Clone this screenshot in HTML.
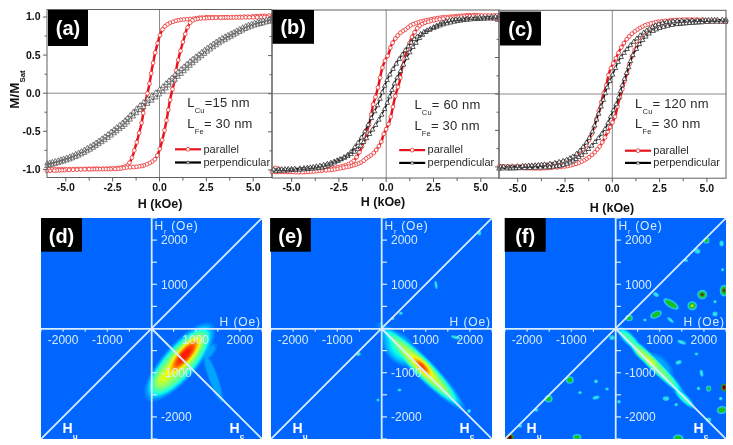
<!DOCTYPE html>
<html><head><meta charset="utf-8"><style>
html,body{margin:0;padding:0;background:#fff;}
body{width:733px;height:445px;position:relative;overflow:hidden;}
svg{will-change:transform;}
</style></head><body>
<svg width="733" height="445" viewBox="0 0 733 445" style="position:absolute;left:0;top:0;font-family:'Liberation Sans', sans-serif"><line x1="47" y1="93.2" x2="272" y2="93.2" stroke="#8a8a8a" stroke-width="1"/><line x1="159.5" y1="9.5" x2="159.5" y2="177.5" stroke="#8a8a8a" stroke-width="1"/><path d="M272.0,15.5 L270.7,15.6 L269.0,15.6 L267.0,15.7 L264.7,15.8 L262.2,16.0 L259.7,16.1 L257.1,16.2 L254.6,16.3 L252.2,16.4 L250.0,16.5 L247.9,16.6 L246.0,16.7 L244.0,16.7 L242.1,16.8 L240.2,16.9 L238.3,17.0 L236.4,17.0 L234.4,17.1 L232.2,17.2 L230.0,17.2 L227.6,17.2 L225.0,17.3 L222.2,17.3 L219.3,17.3 L216.5,17.3 L213.6,17.3 L210.9,17.3 L208.4,17.3 L206.0,17.3 L204.0,17.4 L202.3,17.5 L200.8,17.6 L199.5,17.7 L198.3,17.9 L197.3,18.1 L196.4,18.2 L195.4,18.4 L194.5,18.5 L193.6,18.7 L192.5,18.8 L191.4,18.9 L190.3,19.0 L189.1,19.1 L188.0,19.2 L186.9,19.2 L185.8,19.3 L184.7,19.4 L183.7,19.5 L182.7,19.6 L181.7,19.7 L180.8,19.8 L179.9,20.0 L179.0,20.1 L178.2,20.3 L177.4,20.5 L176.6,20.6 L175.8,20.8 L175.1,21.0 L174.3,21.3 L173.6,21.5 L172.9,21.8 L172.1,22.1 L171.4,22.4 L170.7,22.7 L169.9,23.0 L169.3,23.4 L168.6,23.7 L168.0,24.1 L167.4,24.4 L166.8,24.8 L166.3,25.2 L165.8,25.5 L165.3,25.9 L164.9,26.3 L164.5,26.7 L164.2,27.1 L163.8,27.5 L163.5,28.0 L163.1,28.4 L162.8,28.9 L162.5,29.4 L162.2,29.9 L161.9,30.4 L161.7,31.0 L161.5,31.6 L161.2,32.1 L161.0,32.7 L160.8,33.2 L160.6,33.8 L160.4,34.3 L160.2,34.8 L160.0,35.3 L159.8,35.7 L159.7,36.2 L159.5,36.6 L159.3,37.1 L159.2,37.5 L159.0,38.0 L158.9,38.5 L158.7,39.0 L158.5,39.6 L158.4,40.1 L158.2,40.7 L158.1,41.3 L157.9,41.9 L157.7,42.5 L157.6,43.2 L157.4,43.8 L157.3,44.5 L157.1,45.1 L156.9,45.7 L156.8,46.4 L156.6,47.0 L156.4,47.6 L156.3,48.3 L156.1,48.9 L155.9,49.6 L155.7,50.3 L155.6,51.0 L155.4,51.8 L155.2,52.6 L155.0,53.4 L154.9,54.3 L154.7,55.2 L154.5,56.1 L154.3,57.0 L154.1,58.0 L153.9,58.9 L153.8,59.7 L153.6,60.6 L153.4,61.4 L153.3,62.2 L153.1,63.0 L152.9,63.7 L152.8,64.5 L152.6,65.2 L152.5,66.0 L152.3,66.8 L152.2,67.6 L152.0,68.5 L151.8,69.4 L151.7,70.4 L151.5,71.3 L151.4,72.3 L151.2,73.4 L151.1,74.4 L150.9,75.4 L150.7,76.5 L150.6,77.5 L150.4,78.5 L150.2,79.5 L150.0,80.5 L149.9,81.5 L149.7,82.6 L149.5,83.6 L149.3,84.6 L149.1,85.6 L148.9,86.6 L148.7,87.6 L148.5,88.6 L148.3,89.6 L148.1,90.6 L147.9,91.5 L147.6,92.5 L147.4,93.4 L147.2,94.4 L147.0,95.3 L146.8,96.3 L146.5,97.2 L146.3,98.1 L146.1,99.0 L145.8,99.9 L145.6,100.7 L145.3,101.6 L145.1,102.4 L144.9,103.3 L144.6,104.1 L144.4,105.0 L144.2,105.9 L144.0,106.8 L143.8,107.8 L143.7,108.8 L143.5,109.8 L143.4,110.9 L143.3,111.9 L143.2,113.0 L143.1,114.0 L143.0,115.0 L142.8,116.0 L142.7,117.0 L142.5,117.9 L142.4,118.8 L142.2,119.6 L142.1,120.5 L141.9,121.3 L141.7,122.1 L141.6,122.9 L141.4,123.8 L141.2,124.6 L141.0,125.5 L140.8,126.4 L140.6,127.3 L140.3,128.3 L140.1,129.2 L139.9,130.2 L139.6,131.2 L139.4,132.1 L139.2,133.0 L138.9,133.9 L138.7,134.8 L138.5,135.6 L138.3,136.4 L138.1,137.2 L137.9,138.0 L137.7,138.7 L137.5,139.4 L137.3,140.2 L137.1,140.9 L136.9,141.6 L136.7,142.3 L136.5,143.0 L136.3,143.7 L136.1,144.4 L135.9,145.0 L135.7,145.7 L135.5,146.4 L135.3,147.0 L135.1,147.7 L134.9,148.3 L134.7,149.0 L134.5,149.7 L134.3,150.4 L134.1,151.1 L133.9,151.8 L133.7,152.4 L133.6,153.1 L133.4,153.8 L133.1,154.5 L132.9,155.2 L132.7,155.8 L132.5,156.4 L132.2,157.1 L132.0,157.7 L131.7,158.3 L131.4,159.0 L131.2,159.6 L130.9,160.2 L130.6,160.7 L130.3,161.3 L130.0,161.8 L129.7,162.3 L129.4,162.8 L129.2,163.2 L128.9,163.7 L128.6,164.1 L128.3,164.5 L128.0,164.9 L127.6,165.2 L127.1,165.6 L126.6,165.9 L126.0,166.2 L125.4,166.5 L124.7,166.7 L124.0,166.9 L123.2,167.1 L122.4,167.3 L121.5,167.5 L120.5,167.6 L119.5,167.8 L118.5,167.9 L117.4,168.0 L116.3,168.1 L115.2,168.2 L114.0,168.3 L112.8,168.3 L111.5,168.4 L110.1,168.5 L108.5,168.5 L106.8,168.5 L105.0,168.6 L103.0,168.7 L100.9,168.7 L98.6,168.7 L96.2,168.8 L93.7,168.8 L91.1,168.9 L88.5,168.9 L85.7,168.9 L82.9,169.0 L80.0,169.0 L76.9,169.0 L73.4,169.1 L69.6,169.1 L65.8,169.1 L61.9,169.1 L58.2,169.1 L54.7,169.2 L51.6,169.2 L49.0,169.2 L47.0,169.2" fill="none" stroke="#e8141b" stroke-width="2.5" stroke-linejoin="round"/><path d="M272.0,17.2 L270.0,17.2 L267.4,17.2 L264.3,17.2 L260.8,17.3 L257.1,17.3 L253.2,17.3 L249.4,17.3 L245.6,17.3 L242.1,17.4 L239.0,17.4 L236.1,17.4 L233.3,17.5 L230.5,17.5 L227.9,17.5 L225.3,17.6 L222.8,17.6 L220.4,17.7 L218.1,17.7 L216.0,17.7 L214.0,17.8 L212.2,17.9 L210.5,17.9 L208.9,17.9 L207.5,18.0 L206.2,18.1 L205.0,18.1 L203.8,18.2 L202.7,18.3 L201.6,18.4 L200.5,18.5 L199.5,18.6 L198.5,18.8 L197.5,18.9 L196.6,19.1 L195.8,19.3 L195.0,19.5 L194.3,19.7 L193.6,19.9 L193.0,20.2 L192.4,20.5 L191.9,20.8 L191.4,21.2 L191.0,21.5 L190.7,21.9 L190.4,22.3 L190.1,22.7 L189.8,23.2 L189.6,23.6 L189.3,24.1 L189.0,24.6 L188.7,25.1 L188.4,25.7 L188.1,26.2 L187.8,26.8 L187.6,27.4 L187.3,28.1 L187.0,28.7 L186.8,29.3 L186.5,30.0 L186.3,30.6 L186.1,31.2 L185.9,31.9 L185.6,32.6 L185.4,33.3 L185.3,34.0 L185.1,34.6 L184.9,35.3 L184.7,36.0 L184.5,36.7 L184.3,37.4 L184.1,38.1 L183.9,38.7 L183.7,39.4 L183.5,40.0 L183.3,40.7 L183.1,41.4 L182.9,42.0 L182.7,42.7 L182.5,43.4 L182.3,44.1 L182.1,44.8 L181.9,45.5 L181.7,46.2 L181.5,47.0 L181.3,47.7 L181.1,48.4 L180.9,49.2 L180.7,50.0 L180.5,50.8 L180.3,51.6 L180.1,52.5 L179.8,53.4 L179.6,54.3 L179.4,55.2 L179.1,56.2 L178.9,57.2 L178.7,58.1 L178.4,59.1 L178.2,60.0 L178.0,60.9 L177.8,61.8 L177.6,62.6 L177.4,63.5 L177.3,64.3 L177.1,65.1 L176.9,65.9 L176.8,66.8 L176.6,67.6 L176.5,68.5 L176.3,69.4 L176.2,70.4 L176.0,71.4 L175.9,72.4 L175.8,73.4 L175.7,74.5 L175.6,75.5 L175.5,76.6 L175.3,77.6 L175.2,78.6 L175.0,79.6 L174.8,80.5 L174.6,81.4 L174.4,82.3 L174.1,83.1 L173.9,84.0 L173.7,84.8 L173.4,85.7 L173.2,86.5 L172.9,87.4 L172.7,88.3 L172.5,89.2 L172.2,90.1 L172.0,91.1 L171.8,92.0 L171.6,93.0 L171.4,93.9 L171.1,94.9 L170.9,95.8 L170.7,96.8 L170.5,97.8 L170.3,98.8 L170.1,99.8 L169.9,100.8 L169.7,101.8 L169.5,102.8 L169.3,103.8 L169.1,104.9 L169.0,105.9 L168.8,106.9 L168.6,107.9 L168.4,108.9 L168.3,109.9 L168.1,111.0 L167.9,112.0 L167.8,113.0 L167.6,114.1 L167.5,115.1 L167.3,116.0 L167.2,117.0 L167.0,117.9 L166.8,118.8 L166.7,119.6 L166.5,120.4 L166.4,121.2 L166.2,121.9 L166.1,122.7 L165.9,123.4 L165.7,124.2 L165.6,125.0 L165.4,125.8 L165.2,126.7 L165.1,127.5 L164.9,128.4 L164.7,129.4 L164.5,130.3 L164.3,131.2 L164.1,132.1 L164.0,133.0 L163.8,133.8 L163.6,134.6 L163.4,135.4 L163.3,136.1 L163.1,136.8 L162.9,137.5 L162.7,138.1 L162.6,138.8 L162.4,139.4 L162.2,140.0 L162.1,140.7 L161.9,141.3 L161.7,141.9 L161.6,142.6 L161.4,143.2 L161.3,143.9 L161.1,144.5 L160.9,145.1 L160.8,145.7 L160.6,146.3 L160.5,146.8 L160.3,147.4 L160.1,147.9 L160.0,148.4 L159.8,148.9 L159.7,149.3 L159.5,149.8 L159.3,150.2 L159.2,150.7 L159.0,151.1 L158.8,151.6 L158.6,152.1 L158.4,152.6 L158.2,153.2 L158.0,153.7 L157.8,154.3 L157.5,154.8 L157.3,155.4 L157.1,156.0 L156.8,156.5 L156.5,157.0 L156.2,157.5 L155.9,158.0 L155.5,158.4 L155.2,158.9 L154.8,159.3 L154.5,159.7 L154.1,160.1 L153.7,160.5 L153.2,160.9 L152.7,161.2 L152.2,161.6 L151.6,162.0 L151.0,162.3 L150.4,162.7 L149.7,163.0 L149.1,163.4 L148.3,163.7 L147.6,164.0 L146.9,164.3 L146.1,164.6 L145.4,164.9 L144.7,165.1 L143.9,165.4 L143.2,165.6 L142.4,165.8 L141.6,166.0 L140.8,166.1 L140.0,166.3 L139.1,166.4 L138.2,166.6 L137.3,166.7 L136.3,166.8 L135.3,166.9 L134.3,167.0 L133.2,167.1 L132.1,167.2 L131.0,167.2 L129.9,167.3 L128.7,167.4 L127.6,167.5 L126.5,167.6 L125.4,167.7 L124.5,167.9 L123.6,168.0 L122.6,168.2 L121.7,168.3 L120.7,168.5 L119.5,168.7 L118.2,168.8 L116.7,168.9 L115.0,169.0 L113.0,169.1 L110.6,169.1 L108.1,169.1 L105.4,169.1 L102.5,169.1 L99.7,169.1 L96.8,169.1 L94.0,169.1 L91.4,169.2 L89.0,169.2 L86.8,169.2 L84.6,169.3 L82.6,169.4 L80.7,169.4 L78.8,169.5 L76.9,169.6 L75.0,169.7 L73.0,169.7 L71.1,169.8 L69.0,169.9 L66.8,170.0 L64.4,170.1 L61.9,170.2 L59.3,170.3 L56.8,170.4 L54.3,170.6 L52.0,170.7 L50.0,170.8 L48.3,170.8 L47.0,170.9" fill="none" stroke="#e8141b" stroke-width="2.5" stroke-linejoin="round"/><circle fill="#fff" stroke="#f03a3a" stroke-width="0.85" cx="272.0" cy="15.5" r="1.9"/><circle fill="#fff" stroke="#f03a3a" stroke-width="0.85" cx="269.0" cy="15.6" r="1.9"/><circle fill="#fff" stroke="#f03a3a" stroke-width="0.85" cx="264.7" cy="15.8" r="1.9"/><circle fill="#fff" stroke="#f03a3a" stroke-width="0.85" cx="262.2" cy="16.0" r="1.9"/><circle fill="#fff" stroke="#f03a3a" stroke-width="0.85" cx="259.7" cy="16.1" r="1.9"/><circle fill="#fff" stroke="#f03a3a" stroke-width="0.85" cx="257.1" cy="16.2" r="1.9"/><circle fill="#fff" stroke="#f03a3a" stroke-width="0.85" cx="254.6" cy="16.3" r="1.9"/><circle fill="#fff" stroke="#f03a3a" stroke-width="0.85" cx="252.2" cy="16.4" r="1.9"/><circle fill="#fff" stroke="#f03a3a" stroke-width="0.85" cx="247.9" cy="16.6" r="1.9"/><circle fill="#fff" stroke="#f03a3a" stroke-width="0.85" cx="244.0" cy="16.7" r="1.9"/><circle fill="#fff" stroke="#f03a3a" stroke-width="0.85" cx="240.2" cy="16.9" r="1.9"/><circle fill="#fff" stroke="#f03a3a" stroke-width="0.85" cx="236.4" cy="17.0" r="1.9"/><circle fill="#fff" stroke="#f03a3a" stroke-width="0.85" cx="232.2" cy="17.2" r="1.9"/><circle fill="#fff" stroke="#f03a3a" stroke-width="0.85" cx="227.6" cy="17.2" r="1.9"/><circle fill="#fff" stroke="#f03a3a" stroke-width="0.85" cx="225.0" cy="17.3" r="1.9"/><circle fill="#fff" stroke="#f03a3a" stroke-width="0.85" cx="222.2" cy="17.3" r="1.9"/><circle fill="#fff" stroke="#f03a3a" stroke-width="0.85" cx="219.3" cy="17.3" r="1.9"/><circle fill="#fff" stroke="#f03a3a" stroke-width="0.85" cx="216.5" cy="17.3" r="1.9"/><circle fill="#fff" stroke="#f03a3a" stroke-width="0.85" cx="213.6" cy="17.3" r="1.9"/><circle fill="#fff" stroke="#f03a3a" stroke-width="0.85" cx="210.9" cy="17.3" r="1.9"/><circle fill="#fff" stroke="#f03a3a" stroke-width="0.85" cx="208.4" cy="17.3" r="1.9"/><circle fill="#fff" stroke="#f03a3a" stroke-width="0.85" cx="206.0" cy="17.3" r="1.9"/><circle fill="#fff" stroke="#f03a3a" stroke-width="0.85" cx="202.3" cy="17.5" r="1.9"/><circle fill="#fff" stroke="#f03a3a" stroke-width="0.85" cx="199.5" cy="17.7" r="1.9"/><circle fill="#fff" stroke="#f03a3a" stroke-width="0.85" cx="196.4" cy="18.2" r="1.9"/><circle fill="#fff" stroke="#f03a3a" stroke-width="0.85" cx="193.6" cy="18.7" r="1.9"/><circle fill="#fff" stroke="#f03a3a" stroke-width="0.85" cx="190.3" cy="19.0" r="1.9"/><circle fill="#fff" stroke="#f03a3a" stroke-width="0.85" cx="186.9" cy="19.2" r="1.9"/><circle fill="#fff" stroke="#f03a3a" stroke-width="0.85" cx="183.7" cy="19.5" r="1.9"/><circle fill="#fff" stroke="#f03a3a" stroke-width="0.85" cx="180.8" cy="19.8" r="1.9"/><circle fill="#fff" stroke="#f03a3a" stroke-width="0.85" cx="178.2" cy="20.3" r="1.9"/><circle fill="#fff" stroke="#f03a3a" stroke-width="0.85" cx="175.8" cy="20.8" r="1.9"/><circle fill="#fff" stroke="#f03a3a" stroke-width="0.85" cx="172.9" cy="21.8" r="1.9"/><circle fill="#fff" stroke="#f03a3a" stroke-width="0.85" cx="169.9" cy="23.0" r="1.9"/><circle fill="#fff" stroke="#f03a3a" stroke-width="0.85" cx="167.4" cy="24.4" r="1.9"/><circle fill="#fff" stroke="#f03a3a" stroke-width="0.85" cx="164.9" cy="26.3" r="1.9"/><circle fill="#fff" stroke="#f03a3a" stroke-width="0.85" cx="162.5" cy="29.4" r="1.9"/><circle fill="#fff" stroke="#f03a3a" stroke-width="0.85" cx="160.0" cy="35.3" r="1.9"/><circle fill="#fff" stroke="#f03a3a" stroke-width="0.85" cx="157.6" cy="43.2" r="1.9"/><circle fill="#fff" stroke="#f03a3a" stroke-width="0.85" cx="155.2" cy="52.6" r="1.9"/><circle fill="#fff" stroke="#f03a3a" stroke-width="0.85" cx="153.1" cy="63.0" r="1.9"/><circle fill="#fff" stroke="#f03a3a" stroke-width="0.85" cx="151.2" cy="73.4" r="1.9"/><circle fill="#fff" stroke="#f03a3a" stroke-width="0.85" cx="149.5" cy="83.6" r="1.9"/><circle fill="#fff" stroke="#f03a3a" stroke-width="0.85" cx="147.4" cy="93.4" r="1.9"/><circle fill="#fff" stroke="#f03a3a" stroke-width="0.85" cx="145.1" cy="102.4" r="1.9"/><circle fill="#fff" stroke="#f03a3a" stroke-width="0.85" cx="143.2" cy="113.0" r="1.9"/><circle fill="#fff" stroke="#f03a3a" stroke-width="0.85" cx="141.6" cy="122.9" r="1.9"/><circle fill="#fff" stroke="#f03a3a" stroke-width="0.85" cx="139.2" cy="133.0" r="1.9"/><circle fill="#fff" stroke="#f03a3a" stroke-width="0.85" cx="136.7" cy="142.3" r="1.9"/><circle fill="#fff" stroke="#f03a3a" stroke-width="0.85" cx="134.3" cy="150.4" r="1.9"/><circle fill="#fff" stroke="#f03a3a" stroke-width="0.85" cx="132.0" cy="157.7" r="1.9"/><circle fill="#fff" stroke="#f03a3a" stroke-width="0.85" cx="129.4" cy="162.8" r="1.9"/><circle fill="#fff" stroke="#f03a3a" stroke-width="0.85" cx="127.1" cy="165.6" r="1.9"/><circle fill="#fff" stroke="#f03a3a" stroke-width="0.85" cx="124.7" cy="166.7" r="1.9"/><circle fill="#fff" stroke="#f03a3a" stroke-width="0.85" cx="122.4" cy="167.3" r="1.9"/><circle fill="#fff" stroke="#f03a3a" stroke-width="0.85" cx="119.5" cy="167.8" r="1.9"/><circle fill="#fff" stroke="#f03a3a" stroke-width="0.85" cx="116.3" cy="168.1" r="1.9"/><circle fill="#fff" stroke="#f03a3a" stroke-width="0.85" cx="112.8" cy="168.3" r="1.9"/><circle fill="#fff" stroke="#f03a3a" stroke-width="0.85" cx="110.1" cy="168.5" r="1.9"/><circle fill="#fff" stroke="#f03a3a" stroke-width="0.85" cx="106.8" cy="168.5" r="1.9"/><circle fill="#fff" stroke="#f03a3a" stroke-width="0.85" cx="103.0" cy="168.7" r="1.9"/><circle fill="#fff" stroke="#f03a3a" stroke-width="0.85" cx="98.6" cy="168.7" r="1.9"/><circle fill="#fff" stroke="#f03a3a" stroke-width="0.85" cx="96.2" cy="168.8" r="1.9"/><circle fill="#fff" stroke="#f03a3a" stroke-width="0.85" cx="93.7" cy="168.8" r="1.9"/><circle fill="#fff" stroke="#f03a3a" stroke-width="0.85" cx="91.1" cy="168.9" r="1.9"/><circle fill="#fff" stroke="#f03a3a" stroke-width="0.85" cx="88.5" cy="168.9" r="1.9"/><circle fill="#fff" stroke="#f03a3a" stroke-width="0.85" cx="85.7" cy="168.9" r="1.9"/><circle fill="#fff" stroke="#f03a3a" stroke-width="0.85" cx="82.9" cy="169.0" r="1.9"/><circle fill="#fff" stroke="#f03a3a" stroke-width="0.85" cx="80.0" cy="169.0" r="1.9"/><circle fill="#fff" stroke="#f03a3a" stroke-width="0.85" cx="76.9" cy="169.0" r="1.9"/><circle fill="#fff" stroke="#f03a3a" stroke-width="0.85" cx="73.4" cy="169.1" r="1.9"/><circle fill="#fff" stroke="#f03a3a" stroke-width="0.85" cx="69.6" cy="169.1" r="1.9"/><circle fill="#fff" stroke="#f03a3a" stroke-width="0.85" cx="65.8" cy="169.1" r="1.9"/><circle fill="#fff" stroke="#f03a3a" stroke-width="0.85" cx="61.9" cy="169.1" r="1.9"/><circle fill="#fff" stroke="#f03a3a" stroke-width="0.85" cx="58.2" cy="169.1" r="1.9"/><circle fill="#fff" stroke="#f03a3a" stroke-width="0.85" cx="54.7" cy="169.2" r="1.9"/><circle fill="#fff" stroke="#f03a3a" stroke-width="0.85" cx="51.6" cy="169.2" r="1.9"/><circle fill="#fff" stroke="#f03a3a" stroke-width="0.85" cx="49.0" cy="169.2" r="1.9"/><circle fill="#fff" stroke="#f03a3a" stroke-width="0.85" cx="272.0" cy="17.2" r="1.9"/><circle fill="#fff" stroke="#f03a3a" stroke-width="0.85" cx="267.4" cy="17.2" r="1.9"/><circle fill="#fff" stroke="#f03a3a" stroke-width="0.85" cx="264.3" cy="17.2" r="1.9"/><circle fill="#fff" stroke="#f03a3a" stroke-width="0.85" cx="260.8" cy="17.3" r="1.9"/><circle fill="#fff" stroke="#f03a3a" stroke-width="0.85" cx="257.1" cy="17.3" r="1.9"/><circle fill="#fff" stroke="#f03a3a" stroke-width="0.85" cx="253.2" cy="17.3" r="1.9"/><circle fill="#fff" stroke="#f03a3a" stroke-width="0.85" cx="249.4" cy="17.3" r="1.9"/><circle fill="#fff" stroke="#f03a3a" stroke-width="0.85" cx="245.6" cy="17.3" r="1.9"/><circle fill="#fff" stroke="#f03a3a" stroke-width="0.85" cx="242.1" cy="17.4" r="1.9"/><circle fill="#fff" stroke="#f03a3a" stroke-width="0.85" cx="239.0" cy="17.4" r="1.9"/><circle fill="#fff" stroke="#f03a3a" stroke-width="0.85" cx="236.1" cy="17.4" r="1.9"/><circle fill="#fff" stroke="#f03a3a" stroke-width="0.85" cx="233.3" cy="17.5" r="1.9"/><circle fill="#fff" stroke="#f03a3a" stroke-width="0.85" cx="230.5" cy="17.5" r="1.9"/><circle fill="#fff" stroke="#f03a3a" stroke-width="0.85" cx="227.9" cy="17.5" r="1.9"/><circle fill="#fff" stroke="#f03a3a" stroke-width="0.85" cx="225.3" cy="17.6" r="1.9"/><circle fill="#fff" stroke="#f03a3a" stroke-width="0.85" cx="222.8" cy="17.6" r="1.9"/><circle fill="#fff" stroke="#f03a3a" stroke-width="0.85" cx="220.4" cy="17.7" r="1.9"/><circle fill="#fff" stroke="#f03a3a" stroke-width="0.85" cx="216.0" cy="17.7" r="1.9"/><circle fill="#fff" stroke="#f03a3a" stroke-width="0.85" cx="212.2" cy="17.9" r="1.9"/><circle fill="#fff" stroke="#f03a3a" stroke-width="0.85" cx="208.9" cy="17.9" r="1.9"/><circle fill="#fff" stroke="#f03a3a" stroke-width="0.85" cx="206.2" cy="18.1" r="1.9"/><circle fill="#fff" stroke="#f03a3a" stroke-width="0.85" cx="203.8" cy="18.2" r="1.9"/><circle fill="#fff" stroke="#f03a3a" stroke-width="0.85" cx="200.5" cy="18.5" r="1.9"/><circle fill="#fff" stroke="#f03a3a" stroke-width="0.85" cx="197.5" cy="18.9" r="1.9"/><circle fill="#fff" stroke="#f03a3a" stroke-width="0.85" cx="195.0" cy="19.5" r="1.9"/><circle fill="#fff" stroke="#f03a3a" stroke-width="0.85" cx="192.4" cy="20.5" r="1.9"/><circle fill="#fff" stroke="#f03a3a" stroke-width="0.85" cx="190.1" cy="22.7" r="1.9"/><circle fill="#fff" stroke="#f03a3a" stroke-width="0.85" cx="187.6" cy="27.4" r="1.9"/><circle fill="#fff" stroke="#f03a3a" stroke-width="0.85" cx="185.3" cy="34.0" r="1.9"/><circle fill="#fff" stroke="#f03a3a" stroke-width="0.85" cx="182.9" cy="42.0" r="1.9"/><circle fill="#fff" stroke="#f03a3a" stroke-width="0.85" cx="180.5" cy="50.8" r="1.9"/><circle fill="#fff" stroke="#f03a3a" stroke-width="0.85" cx="178.2" cy="60.0" r="1.9"/><circle fill="#fff" stroke="#f03a3a" stroke-width="0.85" cx="176.2" cy="70.4" r="1.9"/><circle fill="#fff" stroke="#f03a3a" stroke-width="0.85" cx="174.8" cy="80.5" r="1.9"/><circle fill="#fff" stroke="#f03a3a" stroke-width="0.85" cx="172.5" cy="89.2" r="1.9"/><circle fill="#fff" stroke="#f03a3a" stroke-width="0.85" cx="170.1" cy="99.8" r="1.9"/><circle fill="#fff" stroke="#f03a3a" stroke-width="0.85" cx="168.3" cy="109.9" r="1.9"/><circle fill="#fff" stroke="#f03a3a" stroke-width="0.85" cx="166.5" cy="120.4" r="1.9"/><circle fill="#fff" stroke="#f03a3a" stroke-width="0.85" cx="164.5" cy="130.3" r="1.9"/><circle fill="#fff" stroke="#f03a3a" stroke-width="0.85" cx="162.2" cy="140.0" r="1.9"/><circle fill="#fff" stroke="#f03a3a" stroke-width="0.85" cx="159.8" cy="148.9" r="1.9"/><circle fill="#fff" stroke="#f03a3a" stroke-width="0.85" cx="157.3" cy="155.4" r="1.9"/><circle fill="#fff" stroke="#f03a3a" stroke-width="0.85" cx="154.8" cy="159.3" r="1.9"/><circle fill="#fff" stroke="#f03a3a" stroke-width="0.85" cx="152.2" cy="161.6" r="1.9"/><circle fill="#fff" stroke="#f03a3a" stroke-width="0.85" cx="149.7" cy="163.0" r="1.9"/><circle fill="#fff" stroke="#f03a3a" stroke-width="0.85" cx="146.9" cy="164.3" r="1.9"/><circle fill="#fff" stroke="#f03a3a" stroke-width="0.85" cx="143.9" cy="165.4" r="1.9"/><circle fill="#fff" stroke="#f03a3a" stroke-width="0.85" cx="141.6" cy="166.0" r="1.9"/><circle fill="#fff" stroke="#f03a3a" stroke-width="0.85" cx="139.1" cy="166.4" r="1.9"/><circle fill="#fff" stroke="#f03a3a" stroke-width="0.85" cx="136.3" cy="166.8" r="1.9"/><circle fill="#fff" stroke="#f03a3a" stroke-width="0.85" cx="133.2" cy="167.1" r="1.9"/><circle fill="#fff" stroke="#f03a3a" stroke-width="0.85" cx="129.9" cy="167.3" r="1.9"/><circle fill="#fff" stroke="#f03a3a" stroke-width="0.85" cx="126.5" cy="167.6" r="1.9"/><circle fill="#fff" stroke="#f03a3a" stroke-width="0.85" cx="123.6" cy="168.0" r="1.9"/><circle fill="#fff" stroke="#f03a3a" stroke-width="0.85" cx="120.7" cy="168.5" r="1.9"/><circle fill="#fff" stroke="#f03a3a" stroke-width="0.85" cx="118.2" cy="168.8" r="1.9"/><circle fill="#fff" stroke="#f03a3a" stroke-width="0.85" cx="115.0" cy="169.0" r="1.9"/><circle fill="#fff" stroke="#f03a3a" stroke-width="0.85" cx="110.6" cy="169.1" r="1.9"/><circle fill="#fff" stroke="#f03a3a" stroke-width="0.85" cx="108.1" cy="169.1" r="1.9"/><circle fill="#fff" stroke="#f03a3a" stroke-width="0.85" cx="105.4" cy="169.1" r="1.9"/><circle fill="#fff" stroke="#f03a3a" stroke-width="0.85" cx="102.5" cy="169.1" r="1.9"/><circle fill="#fff" stroke="#f03a3a" stroke-width="0.85" cx="99.7" cy="169.1" r="1.9"/><circle fill="#fff" stroke="#f03a3a" stroke-width="0.85" cx="96.8" cy="169.1" r="1.9"/><circle fill="#fff" stroke="#f03a3a" stroke-width="0.85" cx="94.0" cy="169.1" r="1.9"/><circle fill="#fff" stroke="#f03a3a" stroke-width="0.85" cx="91.4" cy="169.2" r="1.9"/><circle fill="#fff" stroke="#f03a3a" stroke-width="0.85" cx="89.0" cy="169.2" r="1.9"/><circle fill="#fff" stroke="#f03a3a" stroke-width="0.85" cx="84.6" cy="169.3" r="1.9"/><circle fill="#fff" stroke="#f03a3a" stroke-width="0.85" cx="80.7" cy="169.4" r="1.9"/><circle fill="#fff" stroke="#f03a3a" stroke-width="0.85" cx="76.9" cy="169.6" r="1.9"/><circle fill="#fff" stroke="#f03a3a" stroke-width="0.85" cx="73.0" cy="169.7" r="1.9"/><circle fill="#fff" stroke="#f03a3a" stroke-width="0.85" cx="69.0" cy="169.9" r="1.9"/><circle fill="#fff" stroke="#f03a3a" stroke-width="0.85" cx="64.4" cy="170.1" r="1.9"/><circle fill="#fff" stroke="#f03a3a" stroke-width="0.85" cx="61.9" cy="170.2" r="1.9"/><circle fill="#fff" stroke="#f03a3a" stroke-width="0.85" cx="59.3" cy="170.3" r="1.9"/><circle fill="#fff" stroke="#f03a3a" stroke-width="0.85" cx="56.8" cy="170.4" r="1.9"/><circle fill="#fff" stroke="#f03a3a" stroke-width="0.85" cx="54.3" cy="170.6" r="1.9"/><circle fill="#fff" stroke="#f03a3a" stroke-width="0.85" cx="50.0" cy="170.8" r="1.9"/><circle fill="#fff" stroke="#f03a3a" stroke-width="0.85" cx="47.0" cy="170.9" r="1.9"/><path d="M272.0,18.1 L271.5,18.2 L270.9,18.3 L270.2,18.5 L269.4,18.7 L268.5,18.9 L267.5,19.1 L266.5,19.4 L265.4,19.6 L264.3,19.9 L263.1,20.2 L261.9,20.6 L260.5,20.9 L259.1,21.3 L257.7,21.7 L256.2,22.1 L254.6,22.5 L253.1,23.0 L251.5,23.5 L250.0,24.0 L248.5,24.6 L247.0,25.2 L245.6,25.8 L244.1,26.5 L242.7,27.2 L241.2,27.9 L239.7,28.7 L238.3,29.5 L236.8,30.2 L235.4,31.0 L233.9,31.7 L232.4,32.5 L231.0,33.2 L229.5,34.0 L228.0,34.7 L226.6,35.5 L225.1,36.2 L223.6,37.0 L222.1,37.8 L220.7,38.7 L219.2,39.6 L217.7,40.5 L216.3,41.4 L214.8,42.4 L213.4,43.4 L211.9,44.4 L210.4,45.4 L209.0,46.4 L207.5,47.5 L206.1,48.5 L204.6,49.6 L203.1,50.7 L201.7,51.8 L200.2,52.9 L198.8,54.0 L197.3,55.1 L195.9,56.3 L194.4,57.5 L192.9,58.6 L191.5,59.8 L190.0,61.1 L188.5,62.3 L187.0,63.6 L185.5,64.9 L184.1,66.2 L182.6,67.6 L181.1,68.9 L179.5,70.3 L178.0,71.7 L176.5,73.1 L175.0,74.5 L173.5,75.9 L172.0,77.3 L170.5,78.7 L169.0,80.2 L167.5,81.6 L166.0,83.1 L164.5,84.6 L162.9,86.1 L161.2,87.6 L159.5,89.1 L157.7,90.6 L155.8,92.2 L153.8,93.8 L151.8,95.4 L149.7,97.0 L147.7,98.6 L145.6,100.3 L143.7,101.9 L141.8,103.5 L140.0,105.0 L138.3,106.6 L136.6,108.2 L134.9,109.9 L133.3,111.6 L131.7,113.2 L130.2,114.8 L128.8,116.3 L127.4,117.7 L126.2,119.0 L125.0,120.1 L124.0,121.1 L123.2,121.8 L122.6,122.4 L122.0,122.9 L121.5,123.3 L121.0,123.7 L120.4,124.2 L119.8,124.7 L119.0,125.3 L118.0,126.1 L116.8,127.0 L115.6,128.0 L114.2,129.1 L112.7,130.2 L111.2,131.4 L109.6,132.7 L108.0,133.9 L106.4,135.1 L104.9,136.2 L103.4,137.3 L101.9,138.3 L100.5,139.4 L99.0,140.4 L97.6,141.4 L96.1,142.4 L94.6,143.4 L93.2,144.3 L91.7,145.2 L90.3,146.1 L88.8,147.0 L87.3,147.8 L85.9,148.7 L84.4,149.5 L83.0,150.2 L81.5,151.0 L80.0,151.7 L78.6,152.4 L77.1,153.1 L75.7,153.8 L74.2,154.4 L72.7,155.1 L71.2,155.7 L69.8,156.2 L68.3,156.8 L66.8,157.3 L65.3,157.8 L63.8,158.3 L62.4,158.7 L61.0,159.2 L59.6,159.6 L58.2,160.1 L56.8,160.5 L55.3,160.9 L53.8,161.3 L52.4,161.7 L51.0,162.0 L49.8,162.3 L48.7,162.6 L47.7,162.9 L47.0,163.1" fill="none" stroke="#333" stroke-width="1.3" stroke-linejoin="round"/><path d="M272.0,20.9 L271.5,21.1 L270.9,21.2 L270.2,21.4 L269.4,21.6 L268.5,21.8 L267.5,22.0 L266.5,22.3 L265.4,22.5 L264.3,22.8 L263.1,23.2 L261.9,23.5 L260.5,23.9 L259.1,24.2 L257.7,24.6 L256.2,25.1 L254.6,25.5 L253.1,26.0 L251.5,26.5 L250.0,27.1 L248.5,27.6 L247.0,28.3 L245.6,28.9 L244.1,29.6 L242.7,30.4 L241.2,31.1 L239.7,31.9 L238.3,32.7 L236.8,33.5 L235.4,34.3 L233.9,35.1 L232.4,35.8 L231.0,36.6 L229.5,37.4 L228.0,38.2 L226.6,39.0 L225.1,39.8 L223.6,40.6 L222.1,41.4 L220.7,42.3 L219.2,43.2 L217.7,44.2 L216.3,45.2 L214.8,46.2 L213.4,47.2 L211.9,48.3 L210.4,49.4 L209.0,50.4 L207.5,51.5 L206.1,52.7 L204.6,53.8 L203.1,54.9 L201.7,56.1 L200.2,57.2 L198.8,58.4 L197.3,59.6 L195.9,60.7 L194.4,62.0 L192.9,63.2 L191.5,64.5 L190.0,65.7 L188.5,67.0 L187.0,68.4 L185.5,69.7 L184.1,71.1 L182.6,72.4 L181.1,73.8 L179.5,75.3 L178.0,76.7 L176.5,78.1 L175.0,79.5 L173.5,81.0 L172.0,82.4 L170.5,83.9 L169.0,85.3 L167.5,86.8 L166.0,88.3 L164.5,89.8 L162.9,91.3 L161.2,92.8 L159.5,94.3 L157.7,95.8 L155.8,97.4 L153.8,99.0 L151.8,100.6 L149.7,102.2 L147.7,103.7 L145.6,105.3 L143.7,106.9 L141.8,108.5 L140.0,110.0 L138.3,111.5 L136.6,113.1 L134.9,114.7 L133.3,116.4 L131.7,117.9 L130.2,119.5 L128.8,121.0 L127.4,122.3 L126.2,123.6 L125.0,124.7 L124.0,125.6 L123.2,126.3 L122.6,126.9 L122.0,127.3 L121.5,127.7 L121.0,128.1 L120.4,128.5 L119.8,129.0 L119.0,129.6 L118.0,130.3 L116.8,131.2 L115.6,132.2 L114.2,133.2 L112.7,134.4 L111.2,135.5 L109.6,136.7 L108.0,137.8 L106.4,139.0 L104.9,140.1 L103.4,141.1 L101.9,142.1 L100.5,143.1 L99.0,144.1 L97.6,145.0 L96.1,146.0 L94.6,146.9 L93.2,147.8 L91.7,148.7 L90.3,149.6 L88.8,150.4 L87.3,151.2 L85.9,152.0 L84.4,152.8 L83.0,153.5 L81.5,154.2 L80.0,155.0 L78.6,155.6 L77.1,156.3 L75.7,156.9 L74.2,157.6 L72.7,158.2 L71.2,158.7 L69.8,159.3 L68.3,159.8 L66.8,160.3 L65.3,160.8 L63.8,161.3 L62.4,161.7 L61.0,162.1 L59.6,162.6 L58.2,163.0 L56.8,163.4 L55.3,163.8 L53.8,164.2 L52.4,164.6 L51.0,164.9 L49.8,165.2 L48.7,165.5 L47.7,165.7 L47.0,165.9" fill="none" stroke="#333" stroke-width="1.3" stroke-linejoin="round"/><path d="M269.7,19.7L274.3,19.7L272.0,15.7ZM267.1,20.3L271.7,20.3L269.4,16.3ZM264.2,21.0L268.8,21.0L266.5,17.0ZM260.8,21.8L265.4,21.8L263.1,17.8ZM258.2,22.5L262.8,22.5L260.5,18.5ZM255.4,23.3L260.0,23.3L257.7,19.3ZM252.3,24.1L256.9,24.1L254.6,20.1ZM249.2,25.1L253.8,25.1L251.5,21.1ZM246.2,26.2L250.8,26.2L248.5,22.2ZM243.3,27.4L247.9,27.4L245.6,23.4ZM240.4,28.8L245.0,28.8L242.7,24.8ZM237.4,30.3L242.0,30.3L239.7,26.3ZM234.5,31.8L239.1,31.8L236.8,27.8ZM231.6,33.3L236.2,33.3L233.9,29.3ZM228.7,34.8L233.3,34.8L231.0,30.8ZM225.7,36.3L230.3,36.3L228.0,32.3ZM222.8,37.8L227.4,37.8L225.1,33.8ZM219.8,39.4L224.4,39.4L222.1,35.4ZM216.9,41.2L221.5,41.2L219.2,37.2ZM214.0,43.0L218.6,43.0L216.3,39.0ZM211.1,45.0L215.7,45.0L213.4,41.0ZM208.1,47.0L212.7,47.0L210.4,43.0ZM205.2,49.1L209.8,49.1L207.5,45.1ZM202.3,51.2L206.9,51.2L204.6,47.2ZM199.4,53.4L204.0,53.4L201.7,49.4ZM196.5,55.6L201.1,55.6L198.8,51.6ZM193.6,57.9L198.2,57.9L195.9,53.9ZM190.6,60.2L195.2,60.2L192.9,56.2ZM187.7,62.7L192.3,62.7L190.0,58.7ZM184.7,65.2L189.3,65.2L187.0,61.2ZM181.8,67.8L186.4,67.8L184.1,63.8ZM178.8,70.5L183.4,70.5L181.1,66.5ZM175.7,73.3L180.3,73.3L178.0,69.3ZM172.7,76.1L177.3,76.1L175.0,72.1ZM169.7,78.9L174.3,78.9L172.0,74.9ZM166.7,81.8L171.3,81.8L169.0,77.8ZM163.7,84.7L168.3,84.7L166.0,80.7ZM160.6,87.7L165.2,87.7L162.9,83.7ZM157.2,90.7L161.8,90.7L159.5,86.7ZM153.5,93.8L158.1,93.8L155.8,89.8ZM149.5,97.0L154.1,97.0L151.8,93.0ZM145.4,100.2L150.0,100.2L147.7,96.2ZM141.4,103.5L146.0,103.5L143.7,99.5ZM137.7,106.6L142.3,106.6L140.0,102.6ZM134.3,109.8L138.9,109.8L136.6,105.8ZM131.0,113.2L135.6,113.2L133.3,109.2ZM127.9,116.4L132.5,116.4L130.2,112.4ZM125.1,119.3L129.7,119.3L127.4,115.3ZM122.7,121.7L127.3,121.7L125.0,117.7ZM120.3,124.0L124.9,124.0L122.6,120.0ZM117.5,126.3L122.1,126.3L119.8,122.3ZM114.5,128.6L119.1,128.6L116.8,124.6ZM111.9,130.7L116.5,130.7L114.2,126.7ZM108.9,133.0L113.5,133.0L111.2,129.0ZM105.7,135.5L110.3,135.5L108.0,131.5ZM102.6,137.8L107.2,137.8L104.9,133.8ZM99.6,139.9L104.2,139.9L101.9,135.9ZM96.7,142.0L101.3,142.0L99.0,138.0ZM93.8,144.0L98.4,144.0L96.1,140.0ZM90.9,145.9L95.5,145.9L93.2,141.9ZM88.0,147.7L92.6,147.7L90.3,143.7ZM85.0,149.4L89.6,149.4L87.3,145.4ZM82.1,151.1L86.7,151.1L84.4,147.1ZM79.2,152.6L83.8,152.6L81.5,148.6ZM76.3,154.0L80.9,154.0L78.6,150.0ZM73.4,155.4L78.0,155.4L75.7,151.4ZM70.4,156.7L75.0,156.7L72.7,152.7ZM67.5,157.8L72.1,157.8L69.8,153.8ZM64.5,158.9L69.1,158.9L66.8,154.9ZM61.5,159.9L66.1,159.9L63.8,155.9ZM58.7,160.8L63.3,160.8L61.0,156.8ZM55.9,161.7L60.5,161.7L58.2,157.7ZM53.0,162.5L57.6,162.5L55.3,158.5ZM50.1,163.3L54.7,163.3L52.4,159.3ZM47.5,163.9L52.1,163.9L49.8,159.9ZM44.7,164.7L49.3,164.7L47.0,160.7ZM269.7,22.5L274.3,22.5L272.0,18.5ZM267.1,23.2L271.7,23.2L269.4,19.2ZM264.2,23.9L268.8,23.9L266.5,19.9ZM260.8,24.8L265.4,24.8L263.1,20.8ZM258.2,25.5L262.8,25.5L260.5,21.5ZM255.4,26.2L260.0,26.2L257.7,22.2ZM252.3,27.1L256.9,27.1L254.6,23.1ZM249.2,28.1L253.8,28.1L251.5,24.1ZM246.2,29.2L250.8,29.2L248.5,25.2ZM243.3,30.5L247.9,30.5L245.6,26.5ZM240.4,32.0L245.0,32.0L242.7,28.0ZM237.4,33.5L242.0,33.5L239.7,29.5ZM234.5,35.1L239.1,35.1L236.8,31.1ZM231.6,36.7L236.2,36.7L233.9,32.7ZM228.7,38.2L233.3,38.2L231.0,34.2ZM225.7,39.8L230.3,39.8L228.0,35.8ZM222.8,41.4L227.4,41.4L225.1,37.4ZM219.8,43.0L224.4,43.0L222.1,39.0ZM216.9,44.8L221.5,44.8L219.2,40.8ZM214.0,46.8L218.6,46.8L216.3,42.8ZM211.1,48.8L215.7,48.8L213.4,44.8ZM208.1,51.0L212.7,51.0L210.4,47.0ZM205.2,53.1L209.8,53.1L207.5,49.1ZM202.3,55.4L206.9,55.4L204.6,51.4ZM199.4,57.7L204.0,57.7L201.7,53.7ZM196.5,60.0L201.1,60.0L198.8,56.0ZM193.6,62.3L198.2,62.3L195.9,58.3ZM190.6,64.8L195.2,64.8L192.9,60.8ZM187.7,67.3L192.3,67.3L190.0,63.3ZM184.7,70.0L189.3,70.0L187.0,66.0ZM181.8,72.7L186.4,72.7L184.1,68.7ZM178.8,75.4L183.4,75.4L181.1,71.4ZM175.7,78.3L180.3,78.3L178.0,74.3ZM172.7,81.1L177.3,81.1L175.0,77.1ZM169.7,84.0L174.3,84.0L172.0,80.0ZM166.7,86.9L171.3,86.9L169.0,82.9ZM163.7,89.9L168.3,89.9L166.0,85.9ZM160.6,92.9L165.2,92.9L162.9,88.9ZM157.2,95.9L161.8,95.9L159.5,91.9ZM153.5,99.0L158.1,99.0L155.8,95.0ZM149.5,102.2L154.1,102.2L151.8,98.2ZM145.4,105.3L150.0,105.3L147.7,101.3ZM141.4,108.5L146.0,108.5L143.7,104.5ZM137.7,111.6L142.3,111.6L140.0,107.6ZM134.3,114.7L138.9,114.7L136.6,110.7ZM131.0,118.0L135.6,118.0L133.3,114.0ZM127.9,121.1L132.5,121.1L130.2,117.1ZM125.1,123.9L129.7,123.9L127.4,119.9ZM122.7,126.3L127.3,126.3L125.0,122.3ZM120.3,128.5L124.9,128.5L122.6,124.5ZM117.5,130.6L122.1,130.6L119.8,126.6ZM114.5,132.8L119.1,132.8L116.8,128.8ZM111.9,134.8L116.5,134.8L114.2,130.8ZM108.9,137.1L113.5,137.1L111.2,133.1ZM105.7,139.4L110.3,139.4L108.0,135.4ZM102.6,141.7L107.2,141.7L104.9,137.7ZM99.6,143.7L104.2,143.7L101.9,139.7ZM96.7,145.7L101.3,145.7L99.0,141.7ZM93.8,147.6L98.4,147.6L96.1,143.6ZM90.9,149.4L95.5,149.4L93.2,145.4ZM88.0,151.2L92.6,151.2L90.3,147.2ZM85.0,152.8L89.6,152.8L87.3,148.8ZM82.1,154.4L86.7,154.4L84.4,150.4ZM79.2,155.8L83.8,155.8L81.5,151.8ZM76.3,157.2L80.9,157.2L78.6,153.2ZM73.4,158.5L78.0,158.5L75.7,154.5ZM70.4,159.8L75.0,159.8L72.7,155.8ZM67.5,160.9L72.1,160.9L69.8,156.9ZM64.5,161.9L69.1,161.9L66.8,157.9ZM61.5,162.9L66.1,162.9L63.8,158.9ZM58.7,163.7L63.3,163.7L61.0,159.7ZM55.9,164.6L60.5,164.6L58.2,160.6ZM53.0,165.4L57.6,165.4L55.3,161.4ZM50.1,166.2L54.7,166.2L52.4,162.2ZM47.5,166.8L52.1,166.8L49.8,162.8ZM44.7,167.5L49.3,167.5L47.0,163.5Z" fill="#f4f4f4" stroke="#5a5a5a" stroke-width="0.75"/><rect x="47" y="9.5" width="225" height="168.0" fill="none" stroke="#606060" stroke-width="1"/><line x1="43" y1="169.4" x2="47" y2="169.4" stroke="#606060" stroke-width="1"/><line x1="44.5" y1="150.4" x2="47" y2="150.4" stroke="#606060" stroke-width="1"/><line x1="43" y1="131.3" x2="47" y2="131.3" stroke="#606060" stroke-width="1"/><line x1="44.5" y1="112.2" x2="47" y2="112.2" stroke="#606060" stroke-width="1"/><line x1="43" y1="93.2" x2="47" y2="93.2" stroke="#606060" stroke-width="1"/><line x1="44.5" y1="74.2" x2="47" y2="74.2" stroke="#606060" stroke-width="1"/><line x1="43" y1="55.1" x2="47" y2="55.1" stroke="#606060" stroke-width="1"/><line x1="44.5" y1="36.0" x2="47" y2="36.0" stroke="#606060" stroke-width="1"/><line x1="43" y1="17.0" x2="47" y2="17.0" stroke="#606060" stroke-width="1"/><line x1="65.8" y1="177.5" x2="65.8" y2="181.5" stroke="#606060" stroke-width="1"/><line x1="89.2" y1="177.5" x2="89.2" y2="180.5" stroke="#606060" stroke-width="1"/><line x1="112.6" y1="177.5" x2="112.6" y2="181.5" stroke="#606060" stroke-width="1"/><line x1="136.1" y1="177.5" x2="136.1" y2="180.5" stroke="#606060" stroke-width="1"/><line x1="159.5" y1="177.5" x2="159.5" y2="181.5" stroke="#606060" stroke-width="1"/><line x1="182.9" y1="177.5" x2="182.9" y2="180.5" stroke="#606060" stroke-width="1"/><line x1="206.4" y1="177.5" x2="206.4" y2="181.5" stroke="#606060" stroke-width="1"/><line x1="229.8" y1="177.5" x2="229.8" y2="180.5" stroke="#606060" stroke-width="1"/><line x1="253.2" y1="177.5" x2="253.2" y2="181.5" stroke="#606060" stroke-width="1"/><text x="65.8" y="190.6" font-size="10.5" font-weight="bold" fill="#111" text-anchor="middle">-5.0</text><text x="112.6" y="190.6" font-size="10.5" font-weight="bold" fill="#111" text-anchor="middle">-2.5</text><text x="159.5" y="190.6" font-size="10.5" font-weight="bold" fill="#111" text-anchor="middle">0.0</text><text x="206.4" y="190.6" font-size="10.5" font-weight="bold" fill="#111" text-anchor="middle">2.5</text><text x="253.2" y="190.6" font-size="10.5" font-weight="bold" fill="#111" text-anchor="middle">5.0</text><text x="160.1" y="207.7" font-size="12.5" font-weight="bold" fill="#111" text-anchor="middle">H (kOe)</text><rect x="48" y="10" width="40" height="36" fill="#000"/><text x="68.0" y="35.0" font-size="20" font-weight="bold" fill="#fff" text-anchor="middle">(a)</text><text x="187.3" y="106.8" font-size="13" fill="#2a2a2a" letter-spacing="0.2">L<tspan font-size="7.5" dy="6">Cu</tspan><tspan dy="-6">=15 nm</tspan></text><text x="187.3" y="127.5" font-size="13" fill="#2a2a2a" letter-spacing="0.2">L<tspan font-size="7.5" dy="6">Fe</tspan><tspan dy="-6">= 30 nm</tspan></text><line x1="175" y1="149.3" x2="201" y2="149.3" stroke="#e8141b" stroke-width="2.2"/><circle cx="188" cy="149.3" r="1.9" fill="#fff" stroke="#ee2a2a" stroke-width="0.8"/><line x1="175" y1="162.5" x2="201" y2="162.5" stroke="#000" stroke-width="2.2"/><path d="M186.2,163.7L189.8,163.7L188.0,160.7Z" fill="#fff" stroke="#333" stroke-width="0.6"/><text x="203.5" y="152.7" font-size="11" fill="#2a2a2a">parallel</text><text x="203.5" y="165.8" font-size="11" fill="#2a2a2a">perpendicular</text><line x1="272" y1="93.7" x2="499" y2="93.7" stroke="#8a8a8a" stroke-width="1"/><line x1="386.2" y1="10" x2="386.2" y2="178" stroke="#8a8a8a" stroke-width="1"/><path d="M499.0,20.0 L498.2,19.8 L497.1,19.5 L495.8,19.1 L494.4,18.8 L492.8,18.3 L491.2,17.9 L489.6,17.5 L488.0,17.1 L486.4,16.8 L485.0,16.5 L483.7,16.3 L482.5,16.0 L481.4,15.8 L480.3,15.6 L479.2,15.5 L478.1,15.3 L476.8,15.2 L475.4,15.1 L473.8,15.1 L472.0,15.1 L469.9,15.2 L467.4,15.3 L464.7,15.5 L461.9,15.7 L459.0,16.0 L456.1,16.2 L453.3,16.5 L450.7,16.7 L448.4,16.9 L446.4,17.1 L444.8,17.2 L443.5,17.3 L442.5,17.4 L441.6,17.5 L440.8,17.6 L440.2,17.7 L439.5,17.8 L438.8,17.9 L438.1,18.0 L437.2,18.1 L436.2,18.3 L435.2,18.4 L434.2,18.6 L433.1,18.8 L432.1,19.0 L431.0,19.3 L430.0,19.5 L429.0,19.7 L428.0,19.9 L427.1,20.1 L426.2,20.3 L425.4,20.5 L424.5,20.7 L423.7,20.8 L422.9,21.0 L422.1,21.2 L421.4,21.4 L420.6,21.6 L419.8,21.9 L419.0,22.1 L418.2,22.4 L417.3,22.6 L416.5,22.9 L415.7,23.2 L414.8,23.5 L414.0,23.8 L413.2,24.2 L412.4,24.5 L411.7,24.8 L411.0,25.2 L410.4,25.6 L409.8,25.9 L409.3,26.3 L408.8,26.7 L408.3,27.1 L407.9,27.5 L407.4,28.0 L406.9,28.4 L406.4,28.8 L405.9,29.2 L405.3,29.6 L404.7,30.0 L404.1,30.4 L403.5,30.7 L402.8,31.1 L402.2,31.5 L401.6,31.9 L401.0,32.4 L400.4,32.8 L399.8,33.3 L399.3,33.8 L398.7,34.4 L398.2,34.9 L397.7,35.5 L397.2,36.1 L396.7,36.7 L396.2,37.4 L395.7,38.0 L395.3,38.6 L394.8,39.3 L394.4,40.0 L393.9,40.6 L393.5,41.3 L393.0,42.1 L392.6,42.8 L392.2,43.5 L391.8,44.2 L391.5,45.0 L391.1,45.7 L390.8,46.4 L390.5,47.1 L390.3,47.8 L390.1,48.5 L389.9,49.2 L389.8,49.9 L389.6,50.6 L389.4,51.3 L389.2,52.0 L389.0,52.7 L388.7,53.5 L388.4,54.3 L388.0,55.0 L387.6,55.8 L387.2,56.6 L386.7,57.4 L386.3,58.2 L385.8,59.1 L385.4,59.9 L385.0,60.7 L384.6,61.6 L384.3,62.4 L383.9,63.3 L383.6,64.1 L383.3,64.9 L383.0,65.8 L382.7,66.6 L382.5,67.6 L382.2,68.5 L381.9,69.6 L381.6,70.7 L381.3,71.9 L381.0,73.2 L380.7,74.7 L380.4,76.1 L380.1,77.6 L379.8,79.1 L379.5,80.6 L379.2,82.1 L378.9,83.5 L378.6,84.9 L378.3,86.2 L378.0,87.5 L377.7,88.8 L377.3,90.1 L377.0,91.3 L376.7,92.5 L376.4,93.7 L376.1,94.8 L375.8,95.9 L375.5,97.0 L375.2,98.0 L374.9,98.8 L374.7,99.6 L374.4,100.4 L374.2,101.1 L373.9,101.8 L373.7,102.6 L373.4,103.5 L373.2,104.4 L372.9,105.5 L372.6,106.8 L372.4,108.2 L372.1,109.7 L371.8,111.2 L371.5,112.9 L371.3,114.5 L371.0,116.1 L370.7,117.6 L370.5,119.0 L370.2,120.3 L369.9,121.4 L369.7,122.5 L369.4,123.4 L369.1,124.3 L368.9,125.2 L368.6,126.0 L368.3,126.8 L368.1,127.6 L367.8,128.4 L367.6,129.2 L367.4,130.0 L367.2,130.9 L367.0,131.7 L366.8,132.6 L366.6,133.4 L366.4,134.2 L366.2,135.0 L366.0,135.8 L365.8,136.5 L365.6,137.3 L365.4,138.0 L365.1,138.7 L364.9,139.4 L364.6,140.1 L364.3,140.7 L364.1,141.3 L363.8,142.0 L363.5,142.7 L363.2,143.4 L362.9,144.1 L362.6,144.9 L362.3,145.6 L362.0,146.4 L361.7,147.2 L361.4,148.0 L361.1,148.8 L360.8,149.6 L360.4,150.5 L360.0,151.3 L359.5,152.2 L359.0,153.1 L358.4,154.1 L357.8,155.1 L357.2,156.1 L356.6,157.1 L355.9,158.1 L355.1,159.1 L354.4,160.0 L353.6,160.9 L352.8,161.6 L352.0,162.2 L351.1,162.8 L350.3,163.3 L349.4,163.8 L348.5,164.2 L347.5,164.6 L346.5,164.9 L345.4,165.3 L344.2,165.6 L343.0,166.0 L341.7,166.4 L340.4,166.7 L339.0,167.0 L337.6,167.3 L336.1,167.6 L334.5,167.9 L332.8,168.2 L331.0,168.5 L329.1,168.7 L327.0,169.0 L324.8,169.3 L322.3,169.6 L319.7,169.8 L317.0,170.1 L314.2,170.4 L311.4,170.7 L308.5,170.9 L305.6,171.1 L302.8,171.3 L300.0,171.5 L297.1,171.6 L294.0,171.7 L290.8,171.8 L287.5,171.9 L284.3,171.9 L281.2,171.9 L278.4,171.9 L275.8,172.0 L273.7,172.0 L272.0,172.0" fill="none" stroke="#e8141b" stroke-width="2.5" stroke-linejoin="round"/><path d="M499.0,15.4 L498.7,15.4 L496.6,15.4 L494.0,15.5 L491.2,15.5 L488.1,15.5 L484.9,15.5 L481.6,15.6 L478.4,15.7 L475.3,15.8 L472.4,15.9 L469.6,16.1 L466.8,16.3 L463.9,16.5 L461.0,16.7 L458.1,17.0 L455.4,17.3 L452.7,17.6 L450.1,17.8 L447.6,18.1 L445.4,18.4 L443.3,18.7 L441.4,18.9 L439.6,19.2 L437.9,19.5 L436.3,19.8 L434.8,20.1 L433.4,20.4 L432.0,20.7 L430.7,21.0 L429.4,21.4 L428.2,21.8 L427.0,22.1 L425.9,22.5 L424.9,22.8 L423.9,23.2 L423.0,23.6 L422.1,24.1 L421.3,24.6 L420.4,25.2 L419.6,25.8 L418.8,26.5 L418.0,27.4 L417.3,28.3 L416.5,29.3 L415.8,30.3 L415.2,31.3 L414.6,32.3 L414.0,33.3 L413.4,34.3 L412.9,35.2 L412.4,36.1 L412.0,36.9 L411.6,37.8 L411.3,38.6 L410.9,39.4 L410.7,40.2 L410.4,41.0 L410.1,41.8 L409.8,42.5 L409.5,43.3 L409.2,44.0 L408.9,44.7 L408.6,45.4 L408.3,46.1 L408.1,46.7 L407.8,47.3 L407.5,48.0 L407.3,48.7 L407.0,49.4 L406.8,50.1 L406.6,50.9 L406.4,51.6 L406.2,52.4 L406.0,53.2 L405.8,54.0 L405.6,54.8 L405.4,55.7 L405.2,56.5 L405.0,57.4 L404.8,58.2 L404.6,59.0 L404.3,59.8 L404.1,60.6 L403.8,61.4 L403.5,62.2 L403.3,63.1 L403.0,64.0 L402.7,64.9 L402.5,66.0 L402.2,67.1 L401.9,68.4 L401.7,69.8 L401.4,71.3 L401.1,72.9 L400.8,74.5 L400.6,76.2 L400.3,77.7 L400.0,79.2 L399.8,80.6 L399.5,81.9 L399.2,83.0 L399.0,83.9 L398.7,84.8 L398.5,85.6 L398.2,86.3 L398.0,87.0 L397.7,87.8 L397.5,88.6 L397.2,89.4 L396.9,90.4 L396.6,91.5 L396.3,92.6 L396.0,93.7 L395.7,94.9 L395.4,96.1 L395.1,97.3 L394.7,98.6 L394.4,99.9 L394.1,101.2 L393.8,102.5 L393.5,103.9 L393.2,105.3 L392.9,106.8 L392.6,108.3 L392.3,109.8 L392.0,111.3 L391.7,112.7 L391.4,114.2 L391.1,115.5 L390.8,116.7 L390.5,117.8 L390.2,118.9 L389.9,119.8 L389.7,120.8 L389.4,121.6 L389.1,122.5 L388.8,123.3 L388.5,124.1 L388.1,125.0 L387.8,125.8 L387.4,126.7 L387.0,127.5 L386.6,128.3 L386.1,129.2 L385.7,130.0 L385.2,130.8 L384.8,131.6 L384.4,132.4 L384.0,133.1 L383.7,133.9 L383.4,134.7 L383.2,135.4 L383.0,136.1 L382.8,136.8 L382.6,137.5 L382.5,138.2 L382.3,138.9 L382.1,139.6 L381.9,140.3 L381.6,141.0 L381.3,141.7 L380.9,142.4 L380.6,143.2 L380.2,143.9 L379.8,144.6 L379.4,145.3 L378.9,146.1 L378.5,146.8 L378.0,147.4 L377.6,148.1 L377.1,148.8 L376.7,149.4 L376.2,150.0 L375.7,150.7 L375.2,151.3 L374.7,151.9 L374.2,152.5 L373.7,153.0 L373.1,153.6 L372.6,154.1 L372.0,154.6 L371.4,155.0 L370.8,155.5 L370.2,155.9 L369.6,156.3 L368.9,156.7 L368.3,157.0 L367.7,157.4 L367.1,157.8 L366.5,158.2 L366.0,158.6 L365.5,159.0 L365.0,159.4 L364.5,159.9 L364.1,160.3 L363.6,160.7 L363.1,161.1 L362.6,161.5 L362.0,161.8 L361.4,162.2 L360.7,162.6 L360.0,162.9 L359.2,163.2 L358.4,163.6 L357.6,163.9 L356.7,164.2 L355.9,164.5 L355.1,164.8 L354.2,165.0 L353.4,165.3 L352.6,165.5 L351.8,165.8 L351.0,166.0 L350.3,166.2 L349.5,166.4 L348.7,166.6 L347.9,166.7 L347.0,166.9 L346.2,167.1 L345.3,167.3 L344.4,167.5 L343.4,167.7 L342.4,167.9 L341.4,168.1 L340.3,168.4 L339.3,168.6 L338.2,168.8 L337.2,169.0 L336.2,169.1 L335.2,169.3 L334.3,169.4 L333.6,169.5 L332.9,169.6 L332.2,169.7 L331.6,169.8 L330.8,169.9 L329.9,170.0 L328.9,170.1 L327.6,170.2 L326.0,170.3 L324.0,170.5 L321.7,170.7 L319.1,170.9 L316.3,171.2 L313.4,171.5 L310.5,171.7 L307.7,171.9 L305.0,172.1 L302.5,172.2 L300.4,172.3 L298.6,172.3 L297.0,172.3 L295.6,172.2 L294.3,172.1 L293.2,171.9 L292.1,171.8 L291.0,171.6 L289.9,171.4 L288.7,171.1 L287.4,170.9 L286.0,170.6 L284.4,170.3 L282.8,169.9 L281.2,169.5 L279.6,169.1 L278.0,168.6 L276.6,168.3 L275.3,167.9 L274.2,167.6 L273.4,167.4" fill="none" stroke="#e8141b" stroke-width="2.5" stroke-linejoin="round"/><circle fill="#fff" stroke="#f03a3a" stroke-width="0.85" cx="499.0" cy="20.0" r="1.9"/><circle fill="#fff" stroke="#f03a3a" stroke-width="0.85" cx="495.8" cy="19.1" r="1.9"/><circle fill="#fff" stroke="#f03a3a" stroke-width="0.85" cx="492.8" cy="18.3" r="1.9"/><circle fill="#fff" stroke="#f03a3a" stroke-width="0.85" cx="489.6" cy="17.5" r="1.9"/><circle fill="#fff" stroke="#f03a3a" stroke-width="0.85" cx="486.4" cy="16.8" r="1.9"/><circle fill="#fff" stroke="#f03a3a" stroke-width="0.85" cx="483.7" cy="16.3" r="1.9"/><circle fill="#fff" stroke="#f03a3a" stroke-width="0.85" cx="480.3" cy="15.6" r="1.9"/><circle fill="#fff" stroke="#f03a3a" stroke-width="0.85" cx="476.8" cy="15.2" r="1.9"/><circle fill="#fff" stroke="#f03a3a" stroke-width="0.85" cx="473.8" cy="15.1" r="1.9"/><circle fill="#fff" stroke="#f03a3a" stroke-width="0.85" cx="469.9" cy="15.2" r="1.9"/><circle fill="#fff" stroke="#f03a3a" stroke-width="0.85" cx="467.4" cy="15.3" r="1.9"/><circle fill="#fff" stroke="#f03a3a" stroke-width="0.85" cx="464.7" cy="15.5" r="1.9"/><circle fill="#fff" stroke="#f03a3a" stroke-width="0.85" cx="461.9" cy="15.7" r="1.9"/><circle fill="#fff" stroke="#f03a3a" stroke-width="0.85" cx="459.0" cy="16.0" r="1.9"/><circle fill="#fff" stroke="#f03a3a" stroke-width="0.85" cx="456.1" cy="16.2" r="1.9"/><circle fill="#fff" stroke="#f03a3a" stroke-width="0.85" cx="453.3" cy="16.5" r="1.9"/><circle fill="#fff" stroke="#f03a3a" stroke-width="0.85" cx="450.7" cy="16.7" r="1.9"/><circle fill="#fff" stroke="#f03a3a" stroke-width="0.85" cx="448.4" cy="16.9" r="1.9"/><circle fill="#fff" stroke="#f03a3a" stroke-width="0.85" cx="444.8" cy="17.2" r="1.9"/><circle fill="#fff" stroke="#f03a3a" stroke-width="0.85" cx="442.5" cy="17.4" r="1.9"/><circle fill="#fff" stroke="#f03a3a" stroke-width="0.85" cx="440.2" cy="17.7" r="1.9"/><circle fill="#fff" stroke="#f03a3a" stroke-width="0.85" cx="437.2" cy="18.1" r="1.9"/><circle fill="#fff" stroke="#f03a3a" stroke-width="0.85" cx="434.2" cy="18.6" r="1.9"/><circle fill="#fff" stroke="#f03a3a" stroke-width="0.85" cx="431.0" cy="19.3" r="1.9"/><circle fill="#fff" stroke="#f03a3a" stroke-width="0.85" cx="428.0" cy="19.9" r="1.9"/><circle fill="#fff" stroke="#f03a3a" stroke-width="0.85" cx="425.4" cy="20.5" r="1.9"/><circle fill="#fff" stroke="#f03a3a" stroke-width="0.85" cx="422.9" cy="21.0" r="1.9"/><circle fill="#fff" stroke="#f03a3a" stroke-width="0.85" cx="420.6" cy="21.6" r="1.9"/><circle fill="#fff" stroke="#f03a3a" stroke-width="0.85" cx="418.2" cy="22.4" r="1.9"/><circle fill="#fff" stroke="#f03a3a" stroke-width="0.85" cx="415.7" cy="23.2" r="1.9"/><circle fill="#fff" stroke="#f03a3a" stroke-width="0.85" cx="413.2" cy="24.2" r="1.9"/><circle fill="#fff" stroke="#f03a3a" stroke-width="0.85" cx="410.4" cy="25.6" r="1.9"/><circle fill="#fff" stroke="#f03a3a" stroke-width="0.85" cx="407.9" cy="27.5" r="1.9"/><circle fill="#fff" stroke="#f03a3a" stroke-width="0.85" cx="405.3" cy="29.6" r="1.9"/><circle fill="#fff" stroke="#f03a3a" stroke-width="0.85" cx="402.8" cy="31.1" r="1.9"/><circle fill="#fff" stroke="#f03a3a" stroke-width="0.85" cx="400.4" cy="32.8" r="1.9"/><circle fill="#fff" stroke="#f03a3a" stroke-width="0.85" cx="397.7" cy="35.5" r="1.9"/><circle fill="#fff" stroke="#f03a3a" stroke-width="0.85" cx="395.3" cy="38.6" r="1.9"/><circle fill="#fff" stroke="#f03a3a" stroke-width="0.85" cx="392.6" cy="42.8" r="1.9"/><circle fill="#fff" stroke="#f03a3a" stroke-width="0.85" cx="390.3" cy="47.8" r="1.9"/><circle fill="#fff" stroke="#f03a3a" stroke-width="0.85" cx="387.6" cy="55.8" r="1.9"/><circle fill="#fff" stroke="#f03a3a" stroke-width="0.85" cx="385.0" cy="60.7" r="1.9"/><circle fill="#fff" stroke="#f03a3a" stroke-width="0.85" cx="382.5" cy="67.6" r="1.9"/><circle fill="#fff" stroke="#f03a3a" stroke-width="0.85" cx="380.1" cy="77.6" r="1.9"/><circle fill="#fff" stroke="#f03a3a" stroke-width="0.85" cx="378.0" cy="87.5" r="1.9"/><circle fill="#fff" stroke="#f03a3a" stroke-width="0.85" cx="375.5" cy="97.0" r="1.9"/><circle fill="#fff" stroke="#f03a3a" stroke-width="0.85" cx="373.2" cy="104.4" r="1.9"/><circle fill="#fff" stroke="#f03a3a" stroke-width="0.85" cx="371.3" cy="114.5" r="1.9"/><circle fill="#fff" stroke="#f03a3a" stroke-width="0.85" cx="369.1" cy="124.3" r="1.9"/><circle fill="#fff" stroke="#f03a3a" stroke-width="0.85" cx="366.8" cy="132.6" r="1.9"/><circle fill="#fff" stroke="#f03a3a" stroke-width="0.85" cx="364.3" cy="140.7" r="1.9"/><circle fill="#fff" stroke="#f03a3a" stroke-width="0.85" cx="362.0" cy="146.4" r="1.9"/><circle fill="#fff" stroke="#f03a3a" stroke-width="0.85" cx="359.5" cy="152.2" r="1.9"/><circle fill="#fff" stroke="#f03a3a" stroke-width="0.85" cx="356.6" cy="157.1" r="1.9"/><circle fill="#fff" stroke="#f03a3a" stroke-width="0.85" cx="353.6" cy="160.9" r="1.9"/><circle fill="#fff" stroke="#f03a3a" stroke-width="0.85" cx="351.1" cy="162.8" r="1.9"/><circle fill="#fff" stroke="#f03a3a" stroke-width="0.85" cx="348.5" cy="164.2" r="1.9"/><circle fill="#fff" stroke="#f03a3a" stroke-width="0.85" cx="345.4" cy="165.3" r="1.9"/><circle fill="#fff" stroke="#f03a3a" stroke-width="0.85" cx="343.0" cy="166.0" r="1.9"/><circle fill="#fff" stroke="#f03a3a" stroke-width="0.85" cx="340.4" cy="166.7" r="1.9"/><circle fill="#fff" stroke="#f03a3a" stroke-width="0.85" cx="337.6" cy="167.3" r="1.9"/><circle fill="#fff" stroke="#f03a3a" stroke-width="0.85" cx="334.5" cy="167.9" r="1.9"/><circle fill="#fff" stroke="#f03a3a" stroke-width="0.85" cx="331.0" cy="168.5" r="1.9"/><circle fill="#fff" stroke="#f03a3a" stroke-width="0.85" cx="327.0" cy="169.0" r="1.9"/><circle fill="#fff" stroke="#f03a3a" stroke-width="0.85" cx="322.3" cy="169.6" r="1.9"/><circle fill="#fff" stroke="#f03a3a" stroke-width="0.85" cx="319.7" cy="169.8" r="1.9"/><circle fill="#fff" stroke="#f03a3a" stroke-width="0.85" cx="317.0" cy="170.1" r="1.9"/><circle fill="#fff" stroke="#f03a3a" stroke-width="0.85" cx="314.2" cy="170.4" r="1.9"/><circle fill="#fff" stroke="#f03a3a" stroke-width="0.85" cx="311.4" cy="170.7" r="1.9"/><circle fill="#fff" stroke="#f03a3a" stroke-width="0.85" cx="308.5" cy="170.9" r="1.9"/><circle fill="#fff" stroke="#f03a3a" stroke-width="0.85" cx="305.6" cy="171.1" r="1.9"/><circle fill="#fff" stroke="#f03a3a" stroke-width="0.85" cx="302.8" cy="171.3" r="1.9"/><circle fill="#fff" stroke="#f03a3a" stroke-width="0.85" cx="300.0" cy="171.5" r="1.9"/><circle fill="#fff" stroke="#f03a3a" stroke-width="0.85" cx="297.1" cy="171.6" r="1.9"/><circle fill="#fff" stroke="#f03a3a" stroke-width="0.85" cx="294.0" cy="171.7" r="1.9"/><circle fill="#fff" stroke="#f03a3a" stroke-width="0.85" cx="290.8" cy="171.8" r="1.9"/><circle fill="#fff" stroke="#f03a3a" stroke-width="0.85" cx="287.5" cy="171.9" r="1.9"/><circle fill="#fff" stroke="#f03a3a" stroke-width="0.85" cx="284.3" cy="171.9" r="1.9"/><circle fill="#fff" stroke="#f03a3a" stroke-width="0.85" cx="281.2" cy="171.9" r="1.9"/><circle fill="#fff" stroke="#f03a3a" stroke-width="0.85" cx="278.4" cy="171.9" r="1.9"/><circle fill="#fff" stroke="#f03a3a" stroke-width="0.85" cx="275.8" cy="172.0" r="1.9"/><circle fill="#fff" stroke="#f03a3a" stroke-width="0.85" cx="272.0" cy="172.0" r="1.9"/><circle fill="#fff" stroke="#f03a3a" stroke-width="0.85" cx="499.0" cy="15.4" r="1.9"/><circle fill="#fff" stroke="#f03a3a" stroke-width="0.85" cx="496.6" cy="15.4" r="1.9"/><circle fill="#fff" stroke="#f03a3a" stroke-width="0.85" cx="494.0" cy="15.5" r="1.9"/><circle fill="#fff" stroke="#f03a3a" stroke-width="0.85" cx="491.2" cy="15.5" r="1.9"/><circle fill="#fff" stroke="#f03a3a" stroke-width="0.85" cx="488.1" cy="15.5" r="1.9"/><circle fill="#fff" stroke="#f03a3a" stroke-width="0.85" cx="484.9" cy="15.5" r="1.9"/><circle fill="#fff" stroke="#f03a3a" stroke-width="0.85" cx="481.6" cy="15.6" r="1.9"/><circle fill="#fff" stroke="#f03a3a" stroke-width="0.85" cx="478.4" cy="15.7" r="1.9"/><circle fill="#fff" stroke="#f03a3a" stroke-width="0.85" cx="475.3" cy="15.8" r="1.9"/><circle fill="#fff" stroke="#f03a3a" stroke-width="0.85" cx="472.4" cy="15.9" r="1.9"/><circle fill="#fff" stroke="#f03a3a" stroke-width="0.85" cx="469.6" cy="16.1" r="1.9"/><circle fill="#fff" stroke="#f03a3a" stroke-width="0.85" cx="466.8" cy="16.3" r="1.9"/><circle fill="#fff" stroke="#f03a3a" stroke-width="0.85" cx="463.9" cy="16.5" r="1.9"/><circle fill="#fff" stroke="#f03a3a" stroke-width="0.85" cx="461.0" cy="16.7" r="1.9"/><circle fill="#fff" stroke="#f03a3a" stroke-width="0.85" cx="458.1" cy="17.0" r="1.9"/><circle fill="#fff" stroke="#f03a3a" stroke-width="0.85" cx="455.4" cy="17.3" r="1.9"/><circle fill="#fff" stroke="#f03a3a" stroke-width="0.85" cx="452.7" cy="17.6" r="1.9"/><circle fill="#fff" stroke="#f03a3a" stroke-width="0.85" cx="450.1" cy="17.8" r="1.9"/><circle fill="#fff" stroke="#f03a3a" stroke-width="0.85" cx="447.6" cy="18.1" r="1.9"/><circle fill="#fff" stroke="#f03a3a" stroke-width="0.85" cx="443.3" cy="18.7" r="1.9"/><circle fill="#fff" stroke="#f03a3a" stroke-width="0.85" cx="439.6" cy="19.2" r="1.9"/><circle fill="#fff" stroke="#f03a3a" stroke-width="0.85" cx="436.3" cy="19.8" r="1.9"/><circle fill="#fff" stroke="#f03a3a" stroke-width="0.85" cx="433.4" cy="20.4" r="1.9"/><circle fill="#fff" stroke="#f03a3a" stroke-width="0.85" cx="430.7" cy="21.0" r="1.9"/><circle fill="#fff" stroke="#f03a3a" stroke-width="0.85" cx="428.2" cy="21.8" r="1.9"/><circle fill="#fff" stroke="#f03a3a" stroke-width="0.85" cx="424.9" cy="22.8" r="1.9"/><circle fill="#fff" stroke="#f03a3a" stroke-width="0.85" cx="422.1" cy="24.1" r="1.9"/><circle fill="#fff" stroke="#f03a3a" stroke-width="0.85" cx="419.6" cy="25.8" r="1.9"/><circle fill="#fff" stroke="#f03a3a" stroke-width="0.85" cx="417.3" cy="28.3" r="1.9"/><circle fill="#fff" stroke="#f03a3a" stroke-width="0.85" cx="414.6" cy="32.3" r="1.9"/><circle fill="#fff" stroke="#f03a3a" stroke-width="0.85" cx="412.0" cy="36.9" r="1.9"/><circle fill="#fff" stroke="#f03a3a" stroke-width="0.85" cx="409.5" cy="43.3" r="1.9"/><circle fill="#fff" stroke="#f03a3a" stroke-width="0.85" cx="407.0" cy="49.4" r="1.9"/><circle fill="#fff" stroke="#f03a3a" stroke-width="0.85" cx="404.6" cy="59.0" r="1.9"/><circle fill="#fff" stroke="#f03a3a" stroke-width="0.85" cx="402.2" cy="67.1" r="1.9"/><circle fill="#fff" stroke="#f03a3a" stroke-width="0.85" cx="400.3" cy="77.7" r="1.9"/><circle fill="#fff" stroke="#f03a3a" stroke-width="0.85" cx="398.0" cy="87.0" r="1.9"/><circle fill="#fff" stroke="#f03a3a" stroke-width="0.85" cx="395.4" cy="96.1" r="1.9"/><circle fill="#fff" stroke="#f03a3a" stroke-width="0.85" cx="392.9" cy="106.8" r="1.9"/><circle fill="#fff" stroke="#f03a3a" stroke-width="0.85" cx="390.8" cy="116.7" r="1.9"/><circle fill="#fff" stroke="#f03a3a" stroke-width="0.85" cx="388.5" cy="124.1" r="1.9"/><circle fill="#fff" stroke="#f03a3a" stroke-width="0.85" cx="386.1" cy="129.2" r="1.9"/><circle fill="#fff" stroke="#f03a3a" stroke-width="0.85" cx="383.7" cy="133.9" r="1.9"/><circle fill="#fff" stroke="#f03a3a" stroke-width="0.85" cx="381.3" cy="141.7" r="1.9"/><circle fill="#fff" stroke="#f03a3a" stroke-width="0.85" cx="378.9" cy="146.1" r="1.9"/><circle fill="#fff" stroke="#f03a3a" stroke-width="0.85" cx="376.2" cy="150.0" r="1.9"/><circle fill="#fff" stroke="#f03a3a" stroke-width="0.85" cx="373.7" cy="153.0" r="1.9"/><circle fill="#fff" stroke="#f03a3a" stroke-width="0.85" cx="370.8" cy="155.5" r="1.9"/><circle fill="#fff" stroke="#f03a3a" stroke-width="0.85" cx="368.3" cy="157.0" r="1.9"/><circle fill="#fff" stroke="#f03a3a" stroke-width="0.85" cx="366.0" cy="158.6" r="1.9"/><circle fill="#fff" stroke="#f03a3a" stroke-width="0.85" cx="363.6" cy="160.7" r="1.9"/><circle fill="#fff" stroke="#f03a3a" stroke-width="0.85" cx="360.7" cy="162.6" r="1.9"/><circle fill="#fff" stroke="#f03a3a" stroke-width="0.85" cx="358.4" cy="163.6" r="1.9"/><circle fill="#fff" stroke="#f03a3a" stroke-width="0.85" cx="355.9" cy="164.5" r="1.9"/><circle fill="#fff" stroke="#f03a3a" stroke-width="0.85" cx="353.4" cy="165.3" r="1.9"/><circle fill="#fff" stroke="#f03a3a" stroke-width="0.85" cx="351.0" cy="166.0" r="1.9"/><circle fill="#fff" stroke="#f03a3a" stroke-width="0.85" cx="348.7" cy="166.6" r="1.9"/><circle fill="#fff" stroke="#f03a3a" stroke-width="0.85" cx="346.2" cy="167.1" r="1.9"/><circle fill="#fff" stroke="#f03a3a" stroke-width="0.85" cx="343.4" cy="167.7" r="1.9"/><circle fill="#fff" stroke="#f03a3a" stroke-width="0.85" cx="340.3" cy="168.4" r="1.9"/><circle fill="#fff" stroke="#f03a3a" stroke-width="0.85" cx="337.2" cy="169.0" r="1.9"/><circle fill="#fff" stroke="#f03a3a" stroke-width="0.85" cx="334.3" cy="169.4" r="1.9"/><circle fill="#fff" stroke="#f03a3a" stroke-width="0.85" cx="331.6" cy="169.8" r="1.9"/><circle fill="#fff" stroke="#f03a3a" stroke-width="0.85" cx="328.9" cy="170.1" r="1.9"/><circle fill="#fff" stroke="#f03a3a" stroke-width="0.85" cx="326.0" cy="170.3" r="1.9"/><circle fill="#fff" stroke="#f03a3a" stroke-width="0.85" cx="321.7" cy="170.7" r="1.9"/><circle fill="#fff" stroke="#f03a3a" stroke-width="0.85" cx="319.1" cy="170.9" r="1.9"/><circle fill="#fff" stroke="#f03a3a" stroke-width="0.85" cx="316.3" cy="171.2" r="1.9"/><circle fill="#fff" stroke="#f03a3a" stroke-width="0.85" cx="313.4" cy="171.5" r="1.9"/><circle fill="#fff" stroke="#f03a3a" stroke-width="0.85" cx="310.5" cy="171.7" r="1.9"/><circle fill="#fff" stroke="#f03a3a" stroke-width="0.85" cx="307.7" cy="171.9" r="1.9"/><circle fill="#fff" stroke="#f03a3a" stroke-width="0.85" cx="305.0" cy="172.1" r="1.9"/><circle fill="#fff" stroke="#f03a3a" stroke-width="0.85" cx="302.5" cy="172.2" r="1.9"/><circle fill="#fff" stroke="#f03a3a" stroke-width="0.85" cx="298.6" cy="172.3" r="1.9"/><circle fill="#fff" stroke="#f03a3a" stroke-width="0.85" cx="295.6" cy="172.2" r="1.9"/><circle fill="#fff" stroke="#f03a3a" stroke-width="0.85" cx="293.2" cy="171.9" r="1.9"/><circle fill="#fff" stroke="#f03a3a" stroke-width="0.85" cx="289.9" cy="171.4" r="1.9"/><circle fill="#fff" stroke="#f03a3a" stroke-width="0.85" cx="287.4" cy="170.9" r="1.9"/><circle fill="#fff" stroke="#f03a3a" stroke-width="0.85" cx="284.4" cy="170.3" r="1.9"/><circle fill="#fff" stroke="#f03a3a" stroke-width="0.85" cx="281.2" cy="169.5" r="1.9"/><circle fill="#fff" stroke="#f03a3a" stroke-width="0.85" cx="278.0" cy="168.6" r="1.9"/><circle fill="#fff" stroke="#f03a3a" stroke-width="0.85" cx="275.3" cy="167.9" r="1.9"/><path d="M499.0,16.0 L498.3,16.1 L497.5,16.2 L496.5,16.3 L495.3,16.4 L494.1,16.5 L492.8,16.6 L491.5,16.8 L490.1,16.9 L488.8,17.0 L487.5,17.1 L486.2,17.2 L484.9,17.3 L483.6,17.3 L482.2,17.4 L480.9,17.5 L479.5,17.5 L478.1,17.6 L476.7,17.6 L475.4,17.7 L474.0,17.8 L472.6,17.9 L471.3,18.0 L469.9,18.1 L468.5,18.2 L467.1,18.3 L465.7,18.4 L464.4,18.5 L463.0,18.6 L461.8,18.7 L460.5,18.8 L459.3,18.9 L458.1,19.0 L457.0,19.1 L455.8,19.2 L454.7,19.3 L453.7,19.4 L452.6,19.5 L451.5,19.7 L450.5,19.9 L449.4,20.1 L448.3,20.4 L447.3,20.7 L446.2,21.1 L445.2,21.5 L444.2,22.0 L443.1,22.4 L442.2,22.9 L441.2,23.3 L440.2,23.8 L439.3,24.2 L438.4,24.6 L437.6,25.0 L436.7,25.4 L435.9,25.8 L435.1,26.2 L434.3,26.6 L433.6,27.0 L432.8,27.4 L432.0,27.8 L431.2,28.2 L430.4,28.6 L429.6,29.0 L428.8,29.4 L428.0,29.7 L427.1,30.1 L426.3,30.5 L425.5,30.9 L424.7,31.4 L423.9,31.8 L423.1,32.3 L422.3,32.8 L421.4,33.4 L420.6,33.9 L419.8,34.5 L418.9,35.1 L418.1,35.7 L417.3,36.4 L416.5,37.0 L415.7,37.6 L415.0,38.3 L414.3,39.0 L413.7,39.6 L413.0,40.3 L412.4,41.0 L411.8,41.7 L411.2,42.4 L410.7,43.2 L410.1,43.9 L409.5,44.6 L408.9,45.4 L408.3,46.2 L407.7,46.9 L407.1,47.7 L406.5,48.5 L405.9,49.3 L405.3,50.1 L404.7,51.0 L404.1,51.8 L403.5,52.6 L402.9,53.5 L402.3,54.4 L401.7,55.2 L401.1,56.1 L400.5,57.0 L399.9,57.9 L399.2,58.8 L398.6,59.8 L398.0,60.7 L397.4,61.6 L396.8,62.6 L396.2,63.6 L395.5,64.6 L394.9,65.6 L394.3,66.7 L393.6,67.8 L393.0,68.8 L392.4,69.9 L391.8,70.9 L391.2,71.9 L390.7,72.8 L390.2,73.7 L389.8,74.5 L389.3,75.3 L389.0,76.1 L388.6,76.9 L388.2,77.6 L387.8,78.4 L387.5,79.2 L387.1,80.0 L386.7,80.9 L386.3,81.8 L385.9,82.7 L385.5,83.7 L385.1,84.7 L384.7,85.6 L384.3,86.7 L383.9,87.7 L383.5,88.8 L383.0,89.9 L382.6,91.0 L382.2,92.2 L381.7,93.4 L381.3,94.7 L380.9,96.0 L380.4,97.4 L380.0,98.7 L379.5,100.1 L379.0,101.4 L378.5,102.7 L378.0,104.0 L377.5,105.2 L376.9,106.5 L376.4,107.6 L375.8,108.8 L375.2,110.0 L374.6,111.2 L374.0,112.4 L373.3,113.7 L372.7,115.0 L372.0,116.4 L371.3,117.9 L370.5,119.5 L369.7,121.2 L368.9,122.9 L368.1,124.6 L367.3,126.4 L366.4,128.1 L365.6,129.7 L364.9,131.3 L364.1,132.7 L363.4,134.0 L362.7,135.2 L362.1,136.4 L361.4,137.4 L360.8,138.5 L360.2,139.5 L359.5,140.5 L358.8,141.5 L358.1,142.5 L357.3,143.6 L356.5,144.7 L355.6,145.9 L354.8,147.0 L353.9,148.2 L352.9,149.4 L352.0,150.5 L351.0,151.6 L349.9,152.7 L348.8,153.7 L347.7,154.6 L346.5,155.5 L345.3,156.3 L344.0,157.0 L342.7,157.7 L341.4,158.4 L340.0,159.0 L338.6,159.6 L337.1,160.2 L335.6,160.8 L334.1,161.4 L332.5,162.0 L330.8,162.5 L329.1,163.1 L327.3,163.6 L325.4,164.1 L323.6,164.6 L321.7,165.0 L319.9,165.5 L318.1,165.8 L316.4,166.2 L314.8,166.5 L313.2,166.8 L311.7,167.0 L310.3,167.2 L308.8,167.4 L307.3,167.6 L305.7,167.7 L304.0,167.9 L302.1,168.0 L300.0,168.2 L297.5,168.4 L294.7,168.5 L291.6,168.7 L288.3,168.8 L285.0,169.0 L281.7,169.1 L278.7,169.2 L276.0,169.3 L273.7,169.4 L272.0,169.5" fill="none" stroke="#111" stroke-width="1.4" stroke-linejoin="round"/><path d="M499.0,17.9 L498.7,18.0 L496.4,18.1 L493.7,18.2 L490.7,18.3 L487.4,18.4 L484.1,18.6 L480.8,18.7 L477.7,18.9 L474.9,19.0 L472.4,19.2 L470.3,19.4 L468.4,19.5 L466.7,19.7 L465.1,19.8 L463.6,20.0 L462.1,20.2 L460.7,20.4 L459.2,20.6 L457.6,20.9 L456.0,21.2 L454.3,21.6 L452.5,21.9 L450.7,22.4 L448.8,22.8 L447.0,23.3 L445.1,23.8 L443.3,24.3 L441.6,24.9 L439.9,25.4 L438.3,26.0 L436.8,26.6 L435.3,27.2 L433.8,27.8 L432.4,28.4 L431.0,29.0 L429.7,29.7 L428.4,30.4 L427.1,31.1 L425.9,31.9 L424.7,32.8 L423.6,33.7 L422.5,34.7 L421.4,35.8 L420.4,36.9 L419.5,38.0 L418.5,39.2 L417.6,40.4 L416.8,41.5 L415.9,42.7 L415.1,43.8 L414.3,44.9 L413.6,45.9 L412.9,46.9 L412.2,47.9 L411.6,48.9 L411.0,50.0 L410.3,51.0 L409.7,52.2 L409.0,53.4 L408.3,54.7 L407.5,56.1 L406.8,57.7 L406.0,59.3 L405.1,61.0 L404.3,62.8 L403.5,64.5 L402.7,66.2 L401.9,67.9 L401.1,69.5 L400.4,71.0 L399.7,72.4 L399.1,73.7 L398.4,75.0 L397.8,76.2 L397.2,77.4 L396.6,78.6 L396.0,79.8 L395.5,80.9 L394.9,82.2 L394.4,83.4 L393.9,84.7 L393.4,86.0 L392.9,87.3 L392.4,88.7 L392.0,90.0 L391.5,91.4 L391.1,92.7 L390.7,94.0 L390.2,95.2 L389.8,96.4 L389.4,97.5 L388.9,98.6 L388.5,99.7 L388.1,100.7 L387.7,101.8 L387.3,102.7 L386.9,103.7 L386.5,104.7 L386.1,105.6 L385.7,106.5 L385.3,107.4 L384.9,108.2 L384.6,109.0 L384.2,109.8 L383.8,110.5 L383.4,111.3 L383.1,112.1 L382.6,112.9 L382.2,113.7 L381.7,114.6 L381.2,115.5 L380.6,116.5 L380.0,117.5 L379.4,118.6 L378.8,119.6 L378.1,120.7 L377.5,121.8 L376.9,122.8 L376.2,123.8 L375.6,124.8 L375.0,125.8 L374.4,126.7 L373.8,127.6 L373.2,128.6 L372.5,129.5 L371.9,130.4 L371.3,131.3 L370.7,132.2 L370.1,133.0 L369.5,133.9 L368.9,134.8 L368.3,135.6 L367.7,136.4 L367.1,137.3 L366.5,138.1 L365.9,138.9 L365.3,139.7 L364.7,140.5 L364.1,141.2 L363.5,142.0 L362.9,142.8 L362.3,143.5 L361.7,144.2 L361.2,145.0 L360.6,145.7 L360.0,146.4 L359.4,147.1 L358.7,147.8 L358.1,148.4 L357.4,149.1 L356.7,149.8 L355.9,150.4 L355.1,151.0 L354.3,151.7 L353.5,152.3 L352.6,152.9 L351.8,153.5 L351.0,154.0 L350.1,154.6 L349.3,155.1 L348.5,155.6 L347.7,156.0 L346.9,156.5 L346.1,156.9 L345.2,157.3 L344.4,157.7 L343.6,158.0 L342.8,158.4 L342.0,158.8 L341.2,159.2 L340.4,159.6 L339.6,160.0 L338.8,160.4 L338.1,160.8 L337.3,161.2 L336.5,161.6 L335.7,162.0 L334.8,162.4 L334.0,162.8 L333.1,163.2 L332.2,163.6 L331.2,164.1 L330.2,164.5 L329.3,165.0 L328.2,165.4 L327.2,165.9 L326.2,166.3 L325.1,166.7 L324.1,167.0 L323.0,167.3 L321.9,167.5 L320.9,167.7 L319.8,167.9 L318.7,168.0 L317.7,168.1 L316.6,168.2 L315.4,168.3 L314.3,168.4 L313.1,168.5 L311.9,168.6 L310.6,168.7 L309.4,168.8 L308.0,168.9 L306.7,169.0 L305.3,169.1 L303.9,169.2 L302.5,169.3 L301.1,169.4 L299.8,169.5 L298.4,169.6 L297.0,169.7 L295.7,169.8 L294.3,169.8 L292.9,169.9 L291.5,169.9 L290.2,170.0 L288.8,170.1 L287.5,170.1 L286.2,170.2 L284.9,170.3 L283.6,170.4 L282.3,170.5 L280.9,170.6 L279.6,170.8 L278.3,170.9 L277.1,171.0 L275.9,171.1 L274.9,171.2 L274.1,171.3 L273.4,171.4" fill="none" stroke="#111" stroke-width="1.4" stroke-linejoin="round"/><path d="M496.7,17.6L501.3,17.6L499.0,13.6ZM493.0,18.0L497.6,18.0L495.3,14.0ZM489.2,18.4L493.8,18.4L491.5,14.4ZM485.2,18.7L489.8,18.7L487.5,14.7ZM481.3,18.9L485.9,18.9L483.6,14.9ZM477.2,19.1L481.8,19.1L479.5,15.1ZM473.1,19.3L477.7,19.3L475.4,15.3ZM469.0,19.6L473.6,19.6L471.3,15.6ZM464.8,19.9L469.4,19.9L467.1,15.9ZM460.7,20.2L465.3,20.2L463.0,16.2ZM457.0,20.5L461.6,20.5L459.3,16.5ZM453.5,20.8L458.1,20.8L455.8,16.8ZM450.3,21.1L454.9,21.1L452.6,17.1ZM447.1,21.7L451.7,21.7L449.4,17.7ZM443.9,22.7L448.5,22.7L446.2,18.7ZM440.8,24.0L445.4,24.0L443.1,20.0ZM437.9,25.4L442.5,25.4L440.2,21.4ZM434.4,27.0L439.0,27.0L436.7,23.0ZM431.3,28.6L435.9,28.6L433.6,24.6ZM428.1,30.2L432.7,30.2L430.4,26.2ZM424.8,31.7L429.4,31.7L427.1,27.7ZM421.6,33.4L426.2,33.4L423.9,29.4ZM418.3,35.5L422.9,35.5L420.6,31.5ZM415.0,38.0L419.6,38.0L417.3,34.0ZM412.0,40.6L416.6,40.6L414.3,36.6ZM408.9,44.0L413.5,44.0L411.2,40.0ZM406.0,47.8L410.6,47.8L408.3,43.8ZM403.0,51.7L407.6,51.7L405.3,47.7ZM400.0,56.0L404.6,56.0L402.3,52.0ZM396.9,60.4L401.5,60.4L399.2,56.4ZM393.9,65.2L398.5,65.2L396.2,61.2ZM390.7,70.4L395.3,70.4L393.0,66.4ZM387.5,76.1L392.1,76.1L389.8,72.1ZM384.8,81.6L389.4,81.6L387.1,77.6ZM382.4,87.2L387.0,87.2L384.7,83.2ZM379.9,93.8L384.5,93.8L382.2,89.8ZM377.7,100.3L382.3,100.3L380.0,96.3ZM375.2,106.8L379.8,106.8L377.5,102.8ZM372.3,112.8L376.9,112.8L374.6,108.8ZM369.0,119.5L373.6,119.5L371.3,115.5ZM365.8,126.2L370.4,126.2L368.1,122.2ZM362.6,132.9L367.2,132.9L364.9,128.9ZM359.1,139.0L363.7,139.0L361.4,135.0ZM355.8,144.1L360.4,144.1L358.1,140.1ZM352.5,148.6L357.1,148.6L354.8,144.6ZM348.7,153.2L353.3,153.2L351.0,149.2ZM345.4,156.2L350.0,156.2L347.7,152.2ZM341.7,158.6L346.3,158.6L344.0,154.6ZM337.7,160.6L342.3,160.6L340.0,156.6ZM334.8,161.8L339.4,161.8L337.1,157.8ZM331.8,163.0L336.4,163.0L334.1,159.0ZM328.5,164.1L333.1,164.1L330.8,160.1ZM325.0,165.2L329.6,165.2L327.3,161.2ZM321.3,166.2L325.9,166.2L323.6,162.2ZM317.6,167.1L322.2,167.1L319.9,163.1ZM314.1,167.8L318.7,167.8L316.4,163.8ZM310.9,168.4L315.5,168.4L313.2,164.4ZM308.0,168.8L312.6,168.8L310.3,164.8ZM305.0,169.2L309.6,169.2L307.3,165.2ZM301.7,169.5L306.3,169.5L304.0,165.5ZM297.7,169.8L302.3,169.8L300.0,165.8ZM292.4,170.1L297.0,170.1L294.7,166.1ZM289.3,170.3L293.9,170.3L291.6,166.3ZM286.0,170.4L290.6,170.4L288.3,166.4ZM282.7,170.6L287.3,170.6L285.0,166.6ZM279.4,170.7L284.0,170.7L281.7,166.7ZM276.4,170.8L281.0,170.8L278.7,166.8ZM271.4,171.0L276.0,171.0L273.7,167.0ZM496.7,19.5L501.3,19.5L499.0,15.5ZM491.4,19.8L496.0,19.8L493.7,15.8ZM488.4,19.9L493.0,19.9L490.7,15.9ZM485.1,20.0L489.7,20.0L487.4,16.0ZM481.8,20.2L486.4,20.2L484.1,16.2ZM478.5,20.3L483.1,20.3L480.8,16.3ZM475.4,20.5L480.0,20.5L477.7,16.5ZM472.6,20.6L477.2,20.6L474.9,16.6ZM468.0,21.0L472.6,21.0L470.3,17.0ZM464.4,21.3L469.0,21.3L466.7,17.3ZM461.3,21.6L465.9,21.6L463.6,17.6ZM458.4,22.0L463.0,22.0L460.7,18.0ZM455.3,22.5L459.9,22.5L457.6,18.5ZM452.0,23.2L456.6,23.2L454.3,19.2ZM448.4,24.0L453.0,24.0L450.7,20.0ZM444.7,24.9L449.3,24.9L447.0,20.9ZM441.0,25.9L445.6,25.9L443.3,21.9ZM437.6,27.0L442.2,27.0L439.9,23.0ZM434.5,28.2L439.1,28.2L436.8,24.2ZM431.5,29.4L436.1,29.4L433.8,25.4ZM427.4,31.3L432.0,31.3L429.7,27.3ZM423.6,33.5L428.2,33.5L425.9,29.5ZM420.2,36.3L424.8,36.3L422.5,32.3ZM417.2,39.6L421.8,39.6L419.5,35.6ZM413.6,44.3L418.2,44.3L415.9,40.3ZM410.6,48.5L415.2,48.5L412.9,44.5ZM407.4,53.8L412.0,53.8L409.7,49.8ZM404.5,59.3L409.1,59.3L406.8,55.3ZM401.2,66.1L405.8,66.1L403.5,62.1ZM398.1,72.6L402.7,72.6L400.4,68.6ZM394.9,79.0L399.5,79.0L397.2,75.0ZM392.1,85.0L396.7,85.0L394.4,81.0ZM389.7,91.6L394.3,91.6L392.0,87.6ZM387.5,98.0L392.1,98.0L389.8,94.0ZM385.0,104.3L389.6,104.3L387.3,100.3ZM382.3,110.6L386.9,110.6L384.6,106.6ZM379.4,116.2L384.0,116.2L381.7,112.2ZM376.5,121.2L381.1,121.2L378.8,117.2ZM373.3,126.4L377.9,126.4L375.6,122.4ZM370.2,131.1L374.8,131.1L372.5,127.1ZM367.2,135.5L371.8,135.5L369.5,131.5ZM364.2,139.7L368.8,139.7L366.5,135.7ZM361.2,143.6L365.8,143.6L363.5,139.6ZM358.3,147.3L362.9,147.3L360.6,143.3ZM355.1,150.7L359.7,150.7L357.4,146.7ZM352.0,153.3L356.6,153.3L354.3,149.3ZM348.7,155.6L353.3,155.6L351.0,151.6ZM345.4,157.6L350.0,157.6L347.7,153.6ZM342.1,159.3L346.7,159.3L344.4,155.3ZM338.9,160.8L343.5,160.8L341.2,156.8ZM335.8,162.4L340.4,162.4L338.1,158.4ZM332.5,164.0L337.1,164.0L334.8,160.0ZM328.9,165.7L333.5,165.7L331.2,161.7ZM325.9,167.0L330.5,167.0L328.2,163.0ZM322.8,168.3L327.4,168.3L325.1,164.3ZM319.6,169.1L324.2,169.1L321.9,165.1ZM316.4,169.6L321.0,169.6L318.7,165.6ZM313.1,169.9L317.7,169.9L315.4,165.9ZM309.6,170.2L314.2,170.2L311.9,166.2ZM305.7,170.5L310.3,170.5L308.0,166.5ZM301.6,170.8L306.2,170.8L303.9,166.8ZM297.5,171.1L302.1,171.1L299.8,167.1ZM293.4,171.4L298.0,171.4L295.7,167.4ZM289.2,171.5L293.8,171.5L291.5,167.5ZM285.2,171.7L289.8,171.7L287.5,167.7ZM281.3,172.0L285.9,172.0L283.6,168.0ZM277.3,172.4L281.9,172.4L279.6,168.4ZM273.6,172.7L278.2,172.7L275.9,168.7Z" fill="#fff" stroke="#333" stroke-width="0.8"/><rect x="272" y="10" width="227" height="168" fill="none" stroke="#606060" stroke-width="1"/><line x1="268" y1="169.9" x2="272" y2="169.9" stroke="#606060" stroke-width="1"/><line x1="269.5" y1="150.9" x2="272" y2="150.9" stroke="#606060" stroke-width="1"/><line x1="268" y1="131.8" x2="272" y2="131.8" stroke="#606060" stroke-width="1"/><line x1="269.5" y1="112.8" x2="272" y2="112.8" stroke="#606060" stroke-width="1"/><line x1="268" y1="93.7" x2="272" y2="93.7" stroke="#606060" stroke-width="1"/><line x1="269.5" y1="74.7" x2="272" y2="74.7" stroke="#606060" stroke-width="1"/><line x1="268" y1="55.6" x2="272" y2="55.6" stroke="#606060" stroke-width="1"/><line x1="269.5" y1="36.5" x2="272" y2="36.5" stroke="#606060" stroke-width="1"/><line x1="268" y1="17.5" x2="272" y2="17.5" stroke="#606060" stroke-width="1"/><line x1="291.6" y1="178" x2="291.6" y2="182" stroke="#606060" stroke-width="1"/><line x1="315.3" y1="178" x2="315.3" y2="181" stroke="#606060" stroke-width="1"/><line x1="338.9" y1="178" x2="338.9" y2="182" stroke="#606060" stroke-width="1"/><line x1="362.6" y1="178" x2="362.6" y2="181" stroke="#606060" stroke-width="1"/><line x1="386.2" y1="178" x2="386.2" y2="182" stroke="#606060" stroke-width="1"/><line x1="409.8" y1="178" x2="409.8" y2="181" stroke="#606060" stroke-width="1"/><line x1="433.5" y1="178" x2="433.5" y2="182" stroke="#606060" stroke-width="1"/><line x1="457.1" y1="178" x2="457.1" y2="181" stroke="#606060" stroke-width="1"/><line x1="480.8" y1="178" x2="480.8" y2="182" stroke="#606060" stroke-width="1"/><text x="291.6" y="191.3" font-size="10.5" font-weight="bold" fill="#111" text-anchor="middle">-5.0</text><text x="338.9" y="191.3" font-size="10.5" font-weight="bold" fill="#111" text-anchor="middle">-2.5</text><text x="386.2" y="191.3" font-size="10.5" font-weight="bold" fill="#111" text-anchor="middle">0.0</text><text x="433.5" y="191.3" font-size="10.5" font-weight="bold" fill="#111" text-anchor="middle">2.5</text><text x="480.8" y="191.3" font-size="10.5" font-weight="bold" fill="#111" text-anchor="middle">5.0</text><text x="383" y="205.7" font-size="12.5" font-weight="bold" fill="#111" text-anchor="middle">H (kOe)</text><rect x="272.5" y="10" width="41.5" height="33.8" fill="#000"/><text x="293.2" y="33.9" font-size="20" font-weight="bold" fill="#fff" text-anchor="middle">(b)</text><text x="414.4" y="108.7" font-size="13" fill="#2a2a2a" letter-spacing="0.2">L<tspan font-size="7.5" dy="6">Cu</tspan><tspan dy="-6">= 60 nm</tspan></text><text x="414.4" y="129.5" font-size="13" fill="#2a2a2a" letter-spacing="0.2">L<tspan font-size="7.5" dy="6">Fe</tspan><tspan dy="-6">= 30 nm</tspan></text><line x1="399.2" y1="150.1" x2="425.2" y2="150.1" stroke="#e8141b" stroke-width="2.2"/><circle cx="412.2" cy="150.1" r="1.9" fill="#fff" stroke="#ee2a2a" stroke-width="0.8"/><line x1="399.2" y1="162.9" x2="425.2" y2="162.9" stroke="#000" stroke-width="2.2"/><path d="M410.4,164.1L414.0,164.1L412.2,161.1Z" fill="#fff" stroke="#333" stroke-width="0.6"/><text x="427.6" y="153.2" font-size="11" fill="#2a2a2a">parallel</text><text x="427.6" y="166.3" font-size="11" fill="#2a2a2a">perpendicular</text><line x1="499" y1="94.0" x2="726" y2="94.0" stroke="#8a8a8a" stroke-width="1"/><line x1="612.3" y1="10.3" x2="612.3" y2="178.2" stroke="#8a8a8a" stroke-width="1"/><path d="M726.0,22.0 L725.1,21.9 L723.9,21.8 L722.6,21.6 L721.1,21.5 L719.4,21.3 L717.7,21.1 L715.8,20.9 L713.9,20.8 L712.0,20.6 L710.0,20.5 L708.0,20.4 L705.9,20.3 L703.6,20.1 L701.3,20.0 L699.0,19.9 L696.6,19.8 L694.2,19.8 L691.7,19.7 L689.4,19.7 L687.0,19.7 L684.6,19.7 L682.2,19.8 L679.7,19.9 L677.2,20.0 L674.7,20.1 L672.2,20.3 L669.9,20.4 L667.6,20.6 L665.5,20.8 L663.5,21.0 L661.7,21.2 L660.0,21.5 L658.4,21.7 L657.0,22.0 L655.6,22.3 L654.3,22.6 L653.0,22.9 L651.9,23.2 L650.7,23.5 L649.6,23.8 L648.6,24.1 L647.6,24.4 L646.7,24.7 L645.9,25.0 L645.2,25.3 L644.5,25.6 L643.7,25.9 L643.0,26.3 L642.3,26.7 L641.5,27.1 L640.7,27.5 L639.9,28.0 L639.0,28.5 L638.2,29.0 L637.4,29.6 L636.5,30.1 L635.7,30.7 L634.9,31.3 L634.2,31.9 L633.4,32.5 L632.7,33.1 L631.9,33.7 L631.2,34.4 L630.6,35.1 L629.9,35.7 L629.2,36.4 L628.6,37.1 L627.9,37.8 L627.3,38.6 L626.7,39.3 L626.1,40.0 L625.5,40.8 L625.0,41.5 L624.4,42.3 L623.9,43.1 L623.4,43.9 L622.9,44.7 L622.4,45.6 L621.8,46.5 L621.3,47.4 L620.8,48.4 L620.2,49.4 L619.6,50.5 L619.1,51.7 L618.5,52.8 L618.0,53.9 L617.4,55.1 L616.9,56.2 L616.4,57.2 L615.9,58.2 L615.4,59.1 L615.0,60.0 L614.5,60.9 L614.1,61.7 L613.7,62.5 L613.3,63.3 L612.9,64.1 L612.5,64.8 L612.1,65.6 L611.8,66.3 L611.5,67.0 L611.2,67.6 L610.9,68.2 L610.6,68.8 L610.4,69.4 L610.1,70.0 L609.9,70.6 L609.6,71.3 L609.4,72.1 L609.1,73.0 L608.8,74.0 L608.5,75.1 L608.3,76.4 L608.0,77.6 L607.7,79.0 L607.4,80.3 L607.1,81.6 L606.9,82.9 L606.6,84.1 L606.3,85.2 L606.0,86.2 L605.7,87.2 L605.5,88.0 L605.2,88.9 L604.9,89.7 L604.6,90.5 L604.3,91.4 L604.1,92.2 L603.8,93.1 L603.5,94.0 L603.2,95.0 L603.0,95.9 L602.7,96.9 L602.4,97.9 L602.2,98.9 L601.9,99.9 L601.7,101.0 L601.4,102.0 L601.1,103.1 L600.8,104.1 L600.5,105.2 L600.2,106.2 L599.8,107.3 L599.5,108.4 L599.2,109.6 L598.8,110.7 L598.5,111.8 L598.1,112.9 L597.8,113.9 L597.5,115.0 L597.2,116.0 L596.9,117.0 L596.7,118.0 L596.4,118.9 L596.2,119.9 L595.9,120.8 L595.7,121.8 L595.4,122.8 L595.1,123.9 L594.7,125.0 L594.3,126.2 L593.9,127.5 L593.5,128.8 L593.0,130.1 L592.6,131.5 L592.1,132.9 L591.6,134.2 L591.1,135.5 L590.5,136.8 L590.0,138.0 L589.5,139.1 L588.9,140.2 L588.4,141.2 L587.8,142.2 L587.3,143.2 L586.7,144.2 L586.1,145.1 L585.4,146.1 L584.7,147.0 L584.0,148.0 L583.2,149.0 L582.4,150.0 L581.5,151.1 L580.6,152.1 L579.7,153.1 L578.8,154.1 L577.8,155.1 L576.9,156.0 L575.9,156.8 L575.0,157.5 L574.1,158.1 L573.2,158.7 L572.4,159.1 L571.5,159.5 L570.7,159.9 L569.8,160.2 L568.8,160.5 L567.8,160.9 L566.7,161.2 L565.5,161.5 L564.3,161.8 L563.0,162.2 L561.7,162.5 L560.4,162.8 L559.0,163.1 L557.5,163.4 L555.9,163.7 L554.1,164.0 L552.2,164.2 L550.0,164.5 L547.5,164.7 L544.8,165.0 L541.8,165.2 L538.6,165.4 L535.3,165.7 L532.0,165.9 L528.8,166.0 L525.7,166.2 L522.7,166.4 L520.0,166.5 L517.4,166.6 L514.9,166.7 L512.4,166.8 L509.9,166.8 L507.6,166.9 L505.5,166.9 L503.5,166.9 L501.7,167.0 L500.2,167.0 L499.0,167.0" fill="none" stroke="#e8141b" stroke-width="2.5" stroke-linejoin="round"/><path d="M725.6,21.0 L724.4,21.0 L722.9,21.0 L721.1,21.1 L719.1,21.1 L717.0,21.1 L714.7,21.2 L712.2,21.2 L709.7,21.3 L707.2,21.4 L704.6,21.5 L701.9,21.6 L698.9,21.8 L695.8,22.0 L692.6,22.1 L689.3,22.3 L686.0,22.6 L682.8,22.8 L679.8,23.0 L677.1,23.3 L674.6,23.5 L672.4,23.8 L670.5,24.0 L668.7,24.3 L667.1,24.6 L665.6,24.9 L664.2,25.2 L662.9,25.5 L661.6,25.8 L660.3,26.2 L659.1,26.5 L657.9,26.8 L656.8,27.1 L655.8,27.5 L654.8,27.8 L653.9,28.1 L653.1,28.5 L652.2,28.9 L651.4,29.3 L650.5,29.9 L649.6,30.5 L648.7,31.2 L647.7,32.0 L646.8,32.9 L645.8,33.9 L644.9,34.9 L644.0,35.9 L643.1,36.9 L642.2,38.0 L641.4,39.0 L640.6,40.0 L639.9,41.0 L639.2,41.9 L638.5,42.9 L637.9,43.8 L637.3,44.8 L636.8,45.8 L636.2,46.8 L635.7,47.8 L635.1,48.9 L634.6,50.0 L634.1,51.2 L633.5,52.5 L633.0,53.8 L632.5,55.1 L632.0,56.5 L631.6,57.9 L631.1,59.2 L630.7,60.5 L630.3,61.8 L629.9,63.0 L629.5,64.1 L629.2,65.2 L628.9,66.2 L628.7,67.2 L628.4,68.1 L628.2,69.1 L627.9,70.0 L627.7,71.0 L627.4,72.0 L627.1,73.0 L626.8,74.1 L626.5,75.1 L626.1,76.2 L625.8,77.3 L625.4,78.4 L625.1,79.6 L624.8,80.7 L624.4,81.8 L624.1,82.8 L623.8,83.9 L623.5,84.9 L623.2,86.0 L622.9,87.0 L622.7,88.1 L622.4,89.1 L622.2,90.1 L621.9,91.1 L621.6,92.1 L621.4,93.0 L621.1,94.0 L620.8,94.9 L620.5,95.8 L620.3,96.6 L620.0,97.5 L619.7,98.3 L619.4,99.1 L619.1,100.0 L618.9,100.8 L618.6,101.8 L618.3,102.8 L618.0,103.9 L617.7,105.1 L617.5,106.4 L617.2,107.7 L616.9,109.0 L616.6,110.4 L616.3,111.6 L616.1,112.9 L615.8,114.0 L615.5,115.0 L615.2,115.9 L615.0,116.7 L614.7,117.4 L614.5,118.0 L614.2,118.6 L614.0,119.2 L613.7,119.8 L613.4,120.4 L613.1,121.0 L612.8,121.7 L612.5,122.4 L612.1,123.2 L611.7,123.9 L611.3,124.7 L610.9,125.5 L610.5,126.3 L610.1,127.1 L609.6,128.0 L609.2,128.9 L608.7,129.8 L608.2,130.8 L607.7,131.8 L607.2,132.9 L606.6,134.1 L606.1,135.2 L605.5,136.3 L605.0,137.5 L604.4,138.6 L603.8,139.6 L603.3,140.6 L602.8,141.5 L602.2,142.4 L601.7,143.3 L601.2,144.1 L600.7,144.9 L600.2,145.7 L599.6,146.5 L599.1,147.2 L598.5,148.0 L597.9,148.7 L597.3,149.4 L596.7,150.2 L596.0,150.9 L595.4,151.6 L594.7,152.3 L594.0,152.9 L593.4,153.6 L592.7,154.3 L591.9,154.9 L591.2,155.5 L590.4,156.1 L589.7,156.7 L588.9,157.3 L588.1,157.9 L587.2,158.4 L586.4,159.0 L585.6,159.5 L584.7,160.0 L583.9,160.5 L583.1,160.9 L582.3,161.3 L581.6,161.7 L580.9,162.1 L580.1,162.4 L579.4,162.7 L578.7,163.0 L577.9,163.3 L577.0,163.6 L576.0,163.9 L575.0,164.2 L573.9,164.5 L572.7,164.8 L571.6,165.1 L570.3,165.4 L569.0,165.7 L567.6,166.0 L566.2,166.3 L564.6,166.5 L562.9,166.8 L561.1,167.0 L559.1,167.2 L557.0,167.4 L554.7,167.6 L552.4,167.7 L549.9,167.9 L547.4,168.0 L544.9,168.1 L542.4,168.2 L540.0,168.3 L537.6,168.3 L535.2,168.3 L532.9,168.3 L530.4,168.2 L528.0,168.2 L525.6,168.1 L523.3,168.0 L521.0,167.9 L518.7,167.7 L516.6,167.6 L514.6,167.5 L512.6,167.4 L510.7,167.2 L508.8,167.1 L506.9,166.9 L505.2,166.7 L503.5,166.5 L502.0,166.4 L500.7,166.2 L499.5,166.1 L499.0,166.0" fill="none" stroke="#e8141b" stroke-width="2.5" stroke-linejoin="round"/><circle fill="#fff" stroke="#f03a3a" stroke-width="0.85" cx="726.0" cy="22.0" r="1.9"/><circle fill="#fff" stroke="#f03a3a" stroke-width="0.85" cx="722.6" cy="21.6" r="1.9"/><circle fill="#fff" stroke="#f03a3a" stroke-width="0.85" cx="719.4" cy="21.3" r="1.9"/><circle fill="#fff" stroke="#f03a3a" stroke-width="0.85" cx="715.8" cy="20.9" r="1.9"/><circle fill="#fff" stroke="#f03a3a" stroke-width="0.85" cx="712.0" cy="20.6" r="1.9"/><circle fill="#fff" stroke="#f03a3a" stroke-width="0.85" cx="708.0" cy="20.4" r="1.9"/><circle fill="#fff" stroke="#f03a3a" stroke-width="0.85" cx="703.6" cy="20.1" r="1.9"/><circle fill="#fff" stroke="#f03a3a" stroke-width="0.85" cx="701.3" cy="20.0" r="1.9"/><circle fill="#fff" stroke="#f03a3a" stroke-width="0.85" cx="699.0" cy="19.9" r="1.9"/><circle fill="#fff" stroke="#f03a3a" stroke-width="0.85" cx="696.6" cy="19.8" r="1.9"/><circle fill="#fff" stroke="#f03a3a" stroke-width="0.85" cx="694.2" cy="19.8" r="1.9"/><circle fill="#fff" stroke="#f03a3a" stroke-width="0.85" cx="691.7" cy="19.7" r="1.9"/><circle fill="#fff" stroke="#f03a3a" stroke-width="0.85" cx="689.4" cy="19.7" r="1.9"/><circle fill="#fff" stroke="#f03a3a" stroke-width="0.85" cx="687.0" cy="19.7" r="1.9"/><circle fill="#fff" stroke="#f03a3a" stroke-width="0.85" cx="684.6" cy="19.7" r="1.9"/><circle fill="#fff" stroke="#f03a3a" stroke-width="0.85" cx="682.2" cy="19.8" r="1.9"/><circle fill="#fff" stroke="#f03a3a" stroke-width="0.85" cx="679.7" cy="19.9" r="1.9"/><circle fill="#fff" stroke="#f03a3a" stroke-width="0.85" cx="677.2" cy="20.0" r="1.9"/><circle fill="#fff" stroke="#f03a3a" stroke-width="0.85" cx="674.7" cy="20.1" r="1.9"/><circle fill="#fff" stroke="#f03a3a" stroke-width="0.85" cx="672.2" cy="20.3" r="1.9"/><circle fill="#fff" stroke="#f03a3a" stroke-width="0.85" cx="669.9" cy="20.4" r="1.9"/><circle fill="#fff" stroke="#f03a3a" stroke-width="0.85" cx="665.5" cy="20.8" r="1.9"/><circle fill="#fff" stroke="#f03a3a" stroke-width="0.85" cx="661.7" cy="21.2" r="1.9"/><circle fill="#fff" stroke="#f03a3a" stroke-width="0.85" cx="658.4" cy="21.7" r="1.9"/><circle fill="#fff" stroke="#f03a3a" stroke-width="0.85" cx="655.6" cy="22.3" r="1.9"/><circle fill="#fff" stroke="#f03a3a" stroke-width="0.85" cx="653.0" cy="22.9" r="1.9"/><circle fill="#fff" stroke="#f03a3a" stroke-width="0.85" cx="650.7" cy="23.5" r="1.9"/><circle fill="#fff" stroke="#f03a3a" stroke-width="0.85" cx="647.6" cy="24.4" r="1.9"/><circle fill="#fff" stroke="#f03a3a" stroke-width="0.85" cx="645.2" cy="25.3" r="1.9"/><circle fill="#fff" stroke="#f03a3a" stroke-width="0.85" cx="642.3" cy="26.7" r="1.9"/><circle fill="#fff" stroke="#f03a3a" stroke-width="0.85" cx="639.9" cy="28.0" r="1.9"/><circle fill="#fff" stroke="#f03a3a" stroke-width="0.85" cx="637.4" cy="29.6" r="1.9"/><circle fill="#fff" stroke="#f03a3a" stroke-width="0.85" cx="634.9" cy="31.3" r="1.9"/><circle fill="#fff" stroke="#f03a3a" stroke-width="0.85" cx="631.9" cy="33.7" r="1.9"/><circle fill="#fff" stroke="#f03a3a" stroke-width="0.85" cx="629.2" cy="36.4" r="1.9"/><circle fill="#fff" stroke="#f03a3a" stroke-width="0.85" cx="626.7" cy="39.3" r="1.9"/><circle fill="#fff" stroke="#f03a3a" stroke-width="0.85" cx="623.9" cy="43.1" r="1.9"/><circle fill="#fff" stroke="#f03a3a" stroke-width="0.85" cx="621.3" cy="47.4" r="1.9"/><circle fill="#fff" stroke="#f03a3a" stroke-width="0.85" cx="618.5" cy="52.8" r="1.9"/><circle fill="#fff" stroke="#f03a3a" stroke-width="0.85" cx="615.9" cy="58.2" r="1.9"/><circle fill="#fff" stroke="#f03a3a" stroke-width="0.85" cx="613.3" cy="63.3" r="1.9"/><circle fill="#fff" stroke="#f03a3a" stroke-width="0.85" cx="610.9" cy="68.2" r="1.9"/><circle fill="#fff" stroke="#f03a3a" stroke-width="0.85" cx="608.5" cy="75.1" r="1.9"/><circle fill="#fff" stroke="#f03a3a" stroke-width="0.85" cx="606.3" cy="85.2" r="1.9"/><circle fill="#fff" stroke="#f03a3a" stroke-width="0.85" cx="603.8" cy="93.1" r="1.9"/><circle fill="#fff" stroke="#f03a3a" stroke-width="0.85" cx="601.4" cy="102.0" r="1.9"/><circle fill="#fff" stroke="#f03a3a" stroke-width="0.85" cx="598.8" cy="110.7" r="1.9"/><circle fill="#fff" stroke="#f03a3a" stroke-width="0.85" cx="596.4" cy="118.9" r="1.9"/><circle fill="#fff" stroke="#f03a3a" stroke-width="0.85" cx="593.9" cy="127.5" r="1.9"/><circle fill="#fff" stroke="#f03a3a" stroke-width="0.85" cx="591.6" cy="134.2" r="1.9"/><circle fill="#fff" stroke="#f03a3a" stroke-width="0.85" cx="588.9" cy="140.2" r="1.9"/><circle fill="#fff" stroke="#f03a3a" stroke-width="0.85" cx="586.1" cy="145.1" r="1.9"/><circle fill="#fff" stroke="#f03a3a" stroke-width="0.85" cx="583.2" cy="149.0" r="1.9"/><circle fill="#fff" stroke="#f03a3a" stroke-width="0.85" cx="580.6" cy="152.1" r="1.9"/><circle fill="#fff" stroke="#f03a3a" stroke-width="0.85" cx="577.8" cy="155.1" r="1.9"/><circle fill="#fff" stroke="#f03a3a" stroke-width="0.85" cx="575.0" cy="157.5" r="1.9"/><circle fill="#fff" stroke="#f03a3a" stroke-width="0.85" cx="572.4" cy="159.1" r="1.9"/><circle fill="#fff" stroke="#f03a3a" stroke-width="0.85" cx="569.8" cy="160.2" r="1.9"/><circle fill="#fff" stroke="#f03a3a" stroke-width="0.85" cx="566.7" cy="161.2" r="1.9"/><circle fill="#fff" stroke="#f03a3a" stroke-width="0.85" cx="564.3" cy="161.8" r="1.9"/><circle fill="#fff" stroke="#f03a3a" stroke-width="0.85" cx="561.7" cy="162.5" r="1.9"/><circle fill="#fff" stroke="#f03a3a" stroke-width="0.85" cx="559.0" cy="163.1" r="1.9"/><circle fill="#fff" stroke="#f03a3a" stroke-width="0.85" cx="555.9" cy="163.7" r="1.9"/><circle fill="#fff" stroke="#f03a3a" stroke-width="0.85" cx="552.2" cy="164.2" r="1.9"/><circle fill="#fff" stroke="#f03a3a" stroke-width="0.85" cx="547.5" cy="164.7" r="1.9"/><circle fill="#fff" stroke="#f03a3a" stroke-width="0.85" cx="544.8" cy="165.0" r="1.9"/><circle fill="#fff" stroke="#f03a3a" stroke-width="0.85" cx="541.8" cy="165.2" r="1.9"/><circle fill="#fff" stroke="#f03a3a" stroke-width="0.85" cx="538.6" cy="165.4" r="1.9"/><circle fill="#fff" stroke="#f03a3a" stroke-width="0.85" cx="535.3" cy="165.7" r="1.9"/><circle fill="#fff" stroke="#f03a3a" stroke-width="0.85" cx="532.0" cy="165.9" r="1.9"/><circle fill="#fff" stroke="#f03a3a" stroke-width="0.85" cx="528.8" cy="166.0" r="1.9"/><circle fill="#fff" stroke="#f03a3a" stroke-width="0.85" cx="525.7" cy="166.2" r="1.9"/><circle fill="#fff" stroke="#f03a3a" stroke-width="0.85" cx="522.7" cy="166.4" r="1.9"/><circle fill="#fff" stroke="#f03a3a" stroke-width="0.85" cx="520.0" cy="166.5" r="1.9"/><circle fill="#fff" stroke="#f03a3a" stroke-width="0.85" cx="517.4" cy="166.6" r="1.9"/><circle fill="#fff" stroke="#f03a3a" stroke-width="0.85" cx="514.9" cy="166.7" r="1.9"/><circle fill="#fff" stroke="#f03a3a" stroke-width="0.85" cx="512.4" cy="166.8" r="1.9"/><circle fill="#fff" stroke="#f03a3a" stroke-width="0.85" cx="509.9" cy="166.8" r="1.9"/><circle fill="#fff" stroke="#f03a3a" stroke-width="0.85" cx="507.6" cy="166.9" r="1.9"/><circle fill="#fff" stroke="#f03a3a" stroke-width="0.85" cx="503.5" cy="166.9" r="1.9"/><circle fill="#fff" stroke="#f03a3a" stroke-width="0.85" cx="500.2" cy="167.0" r="1.9"/><circle fill="#fff" stroke="#f03a3a" stroke-width="0.85" cx="725.6" cy="21.0" r="1.9"/><circle fill="#fff" stroke="#f03a3a" stroke-width="0.85" cx="722.9" cy="21.0" r="1.9"/><circle fill="#fff" stroke="#f03a3a" stroke-width="0.85" cx="719.1" cy="21.1" r="1.9"/><circle fill="#fff" stroke="#f03a3a" stroke-width="0.85" cx="714.7" cy="21.2" r="1.9"/><circle fill="#fff" stroke="#f03a3a" stroke-width="0.85" cx="712.2" cy="21.2" r="1.9"/><circle fill="#fff" stroke="#f03a3a" stroke-width="0.85" cx="709.7" cy="21.3" r="1.9"/><circle fill="#fff" stroke="#f03a3a" stroke-width="0.85" cx="707.2" cy="21.4" r="1.9"/><circle fill="#fff" stroke="#f03a3a" stroke-width="0.85" cx="704.6" cy="21.5" r="1.9"/><circle fill="#fff" stroke="#f03a3a" stroke-width="0.85" cx="701.9" cy="21.6" r="1.9"/><circle fill="#fff" stroke="#f03a3a" stroke-width="0.85" cx="698.9" cy="21.8" r="1.9"/><circle fill="#fff" stroke="#f03a3a" stroke-width="0.85" cx="695.8" cy="22.0" r="1.9"/><circle fill="#fff" stroke="#f03a3a" stroke-width="0.85" cx="692.6" cy="22.1" r="1.9"/><circle fill="#fff" stroke="#f03a3a" stroke-width="0.85" cx="689.3" cy="22.3" r="1.9"/><circle fill="#fff" stroke="#f03a3a" stroke-width="0.85" cx="686.0" cy="22.6" r="1.9"/><circle fill="#fff" stroke="#f03a3a" stroke-width="0.85" cx="682.8" cy="22.8" r="1.9"/><circle fill="#fff" stroke="#f03a3a" stroke-width="0.85" cx="679.8" cy="23.0" r="1.9"/><circle fill="#fff" stroke="#f03a3a" stroke-width="0.85" cx="677.1" cy="23.3" r="1.9"/><circle fill="#fff" stroke="#f03a3a" stroke-width="0.85" cx="674.6" cy="23.5" r="1.9"/><circle fill="#fff" stroke="#f03a3a" stroke-width="0.85" cx="670.5" cy="24.0" r="1.9"/><circle fill="#fff" stroke="#f03a3a" stroke-width="0.85" cx="667.1" cy="24.6" r="1.9"/><circle fill="#fff" stroke="#f03a3a" stroke-width="0.85" cx="664.2" cy="25.2" r="1.9"/><circle fill="#fff" stroke="#f03a3a" stroke-width="0.85" cx="661.6" cy="25.8" r="1.9"/><circle fill="#fff" stroke="#f03a3a" stroke-width="0.85" cx="659.1" cy="26.5" r="1.9"/><circle fill="#fff" stroke="#f03a3a" stroke-width="0.85" cx="655.8" cy="27.5" r="1.9"/><circle fill="#fff" stroke="#f03a3a" stroke-width="0.85" cx="653.1" cy="28.5" r="1.9"/><circle fill="#fff" stroke="#f03a3a" stroke-width="0.85" cx="650.5" cy="29.9" r="1.9"/><circle fill="#fff" stroke="#f03a3a" stroke-width="0.85" cx="647.7" cy="32.0" r="1.9"/><circle fill="#fff" stroke="#f03a3a" stroke-width="0.85" cx="644.9" cy="34.9" r="1.9"/><circle fill="#fff" stroke="#f03a3a" stroke-width="0.85" cx="642.2" cy="38.0" r="1.9"/><circle fill="#fff" stroke="#f03a3a" stroke-width="0.85" cx="639.9" cy="41.0" r="1.9"/><circle fill="#fff" stroke="#f03a3a" stroke-width="0.85" cx="637.3" cy="44.8" r="1.9"/><circle fill="#fff" stroke="#f03a3a" stroke-width="0.85" cx="634.6" cy="50.0" r="1.9"/><circle fill="#fff" stroke="#f03a3a" stroke-width="0.85" cx="632.0" cy="56.5" r="1.9"/><circle fill="#fff" stroke="#f03a3a" stroke-width="0.85" cx="629.5" cy="64.1" r="1.9"/><circle fill="#fff" stroke="#f03a3a" stroke-width="0.85" cx="627.1" cy="73.0" r="1.9"/><circle fill="#fff" stroke="#f03a3a" stroke-width="0.85" cx="624.8" cy="80.7" r="1.9"/><circle fill="#fff" stroke="#f03a3a" stroke-width="0.85" cx="622.4" cy="89.1" r="1.9"/><circle fill="#fff" stroke="#f03a3a" stroke-width="0.85" cx="620.0" cy="97.5" r="1.9"/><circle fill="#fff" stroke="#f03a3a" stroke-width="0.85" cx="617.5" cy="106.4" r="1.9"/><circle fill="#fff" stroke="#f03a3a" stroke-width="0.85" cx="615.0" cy="116.7" r="1.9"/><circle fill="#fff" stroke="#f03a3a" stroke-width="0.85" cx="612.5" cy="122.4" r="1.9"/><circle fill="#fff" stroke="#f03a3a" stroke-width="0.85" cx="610.1" cy="127.1" r="1.9"/><circle fill="#fff" stroke="#f03a3a" stroke-width="0.85" cx="607.7" cy="131.8" r="1.9"/><circle fill="#fff" stroke="#f03a3a" stroke-width="0.85" cx="605.0" cy="137.5" r="1.9"/><circle fill="#fff" stroke="#f03a3a" stroke-width="0.85" cx="602.2" cy="142.4" r="1.9"/><circle fill="#fff" stroke="#f03a3a" stroke-width="0.85" cx="599.6" cy="146.5" r="1.9"/><circle fill="#fff" stroke="#f03a3a" stroke-width="0.85" cx="597.3" cy="149.4" r="1.9"/><circle fill="#fff" stroke="#f03a3a" stroke-width="0.85" cx="594.7" cy="152.3" r="1.9"/><circle fill="#fff" stroke="#f03a3a" stroke-width="0.85" cx="591.9" cy="154.9" r="1.9"/><circle fill="#fff" stroke="#f03a3a" stroke-width="0.85" cx="588.9" cy="157.3" r="1.9"/><circle fill="#fff" stroke="#f03a3a" stroke-width="0.85" cx="586.4" cy="159.0" r="1.9"/><circle fill="#fff" stroke="#f03a3a" stroke-width="0.85" cx="583.9" cy="160.5" r="1.9"/><circle fill="#fff" stroke="#f03a3a" stroke-width="0.85" cx="581.6" cy="161.7" r="1.9"/><circle fill="#fff" stroke="#f03a3a" stroke-width="0.85" cx="578.7" cy="163.0" r="1.9"/><circle fill="#fff" stroke="#f03a3a" stroke-width="0.85" cx="576.0" cy="163.9" r="1.9"/><circle fill="#fff" stroke="#f03a3a" stroke-width="0.85" cx="572.7" cy="164.8" r="1.9"/><circle fill="#fff" stroke="#f03a3a" stroke-width="0.85" cx="570.3" cy="165.4" r="1.9"/><circle fill="#fff" stroke="#f03a3a" stroke-width="0.85" cx="567.6" cy="166.0" r="1.9"/><circle fill="#fff" stroke="#f03a3a" stroke-width="0.85" cx="564.6" cy="166.5" r="1.9"/><circle fill="#fff" stroke="#f03a3a" stroke-width="0.85" cx="561.1" cy="167.0" r="1.9"/><circle fill="#fff" stroke="#f03a3a" stroke-width="0.85" cx="557.0" cy="167.4" r="1.9"/><circle fill="#fff" stroke="#f03a3a" stroke-width="0.85" cx="552.4" cy="167.7" r="1.9"/><circle fill="#fff" stroke="#f03a3a" stroke-width="0.85" cx="549.9" cy="167.9" r="1.9"/><circle fill="#fff" stroke="#f03a3a" stroke-width="0.85" cx="547.4" cy="168.0" r="1.9"/><circle fill="#fff" stroke="#f03a3a" stroke-width="0.85" cx="544.9" cy="168.1" r="1.9"/><circle fill="#fff" stroke="#f03a3a" stroke-width="0.85" cx="542.4" cy="168.2" r="1.9"/><circle fill="#fff" stroke="#f03a3a" stroke-width="0.85" cx="540.0" cy="168.3" r="1.9"/><circle fill="#fff" stroke="#f03a3a" stroke-width="0.85" cx="537.6" cy="168.3" r="1.9"/><circle fill="#fff" stroke="#f03a3a" stroke-width="0.85" cx="535.2" cy="168.3" r="1.9"/><circle fill="#fff" stroke="#f03a3a" stroke-width="0.85" cx="532.9" cy="168.3" r="1.9"/><circle fill="#fff" stroke="#f03a3a" stroke-width="0.85" cx="530.4" cy="168.2" r="1.9"/><circle fill="#fff" stroke="#f03a3a" stroke-width="0.85" cx="528.0" cy="168.2" r="1.9"/><circle fill="#fff" stroke="#f03a3a" stroke-width="0.85" cx="525.6" cy="168.1" r="1.9"/><circle fill="#fff" stroke="#f03a3a" stroke-width="0.85" cx="523.3" cy="168.0" r="1.9"/><circle fill="#fff" stroke="#f03a3a" stroke-width="0.85" cx="521.0" cy="167.9" r="1.9"/><circle fill="#fff" stroke="#f03a3a" stroke-width="0.85" cx="516.6" cy="167.6" r="1.9"/><circle fill="#fff" stroke="#f03a3a" stroke-width="0.85" cx="512.6" cy="167.4" r="1.9"/><circle fill="#fff" stroke="#f03a3a" stroke-width="0.85" cx="508.8" cy="167.1" r="1.9"/><circle fill="#fff" stroke="#f03a3a" stroke-width="0.85" cx="505.2" cy="166.7" r="1.9"/><circle fill="#fff" stroke="#f03a3a" stroke-width="0.85" cx="502.0" cy="166.4" r="1.9"/><circle fill="#fff" stroke="#f03a3a" stroke-width="0.85" cx="499.5" cy="166.1" r="1.9"/><path d="M726.0,19.5 L724.4,19.5 L722.4,19.6 L720.1,19.6 L717.4,19.6 L714.6,19.7 L711.6,19.7 L708.5,19.8 L705.6,19.9 L702.7,19.9 L700.0,20.0 L697.4,20.1 L694.8,20.1 L692.1,20.2 L689.4,20.3 L686.8,20.4 L684.2,20.5 L681.7,20.6 L679.3,20.7 L677.1,20.8 L675.0,21.0 L673.1,21.2 L671.3,21.4 L669.6,21.6 L668.1,21.8 L666.6,22.0 L665.2,22.2 L663.8,22.5 L662.5,22.8 L661.3,23.1 L660.0,23.5 L658.8,23.9 L657.6,24.3 L656.5,24.8 L655.5,25.2 L654.4,25.7 L653.5,26.3 L652.5,26.8 L651.5,27.4 L650.6,27.9 L649.6,28.5 L648.6,29.1 L647.6,29.7 L646.7,30.3 L645.7,31.0 L644.8,31.7 L643.8,32.3 L642.9,33.0 L642.0,33.7 L641.1,34.5 L640.2,35.2 L639.3,35.9 L638.5,36.7 L637.7,37.5 L636.9,38.3 L636.1,39.1 L635.3,39.9 L634.5,40.7 L633.7,41.6 L632.9,42.4 L632.1,43.3 L631.3,44.2 L630.4,45.1 L629.6,46.1 L628.7,47.1 L627.9,48.0 L627.0,49.0 L626.2,50.0 L625.4,51.0 L624.7,51.9 L624.0,52.8 L623.3,53.7 L622.7,54.5 L622.1,55.3 L621.6,56.1 L621.1,56.9 L620.5,57.6 L620.0,58.4 L619.6,59.2 L619.1,60.0 L618.6,60.9 L618.1,61.8 L617.7,62.6 L617.4,63.5 L617.0,64.3 L616.6,65.2 L616.3,66.1 L615.9,67.0 L615.5,68.0 L615.0,69.1 L614.5,70.3 L613.9,71.6 L613.3,73.0 L612.6,74.6 L611.9,76.2 L611.2,77.8 L610.5,79.4 L609.8,81.0 L609.1,82.5 L608.5,83.9 L608.0,85.2 L607.6,86.3 L607.2,87.3 L606.8,88.3 L606.5,89.1 L606.3,89.9 L606.0,90.7 L605.8,91.5 L605.5,92.3 L605.3,93.1 L605.0,94.0 L604.7,94.9 L604.4,95.9 L604.2,96.8 L603.9,97.7 L603.6,98.7 L603.3,99.7 L603.0,100.7 L602.7,101.7 L602.4,102.8 L602.0,104.0 L601.6,105.2 L601.1,106.5 L600.7,107.9 L600.2,109.3 L599.6,110.7 L599.1,112.1 L598.6,113.6 L598.1,115.1 L597.5,116.5 L597.0,118.0 L596.5,119.5 L596.0,120.9 L595.6,122.4 L595.1,123.9 L594.6,125.4 L594.2,127.0 L593.6,128.5 L593.0,130.0 L592.4,131.5 L591.7,133.0 L590.9,134.5 L590.1,136.1 L589.2,137.7 L588.2,139.2 L587.3,140.8 L586.3,142.4 L585.2,143.9 L584.2,145.3 L583.1,146.7 L582.0,148.0 L580.9,149.2 L579.9,150.4 L578.8,151.5 L577.7,152.6 L576.6,153.6 L575.5,154.6 L574.3,155.5 L572.9,156.4 L571.5,157.2 L570.0,158.0 L568.4,158.7 L566.7,159.4 L564.9,160.1 L563.1,160.7 L561.1,161.2 L559.1,161.7 L557.0,162.2 L554.8,162.7 L552.4,163.1 L550.0,163.5 L547.4,163.9 L544.5,164.2 L541.5,164.5 L538.3,164.8 L535.1,165.1 L531.8,165.3 L528.7,165.5 L525.6,165.7 L522.7,165.8 L520.0,166.0 L517.4,166.1 L514.9,166.2 L512.4,166.3 L509.9,166.4 L507.6,166.4 L505.5,166.4 L503.5,166.4 L501.7,166.5 L500.2,166.5 L499.0,166.5" fill="none" stroke="#111" stroke-width="1.4" stroke-linejoin="round"/><path d="M725.6,21.5 L724.4,21.5 L722.9,21.5 L721.1,21.6 L719.1,21.6 L717.0,21.6 L714.7,21.6 L712.2,21.7 L709.7,21.8 L707.2,21.9 L704.6,22.0 L701.9,22.2 L699.0,22.3 L695.9,22.5 L692.8,22.7 L689.5,22.9 L686.3,23.2 L683.1,23.5 L680.1,23.8 L677.2,24.1 L674.6,24.5 L672.2,24.9 L669.8,25.3 L667.6,25.8 L665.5,26.3 L663.5,26.8 L661.5,27.3 L659.7,27.9 L657.9,28.6 L656.2,29.3 L654.6,30.0 L653.1,30.8 L651.7,31.6 L650.3,32.5 L649.1,33.4 L648.0,34.4 L646.9,35.4 L645.8,36.5 L644.7,37.6 L643.7,38.8 L642.6,40.0 L641.5,41.3 L640.4,42.7 L639.4,44.1 L638.3,45.6 L637.3,47.2 L636.4,48.8 L635.4,50.3 L634.5,51.9 L633.7,53.5 L632.9,55.0 L632.2,56.5 L631.6,58.0 L631.0,59.5 L630.4,61.0 L630.0,62.6 L629.5,64.1 L629.0,65.6 L628.6,67.1 L628.1,68.5 L627.6,70.0 L627.1,71.5 L626.5,72.9 L626.0,74.4 L625.5,75.9 L625.0,77.3 L624.4,78.7 L623.9,80.1 L623.5,81.5 L623.0,82.8 L622.6,84.0 L622.2,85.2 L621.9,86.3 L621.6,87.3 L621.3,88.3 L621.0,89.3 L620.7,90.3 L620.4,91.2 L620.2,92.1 L619.9,93.1 L619.6,94.0 L619.3,94.9 L619.1,95.7 L618.8,96.5 L618.6,97.3 L618.3,98.1 L618.1,98.9 L617.8,99.7 L617.4,100.7 L617.0,101.7 L616.6,102.8 L616.1,104.1 L615.5,105.5 L614.8,107.0 L614.1,108.6 L613.4,110.2 L612.7,111.8 L612.0,113.4 L611.3,115.0 L610.7,116.4 L610.1,117.7 L609.6,118.9 L609.1,120.0 L608.7,121.0 L608.3,121.9 L608.0,122.8 L607.6,123.7 L607.2,124.5 L606.9,125.4 L606.5,126.2 L606.0,127.1 L605.5,128.0 L605.0,128.8 L604.6,129.6 L604.1,130.4 L603.5,131.1 L603.0,131.9 L602.5,132.7 L601.9,133.5 L601.3,134.3 L600.6,135.2 L599.9,136.1 L599.2,137.0 L598.4,138.0 L597.6,139.0 L596.7,139.9 L595.9,140.9 L595.0,141.9 L594.2,142.9 L593.3,143.8 L592.5,144.7 L591.7,145.6 L590.9,146.4 L590.1,147.3 L589.3,148.1 L588.5,148.9 L587.7,149.7 L586.9,150.5 L586.1,151.3 L585.3,152.1 L584.4,152.8 L583.5,153.5 L582.6,154.3 L581.7,155.0 L580.8,155.7 L579.8,156.3 L578.9,157.0 L577.9,157.7 L577.0,158.3 L576.0,158.9 L575.0,159.5 L574.0,160.1 L573.1,160.6 L572.1,161.2 L571.1,161.7 L570.1,162.3 L569.1,162.8 L568.1,163.2 L567.0,163.7 L565.8,164.1 L564.6,164.5 L563.3,164.9 L562.1,165.2 L560.8,165.5 L559.4,165.8 L558.0,166.0 L556.5,166.2 L555.0,166.4 L553.3,166.6 L551.5,166.8 L549.6,167.0 L547.5,167.2 L545.3,167.3 L542.9,167.4 L540.4,167.5 L537.8,167.6 L535.2,167.7 L532.5,167.8 L529.8,167.9 L527.2,167.9 L524.6,168.0 L521.9,168.1 L519.0,168.1 L516.1,168.2 L513.0,168.3 L510.0,168.3 L507.2,168.4 L504.5,168.4 L502.2,168.4 L500.2,168.5 L499.0,168.5" fill="none" stroke="#111" stroke-width="1.4" stroke-linejoin="round"/><path d="M723.7,21.1L728.3,21.1L726.0,17.1ZM720.1,21.2L724.7,21.2L722.4,17.2ZM715.1,21.2L719.7,21.2L717.4,17.2ZM712.3,21.3L716.9,21.3L714.6,17.3ZM709.3,21.3L713.9,21.3L711.6,17.3ZM706.2,21.4L710.8,21.4L708.5,17.4ZM703.3,21.5L707.9,21.5L705.6,17.5ZM700.4,21.5L705.0,21.5L702.7,17.5ZM695.1,21.7L699.7,21.7L697.4,17.7ZM689.8,21.8L694.4,21.8L692.1,17.8ZM684.5,22.0L689.1,22.0L686.8,18.0ZM679.4,22.2L684.0,22.2L681.7,18.2ZM674.8,22.4L679.4,22.4L677.1,18.4ZM670.8,22.8L675.4,22.8L673.1,18.8ZM667.3,23.2L671.9,23.2L669.6,19.2ZM664.3,23.6L668.9,23.6L666.6,19.6ZM660.2,24.4L664.8,24.4L662.5,20.4ZM656.5,25.5L661.1,25.5L658.8,21.5ZM653.2,26.8L657.8,26.8L655.5,22.8ZM650.2,28.4L654.8,28.4L652.5,24.4ZM647.3,30.1L651.9,30.1L649.6,26.1ZM644.4,31.9L649.0,31.9L646.7,27.9ZM641.5,33.9L646.1,33.9L643.8,29.9ZM637.9,36.8L642.5,36.8L640.2,32.8ZM634.6,39.9L639.2,39.9L636.9,35.9ZM631.4,43.2L636.0,43.2L633.7,39.2ZM628.1,46.7L632.7,46.7L630.4,42.7ZM624.7,50.6L629.3,50.6L627.0,46.6ZM621.7,54.4L626.3,54.4L624.0,50.4ZM618.8,58.5L623.4,58.5L621.1,54.5ZM615.8,63.4L620.4,63.4L618.1,59.4ZM613.2,69.6L617.8,69.6L615.5,65.6ZM610.3,76.2L614.9,76.2L612.6,72.2ZM607.5,82.6L612.1,82.6L609.8,78.6ZM604.9,88.9L609.5,88.9L607.2,84.9ZM603.0,94.7L607.6,94.7L605.3,90.7ZM601.0,101.3L605.6,101.3L603.3,97.3ZM598.8,108.1L603.4,108.1L601.1,104.1ZM596.3,115.2L600.9,115.2L598.6,111.2ZM594.2,121.1L598.8,121.1L596.5,117.1ZM592.3,127.0L596.9,127.0L594.6,123.0ZM590.1,133.1L594.7,133.1L592.4,129.1ZM586.9,139.3L591.5,139.3L589.2,135.3ZM584.0,144.0L588.6,144.0L586.3,140.0ZM580.8,148.3L585.4,148.3L583.1,144.3ZM577.6,152.0L582.2,152.0L579.9,148.0ZM574.3,155.2L578.9,155.2L576.6,151.2ZM570.6,158.0L575.2,158.0L572.9,154.0ZM567.7,159.6L572.3,159.6L570.0,155.6ZM564.4,161.0L569.0,161.0L566.7,157.0ZM560.8,162.3L565.4,162.3L563.1,158.3ZM556.8,163.3L561.4,163.3L559.1,159.3ZM552.5,164.3L557.1,164.3L554.8,160.3ZM547.7,165.1L552.3,165.1L550.0,161.1ZM542.2,165.8L546.8,165.8L544.5,161.8ZM539.2,166.1L543.8,166.1L541.5,162.1ZM536.0,166.4L540.6,166.4L538.3,162.4ZM532.8,166.7L537.4,166.7L535.1,162.7ZM529.5,166.9L534.1,166.9L531.8,162.9ZM526.4,167.1L531.0,167.1L528.7,163.1ZM523.3,167.3L527.9,167.3L525.6,163.3ZM520.4,167.4L525.0,167.4L522.7,163.4ZM515.1,167.7L519.7,167.7L517.4,163.7ZM510.1,167.9L514.7,167.9L512.4,163.9ZM505.3,168.0L509.9,168.0L507.6,164.0ZM501.2,168.0L505.8,168.0L503.5,164.0ZM497.9,168.1L502.5,168.1L500.2,164.1ZM723.3,23.1L727.9,23.1L725.6,19.1ZM718.8,23.2L723.4,23.2L721.1,19.2ZM714.7,23.2L719.3,23.2L717.0,19.2ZM709.9,23.3L714.5,23.3L712.2,19.3ZM704.9,23.5L709.5,23.5L707.2,19.5ZM699.6,23.8L704.2,23.8L701.9,19.8ZM696.7,23.9L701.3,23.9L699.0,19.9ZM693.6,24.1L698.2,24.1L695.9,20.1ZM690.5,24.3L695.1,24.3L692.8,20.3ZM687.2,24.5L691.8,24.5L689.5,20.5ZM684.0,24.8L688.6,24.8L686.3,20.8ZM680.8,25.1L685.4,25.1L683.1,21.1ZM677.8,25.4L682.4,25.4L680.1,21.4ZM674.9,25.7L679.5,25.7L677.2,21.7ZM669.9,26.5L674.5,26.5L672.2,22.5ZM665.3,27.4L669.9,27.4L667.6,23.4ZM661.2,28.4L665.8,28.4L663.5,24.4ZM657.4,29.5L662.0,29.5L659.7,25.5ZM653.9,30.9L658.5,30.9L656.2,26.9ZM650.8,32.4L655.4,32.4L653.1,28.4ZM646.8,35.0L651.4,35.0L649.1,31.0ZM643.5,38.1L648.1,38.1L645.8,34.1ZM640.3,41.6L644.9,41.6L642.6,37.6ZM637.1,45.7L641.7,45.7L639.4,41.7ZM634.1,50.4L638.7,50.4L636.4,46.4ZM630.6,56.6L635.2,56.6L632.9,52.6ZM628.1,62.6L632.7,62.6L630.4,58.6ZM626.3,68.7L630.9,68.7L628.6,64.7ZM624.2,74.5L628.8,74.5L626.5,70.5ZM622.1,80.3L626.7,80.3L624.4,76.3ZM619.9,86.8L624.5,86.8L622.2,82.8ZM618.1,92.8L622.7,92.8L620.4,88.8ZM616.3,98.9L620.9,98.9L618.6,94.9ZM613.8,105.7L618.4,105.7L616.1,101.7ZM611.1,111.8L615.7,111.8L613.4,107.8ZM608.4,118.0L613.0,118.0L610.7,114.0ZM605.7,124.4L610.3,124.4L608.0,120.4ZM602.7,130.4L607.3,130.4L605.0,126.4ZM599.6,135.1L604.2,135.1L601.9,131.1ZM596.1,139.6L600.7,139.6L598.4,135.6ZM592.7,143.5L597.3,143.5L595.0,139.5ZM589.4,147.2L594.0,147.2L591.7,143.2ZM586.2,150.5L590.8,150.5L588.5,146.5ZM583.0,153.7L587.6,153.7L585.3,149.7ZM579.4,156.6L584.0,156.6L581.7,152.6ZM576.6,158.6L581.2,158.6L578.9,154.6ZM573.7,160.5L578.3,160.5L576.0,156.5ZM570.8,162.2L575.4,162.2L573.1,158.2ZM567.9,163.9L572.4,163.9L570.1,159.9ZM564.7,165.3L569.3,165.3L567.0,161.3ZM561.0,166.5L565.6,166.5L563.3,162.5ZM557.1,167.4L561.7,167.4L559.4,163.4ZM554.2,167.8L558.8,167.8L556.5,163.8ZM551.0,168.2L555.6,168.2L553.3,164.2ZM547.3,168.6L551.9,168.6L549.6,164.6ZM543.0,168.9L547.6,168.9L545.3,164.9ZM538.1,169.1L542.7,169.1L540.4,165.1ZM532.9,169.3L537.5,169.3L535.2,165.3ZM527.5,169.5L532.1,169.5L529.8,165.5ZM522.3,169.6L526.9,169.6L524.6,165.6ZM516.7,169.7L521.3,169.7L519.0,165.7ZM513.8,169.8L518.4,169.8L516.1,165.8ZM510.7,169.9L515.3,169.9L513.0,165.9ZM507.7,169.9L512.3,169.9L510.0,165.9ZM504.9,170.0L509.5,170.0L507.2,166.0ZM499.9,170.0L504.5,170.0L502.2,166.0ZM496.7,170.1L501.3,170.1L499.0,166.1Z" fill="#fff" stroke="#333" stroke-width="0.8"/><rect x="499" y="10.3" width="227" height="167.89999999999998" fill="none" stroke="#606060" stroke-width="1"/><line x1="495" y1="166.9" x2="499" y2="166.9" stroke="#606060" stroke-width="1"/><line x1="496.5" y1="148.7" x2="499" y2="148.7" stroke="#606060" stroke-width="1"/><line x1="495" y1="130.4" x2="499" y2="130.4" stroke="#606060" stroke-width="1"/><line x1="496.5" y1="112.2" x2="499" y2="112.2" stroke="#606060" stroke-width="1"/><line x1="495" y1="94.0" x2="499" y2="94.0" stroke="#606060" stroke-width="1"/><line x1="496.5" y1="75.8" x2="499" y2="75.8" stroke="#606060" stroke-width="1"/><line x1="495" y1="57.5" x2="499" y2="57.5" stroke="#606060" stroke-width="1"/><line x1="496.5" y1="39.3" x2="499" y2="39.3" stroke="#606060" stroke-width="1"/><line x1="495" y1="21.1" x2="499" y2="21.1" stroke="#606060" stroke-width="1"/><line x1="517.7" y1="178.2" x2="517.7" y2="182.2" stroke="#606060" stroke-width="1"/><line x1="541.4" y1="178.2" x2="541.4" y2="181.2" stroke="#606060" stroke-width="1"/><line x1="565.0" y1="178.2" x2="565.0" y2="182.2" stroke="#606060" stroke-width="1"/><line x1="588.7" y1="178.2" x2="588.7" y2="181.2" stroke="#606060" stroke-width="1"/><line x1="612.3" y1="178.2" x2="612.3" y2="182.2" stroke="#606060" stroke-width="1"/><line x1="635.9" y1="178.2" x2="635.9" y2="181.2" stroke="#606060" stroke-width="1"/><line x1="659.6" y1="178.2" x2="659.6" y2="182.2" stroke="#606060" stroke-width="1"/><line x1="683.2" y1="178.2" x2="683.2" y2="181.2" stroke="#606060" stroke-width="1"/><line x1="706.9" y1="178.2" x2="706.9" y2="182.2" stroke="#606060" stroke-width="1"/><text x="517.7" y="192.0" font-size="10.5" font-weight="bold" fill="#111" text-anchor="middle">-5.0</text><text x="565.0" y="192.0" font-size="10.5" font-weight="bold" fill="#111" text-anchor="middle">-2.5</text><text x="612.3" y="192.0" font-size="10.5" font-weight="bold" fill="#111" text-anchor="middle">0.0</text><text x="659.6" y="192.0" font-size="10.5" font-weight="bold" fill="#111" text-anchor="middle">2.5</text><text x="706.9" y="192.0" font-size="10.5" font-weight="bold" fill="#111" text-anchor="middle">5.0</text><text x="612" y="212.2" font-size="12.5" font-weight="bold" fill="#111" text-anchor="middle">H (kOe)</text><rect x="500" y="11.6" width="41" height="33.9" fill="#000"/><text x="520.5" y="35.5" font-size="20" font-weight="bold" fill="#fff" text-anchor="middle">(c)</text><text x="635.1" y="107.6" font-size="13" fill="#2a2a2a" letter-spacing="0.2">L<tspan font-size="7.5" dy="6">Cu</tspan><tspan dy="-6">= 120 nm</tspan></text><text x="635.1" y="128.2" font-size="13" fill="#2a2a2a" letter-spacing="0.2">L<tspan font-size="7.5" dy="6">Fe</tspan><tspan dy="-6">= 30 nm</tspan></text><line x1="625" y1="150.7" x2="651" y2="150.7" stroke="#e8141b" stroke-width="2.2"/><circle cx="638" cy="150.7" r="1.9" fill="#fff" stroke="#ee2a2a" stroke-width="0.8"/><line x1="625" y1="162.9" x2="651" y2="162.9" stroke="#000" stroke-width="2.2"/><path d="M636.2,164.1L639.8,164.1L638.0,161.1Z" fill="#fff" stroke="#333" stroke-width="0.6"/><text x="653.3" y="153.5" font-size="11" fill="#2a2a2a">parallel</text><text x="653.3" y="166.0" font-size="11" fill="#2a2a2a">perpendicular</text><text x="40.5" y="20.4" font-size="10.5" font-weight="bold" fill="#111" text-anchor="end">1.0</text><text x="40.5" y="58.5" font-size="10.5" font-weight="bold" fill="#111" text-anchor="end">0.5</text><text x="40.5" y="96.6" font-size="10.5" font-weight="bold" fill="#111" text-anchor="end">0.0</text><text x="40.5" y="134.7" font-size="10.5" font-weight="bold" fill="#111" text-anchor="end">-0.5</text><text x="40.5" y="172.8" font-size="10.5" font-weight="bold" fill="#111" text-anchor="end">-1.0</text><g transform="translate(19.2,108.7) rotate(-90)"><text x="0" y="0" font-size="13.5" font-weight="bold" fill="#111">M/M<tspan font-size="7.8" dy="5.5">Sat</tspan></text></g><clipPath id="clipd"><rect x="41" y="218" width="221" height="221"/></clipPath><g clip-path="url(#clipd)"><rect x="41" y="218" width="221" height="221" fill="#0066ff"/><path d="M222.5,402.3L221.5,402.4L220.8,402.0L220.2,401.5L219.7,401.0L219.2,400.5L218.8,400.0L218.4,399.5L218.0,398.9L217.5,398.2L217.1,397.5L216.8,397.0L216.5,396.5L216.0,395.7L215.6,395.0L215.3,394.5L215.0,393.9L214.5,393.0L214.3,392.5L214.0,391.9L213.5,391.0L213.3,390.5L213.0,389.9L212.6,389.0L212.4,388.5L212.0,387.7L211.7,387.0L211.5,386.5L211.1,385.5L210.8,385.0L210.5,384.2L210.2,383.5L210.0,382.9L209.6,382.0L209.4,381.5L209.0,380.5L208.9,380.0L208.5,379.0L208.3,378.5L208.0,377.6L207.8,377.0L207.5,376.2L207.2,375.5L207.0,374.7L206.8,374.0L206.5,373.2L206.3,372.5L206.0,371.6L205.8,371.0L205.5,370.0L205.4,369.5L205.1,368.5L205.0,368.0L204.7,367.0L204.5,366.3L204.3,365.5L204.1,364.5L203.9,364.0L203.7,363.0L203.5,362.0L203.4,361.5L203.0,360.8L202.5,361.5L202.2,362.0L201.8,362.5L201.5,363.0L201.0,363.6L200.5,364.3L200.0,365.0L199.6,365.5L199.3,366.0L198.9,366.5L198.5,367.0L198.0,367.6L197.5,368.3L197.0,368.9L196.5,369.5L196.1,370.0L195.7,370.5L195.3,371.0L194.9,371.5L194.5,372.0L194.0,372.5L193.5,373.1L193.0,373.7L192.5,374.3L192.0,374.8L191.5,375.4L191.0,375.9L190.5,376.5L190.0,377.0L189.6,377.5L189.1,378.0L188.6,378.5L188.1,379.0L187.6,379.5L187.2,380.0L186.7,380.5L186.2,381.0L185.7,381.5L185.1,382.0L184.6,382.5L184.1,383.0L183.6,383.5L183.0,384.0L182.5,384.5L182.0,384.9L181.5,385.4L181.0,385.8L180.5,386.3L180.0,386.7L179.5,387.2L179.0,387.6L178.5,388.0L177.9,388.5L177.3,389.0L176.7,389.5L176.1,390.0L175.5,390.4L175.0,390.8L174.5,391.2L174.0,391.6L173.4,392.0L172.8,392.5L172.1,393.0L171.5,393.4L171.0,393.7L170.5,394.1L169.9,394.5L169.1,395.0L168.5,395.4L168.0,395.7L167.5,396.0L166.7,396.5L166.0,396.9L165.5,397.2L164.9,397.5L164.0,398.0L163.5,398.2L162.9,398.5L162.0,398.9L161.5,399.2L160.7,399.5L160.0,399.8L159.4,400.0L158.5,400.3L157.9,400.5L157.0,400.8L156.0,401.0L155.5,401.1L154.5,401.3L153.5,401.4L152.5,401.4L151.5,401.4L150.5,401.2L149.7,401.0L149.0,400.8L148.4,400.5L147.6,400.0L147.0,399.5L146.5,399.0L146.1,398.5L145.8,398.0L145.5,397.4L145.1,396.5L145.0,396.0L144.8,395.0L144.6,394.0L144.5,393.0L144.5,392.0L144.6,391.0L144.7,390.0L144.8,389.0L144.9,388.0L145.0,387.5L145.2,386.5L145.5,385.5L145.6,385.0L145.9,384.0L146.1,383.5L146.4,382.5L146.6,382.0L146.9,381.0L147.1,380.5L147.5,379.6L147.7,379.0L148.0,378.4L148.4,377.5L148.7,377.0L149.0,376.3L149.4,375.5L149.6,375.0L150.0,374.3L150.5,373.5L150.7,373.0L151.0,372.5L151.5,371.7L151.9,371.0L152.2,370.5L152.5,370.0L153.0,369.2L153.4,368.5L153.7,368.0L154.1,367.5L154.5,366.8L155.0,366.1L155.4,365.5L155.7,365.0L156.0,364.5L156.5,363.8L157.0,363.1L157.4,362.5L157.8,362.0L158.1,361.5L158.5,361.0L159.0,360.3L159.5,359.6L160.0,359.0L160.3,358.5L160.7,358.0L161.1,357.5L161.5,357.0L162.0,356.3L162.5,355.7L163.0,355.1L163.5,354.5L163.9,354.0L164.3,353.5L164.7,353.0L165.1,352.5L165.5,352.0L166.0,351.5L166.5,350.9L167.0,350.3L167.5,349.7L168.0,349.2L168.5,348.6L169.0,348.1L169.5,347.5L170.0,347.0L170.4,346.5L170.9,346.0L171.4,345.5L171.9,345.0L172.4,344.5L172.8,344.0L173.3,343.5L173.8,343.0L174.4,342.5L174.9,342.0L175.4,341.5L175.9,341.0L176.4,340.5L177.0,340.0L177.5,339.5L178.0,339.1L178.5,338.6L179.0,338.2L179.5,337.7L180.0,337.3L180.5,336.8L181.0,336.4L181.5,336.0L182.1,335.5L182.7,335.0L183.3,334.5L184.0,334.0L184.5,333.6L185.0,333.2L185.5,332.8L186.0,332.4L186.6,332.0L187.3,331.5L188.0,331.0L188.5,330.6L189.0,330.3L189.5,330.0L190.2,329.5L191.0,329.0L191.5,328.6L192.0,328.3L192.6,328.0L193.4,327.5L194.0,327.2L194.5,326.9L195.2,326.5L196.0,326.1L196.5,325.8L197.2,325.5L198.0,325.1L198.5,324.9L199.4,324.5L200.0,324.3L200.8,324.0L201.5,323.7L202.3,323.5L203.0,323.3L204.0,323.0L204.5,322.9L205.5,322.8L206.5,322.7L207.5,322.6L208.5,322.7L209.5,322.8L210.2,323.0L211.0,323.3L211.5,323.5L212.3,324.0L212.9,324.5L213.4,325.0L213.8,325.5L214.1,326.0L214.5,326.9L214.7,327.5L215.0,328.5L215.1,329.0L215.2,330.0L215.3,331.0L215.3,332.0L215.2,333.0L215.1,334.0L215.0,334.7L214.9,335.5L214.7,336.5L214.5,337.2L214.3,338.0L214.0,339.0L213.9,339.5L213.6,340.5L213.4,341.0L213.0,342.0L212.9,342.5L212.5,343.4L212.5,343.5L213.0,343.4L214.0,343.2L215.0,343.3L215.6,343.5L216.3,344.0L216.6,344.5L216.9,345.5L217.0,346.5L216.8,347.5L216.6,348.5L216.4,349.0L216.0,350.0L215.8,350.5L215.5,351.0L215.0,351.9L214.6,352.5L214.3,353.0L214.0,353.5L213.5,354.1L213.0,354.7L212.5,355.3L212.0,355.9L211.5,356.4L211.0,356.9L210.5,357.3L210.0,357.8L210.0,358.3L210.4,359.0L210.7,359.5L211.0,360.1L211.5,361.0L211.7,361.5L212.0,362.1L212.5,363.0L212.7,363.5L213.0,364.1L213.4,365.0L213.6,365.5L214.0,366.3L214.3,367.0L214.5,367.5L214.9,368.5L215.2,369.0L215.5,369.8L215.8,370.5L216.0,371.1L216.4,372.0L216.6,372.5L217.0,373.5L217.1,374.0L217.5,375.0L217.7,375.5L218.0,376.4L218.2,377.0L218.5,377.8L218.8,378.5L219.0,379.3L219.2,380.0L219.5,380.8L219.7,381.5L220.0,382.4L220.2,383.0L220.5,384.0L220.6,384.5L220.9,385.5L221.0,386.0L221.3,387.0L221.5,387.7L221.7,388.5L221.9,389.5L222.1,390.0L222.3,391.0L222.5,392.0L222.6,392.5L222.8,393.5L222.9,394.5L223.0,395.0L223.1,396.0L223.2,397.0L223.3,398.0L223.3,399.0L223.3,400.0L223.2,401.0L223.0,401.6L222.5,402.3Z" fill="#0084ff"/><path d="M155.0,399.0L154.0,399.0L153.2,399.0L152.5,398.9L151.5,398.7L150.9,398.5L150.0,398.0L149.5,397.7L149.0,397.3L148.5,396.8L148.0,396.1L147.6,395.5L147.4,395.0L147.0,394.0L146.9,393.5L146.7,392.5L146.6,391.5L146.6,390.5L146.6,389.5L146.7,388.5L146.8,387.5L146.9,386.5L147.0,386.0L147.2,385.0L147.5,384.0L147.6,383.5L147.9,382.5L148.1,382.0L148.4,381.0L148.6,380.5L149.0,379.5L149.2,379.0L149.5,378.3L149.9,377.5L150.1,377.0L150.5,376.1L150.8,375.5L151.1,375.0L151.5,374.2L151.8,373.5L152.1,373.0L152.5,372.3L153.0,371.5L153.3,371.0L153.6,370.5L154.0,369.8L154.5,369.0L154.8,368.5L155.1,368.0L155.5,367.4L156.0,366.6L156.4,366.0L156.7,365.5L157.1,365.0L157.5,364.4L158.0,363.6L158.4,363.0L158.8,362.5L159.1,362.0L159.5,361.5L160.0,360.8L160.5,360.1L161.0,359.5L161.3,359.0L161.7,358.5L162.1,358.0L162.5,357.5L163.0,356.8L163.5,356.2L164.0,355.6L164.5,355.0L164.9,354.5L165.3,354.0L165.7,353.5L166.1,353.0L166.5,352.5L167.0,351.9L167.5,351.4L168.0,350.8L168.5,350.2L169.0,349.7L169.5,349.1L170.0,348.6L170.5,348.0L171.0,347.5L171.5,347.0L171.9,346.5L172.4,346.0L172.9,345.5L173.4,345.0L173.9,344.5L174.4,344.0L174.9,343.5L175.4,343.0L175.9,342.5L176.5,342.0L177.0,341.5L177.5,341.0L178.0,340.6L178.5,340.1L179.0,339.7L179.5,339.2L180.0,338.8L180.5,338.4L181.0,337.9L181.5,337.5L182.1,337.0L182.7,336.5L183.4,336.0L184.0,335.5L184.5,335.1L185.0,334.7L185.5,334.3L186.0,334.0L186.6,333.5L187.3,333.0L188.0,332.5L188.5,332.2L189.0,331.9L189.5,331.5L190.3,331.0L191.0,330.6L191.5,330.2L192.0,329.9L192.8,329.5L193.5,329.1L194.0,328.8L194.6,328.5L195.5,328.0L196.0,327.8L196.6,327.5L197.5,327.1L198.0,326.9L198.9,326.5L199.5,326.3L200.3,326.0L201.0,325.8L202.0,325.5L202.5,325.4L203.5,325.2L204.5,325.1L205.3,325.0L206.0,325.0L206.5,325.0L207.5,325.1L208.5,325.3L209.0,325.5L210.0,326.0L210.5,326.4L211.0,326.8L211.5,327.4L211.9,328.0L212.2,328.5L212.5,329.2L212.8,330.0L213.0,331.0L213.0,331.5L213.1,332.5L213.1,333.5L213.1,334.5L213.0,335.4L212.9,336.0L212.8,337.0L212.6,338.0L212.4,338.5L212.2,339.5L212.0,340.2L211.8,341.0L211.5,341.8L211.3,342.5L211.0,343.3L210.7,344.0L210.5,344.6L210.1,345.5L209.9,346.0L210.0,346.5L210.5,346.3L211.1,346.0L212.0,345.7L213.0,345.6L214.0,345.8L214.5,346.3L214.8,347.0L214.8,348.0L214.7,349.0L214.5,349.6L214.2,350.5L213.9,351.0L213.5,351.8L213.1,352.5L212.7,353.0L212.3,353.5L211.9,354.0L211.5,354.5L211.0,355.0L210.5,355.5L210.0,356.0L209.4,356.5L208.7,357.0L208.0,357.5L207.5,357.9L207.5,358.1L208.0,358.7L208.5,359.3L209.0,359.9L209.4,360.5L209.7,361.0L210.0,361.5L210.5,362.3L210.9,363.0L211.2,363.5L211.5,364.1L212.0,365.0L212.2,365.5L212.5,366.1L213.0,367.0L213.2,367.5L213.5,368.2L213.9,369.0L214.1,369.5L214.5,370.5L214.7,371.0L215.0,371.7L215.3,372.5L215.5,373.0L215.9,374.0L216.1,374.5L216.5,375.5L216.7,376.0L217.0,376.9L217.2,377.5L217.5,378.4L217.7,379.0L218.0,379.9L218.2,380.5L218.5,381.5L218.6,382.0L218.9,383.0L219.1,383.5L219.3,384.5L219.5,385.1L219.7,386.0L220.0,387.0L220.1,387.5L220.3,388.5L220.5,389.5L220.6,390.0L220.7,391.0L220.8,392.0L220.9,393.0L221.0,394.0L220.9,395.0L220.6,396.0L220.2,396.5L219.5,396.5L219.0,396.3L218.5,395.9L218.0,395.3L217.5,394.7L217.0,394.1L216.6,393.5L216.3,393.0L216.0,392.5L215.5,391.7L215.1,391.0L214.8,390.5L214.5,389.9L214.0,389.0L213.8,388.5L213.5,387.9L213.0,387.0L212.8,386.5L212.5,385.8L212.1,385.0L211.9,384.5L211.5,383.5L211.3,383.0L211.0,382.3L210.7,381.5L210.5,381.0L210.1,380.0L209.9,379.5L209.5,378.5L209.3,378.0L209.0,377.1L208.8,376.5L208.5,375.6L208.3,375.0L208.0,374.1L207.8,373.5L207.5,372.5L207.4,372.0L207.1,371.0L206.9,370.5L206.7,369.5L206.5,368.9L206.3,368.0L206.0,367.0L205.9,366.5L205.7,365.5L205.5,364.5L205.4,364.0L205.3,363.0L205.2,362.0L205.1,361.0L205.0,360.0L205.1,359.0L205.0,358.4L204.0,358.2L203.5,358.0L203.2,358.5L202.8,359.0L202.5,359.5L202.0,360.3L201.5,361.0L201.2,361.5L200.8,362.0L200.5,362.5L200.0,363.1L199.5,363.8L199.0,364.5L198.6,365.0L198.3,365.5L197.9,366.0L197.5,366.5L197.0,367.2L196.5,367.8L196.0,368.4L195.5,369.0L195.1,369.5L194.7,370.0L194.3,370.5L193.9,371.0L193.5,371.5L193.0,372.1L192.5,372.6L192.0,373.2L191.5,373.8L191.0,374.3L190.5,374.9L190.0,375.4L189.5,376.0L189.0,376.5L188.5,377.0L188.1,377.5L187.6,378.0L187.1,378.5L186.6,379.0L186.1,379.5L185.6,380.0L185.1,380.5L184.6,381.0L184.1,381.5L183.5,382.0L183.0,382.5L182.5,383.0L182.0,383.4L181.5,383.9L181.0,384.3L180.5,384.8L180.0,385.2L179.5,385.6L179.0,386.1L178.5,386.5L177.9,387.0L177.3,387.5L176.7,388.0L176.0,388.5L175.5,388.9L175.0,389.3L174.5,389.7L174.0,390.1L173.4,390.5L172.7,391.0L172.0,391.5L171.5,391.8L171.0,392.2L170.5,392.5L169.8,393.0L169.0,393.5L168.5,393.8L168.0,394.1L167.3,394.5L166.5,395.0L166.0,395.2L165.5,395.5L164.5,396.0L164.0,396.3L163.5,396.5L162.5,397.0L162.0,397.2L161.2,397.5L160.5,397.8L159.8,398.0L159.0,398.3L158.1,398.5L157.5,398.6L156.5,398.8L155.5,399.0L155.0,399.0Z" fill="#00a4ff"/><path d="M158.0,397.0L157.0,397.2L156.0,397.3L155.0,397.3L154.0,397.2L153.0,397.0L152.5,396.9L151.6,396.5L151.0,396.1L150.5,395.7L150.0,395.3L149.5,394.6L149.1,394.0L148.9,393.5L148.5,392.5L148.4,392.0L148.2,391.0L148.1,390.0L148.0,389.0L148.1,388.0L148.1,387.0L148.3,386.0L148.5,385.0L148.6,384.5L148.8,383.5L149.0,382.7L149.2,382.0L149.5,381.1L149.7,380.5L150.0,379.7L150.3,379.0L150.5,378.4L150.9,377.5L151.1,377.0L151.5,376.2L151.8,375.5L152.1,375.0L152.5,374.2L152.9,373.5L153.1,373.0L153.5,372.3L154.0,371.5L154.3,371.0L154.6,370.5L155.0,369.8L155.5,369.0L155.8,368.5L156.1,368.0L156.5,367.4L157.0,366.6L157.4,366.0L157.7,365.5L158.1,365.0L158.5,364.4L159.0,363.7L159.5,363.0L159.8,362.5L160.2,362.0L160.5,361.5L161.0,360.8L161.5,360.2L162.0,359.5L162.4,359.0L162.7,358.5L163.1,358.0L163.5,357.5L164.0,356.9L164.5,356.2L165.0,355.6L165.5,355.0L165.9,354.5L166.3,354.0L166.7,353.5L167.2,353.0L167.6,352.5L168.0,352.0L168.5,351.4L169.0,350.9L169.5,350.3L170.0,349.8L170.5,349.2L171.0,348.7L171.5,348.1L172.0,347.6L172.5,347.1L173.0,346.6L173.5,346.1L174.0,345.5L174.5,345.0L175.0,344.6L175.5,344.1L176.0,343.6L176.5,343.1L177.0,342.6L177.5,342.2L178.0,341.7L178.5,341.3L179.0,340.8L179.5,340.4L180.0,339.9L180.5,339.5L181.1,339.0L181.7,338.5L182.3,338.0L182.9,337.5L183.5,337.0L184.0,336.6L184.5,336.2L185.0,335.9L185.5,335.5L186.2,335.0L186.9,334.5L187.5,334.0L188.0,333.7L188.5,333.4L189.0,333.0L189.8,332.5L190.5,332.1L191.0,331.8L191.5,331.5L192.3,331.0L193.0,330.6L193.5,330.3L194.1,330.0L195.0,329.5L195.5,329.3L196.1,329.0L197.0,328.6L197.5,328.4L198.5,328.0L199.0,327.8L200.0,327.5L200.5,327.4L201.5,327.1L202.0,327.0L203.0,326.8L204.0,326.7L205.0,326.7L206.0,326.8L207.0,327.0L207.5,327.2L208.3,327.5L209.0,328.0L209.5,328.4L210.0,329.0L210.4,329.5L210.6,330.0L211.0,330.8L211.2,331.5L211.4,332.5L211.5,333.4L211.5,334.0L211.5,335.0L211.5,335.6L211.4,336.5L211.3,337.5L211.1,338.5L211.0,339.0L210.8,340.0L210.5,341.0L210.4,341.5L210.1,342.5L209.9,343.0L209.5,344.0L209.4,344.5L209.0,345.4L208.8,346.0L208.5,346.7L208.1,347.5L207.9,348.0L207.5,348.9L207.2,349.5L207.0,350.0L206.5,350.9L206.2,351.5L205.9,352.0L205.5,352.8L205.1,353.5L204.8,354.0L204.5,354.6L204.0,355.5L203.7,356.0L203.4,356.5L203.0,357.1L202.5,357.9L202.1,358.5L201.8,359.0L201.5,359.5L201.0,360.2L200.5,361.0L200.1,361.5L199.8,362.0L199.4,362.5L199.0,363.1L198.5,363.8L198.0,364.5L197.6,365.0L197.2,365.5L196.9,366.0L196.5,366.5L196.0,367.1L195.5,367.8L195.0,368.4L194.5,369.0L194.1,369.5L193.7,370.0L193.3,370.5L192.8,371.0L192.4,371.5L192.0,372.0L191.5,372.6L191.0,373.1L190.5,373.7L190.0,374.2L189.5,374.8L189.0,375.3L188.5,375.9L188.0,376.4L187.5,376.9L187.0,377.4L186.5,377.9L186.0,378.5L185.5,379.0L185.0,379.4L184.5,379.9L184.0,380.4L183.5,380.9L183.0,381.4L182.5,381.8L182.0,382.3L181.5,382.7L181.0,383.2L180.5,383.6L180.0,384.1L179.5,384.5L178.9,385.0L178.3,385.5L177.7,386.0L177.1,386.5L176.5,387.0L176.0,387.4L175.5,387.8L175.0,388.1L174.5,388.5L173.9,389.0L173.2,389.5L172.5,390.0L172.0,390.3L171.5,390.7L171.0,391.0L170.2,391.5L169.5,392.0L169.0,392.3L168.5,392.6L167.8,393.0L167.0,393.5L166.5,393.7L166.0,394.0L165.0,394.5L164.5,394.8L164.0,395.0L163.0,395.4L162.5,395.6L161.6,396.0L161.0,396.2L160.1,396.5L159.5,396.7L158.5,396.9L158.0,397.0Z" fill="#00c0ff"/><path d="M159.0,395.5L158.0,395.7L157.0,395.8L156.0,395.8L155.0,395.7L154.0,395.5L153.5,395.3L152.7,395.0L152.0,394.6L151.5,394.1L151.0,393.6L150.6,393.0L150.3,392.5L150.0,391.9L149.7,391.0L149.5,390.2L149.4,389.5L149.3,388.5L149.3,387.5L149.3,386.5L149.4,385.5L149.5,385.0L149.7,384.0L149.9,383.0L150.0,382.5L150.3,381.5L150.5,380.9L150.8,380.0L151.0,379.4L151.4,378.5L151.6,378.0L152.0,377.0L152.2,376.5L152.5,375.9L152.9,375.0L153.2,374.5L153.5,373.9L154.0,373.0L154.3,372.5L154.6,372.0L155.0,371.2L155.4,370.5L155.7,370.0L156.1,369.5L156.5,368.8L157.0,368.0L157.3,367.5L157.6,367.0L158.0,366.5L158.5,365.7L159.0,365.0L159.3,364.5L159.7,364.0L160.0,363.5L160.5,362.8L161.0,362.1L161.4,361.5L161.8,361.0L162.2,360.5L162.5,360.0L163.0,359.4L163.5,358.7L164.0,358.1L164.4,357.5L164.8,357.0L165.2,356.5L165.6,356.0L166.0,355.5L166.5,354.9L167.0,354.3L167.5,353.7L168.0,353.1L168.5,352.5L169.0,352.0L169.4,351.5L169.9,351.0L170.3,350.5L170.8,350.0L171.2,349.5L171.7,349.0L172.2,348.5L172.6,348.0L173.1,347.5L173.6,347.0L174.1,346.5L174.6,346.0L175.1,345.5L175.6,345.0L176.1,344.5L176.6,344.0L177.2,343.5L177.7,343.0L178.3,342.5L178.8,342.0L179.4,341.5L179.9,341.0L180.5,340.5L181.0,340.1L181.5,339.7L182.0,339.3L182.5,338.8L183.0,338.4L183.6,338.0L184.2,337.5L184.9,337.0L185.5,336.5L186.0,336.1L186.5,335.8L187.0,335.4L187.6,335.0L188.3,334.5L189.0,334.1L189.5,333.7L190.0,333.4L190.7,333.0L191.5,332.5L192.0,332.2L192.5,331.9L193.3,331.5L194.0,331.1L194.5,330.9L195.3,330.5L196.0,330.2L196.5,330.0L197.5,329.5L198.0,329.4L199.0,329.0L199.5,328.9L200.5,328.6L201.0,328.5L202.0,328.3L203.0,328.2L204.0,328.2L205.0,328.3L206.0,328.5L206.5,328.6L207.2,329.0L207.9,329.5L208.5,330.0L208.9,330.5L209.2,331.0L209.5,331.7L209.8,332.5L210.0,333.5L210.1,334.0L210.1,335.0L210.1,336.0L210.1,337.0L210.0,337.8L209.9,338.5L209.7,339.5L209.5,340.5L209.4,341.0L209.1,342.0L209.0,342.5L208.6,343.5L208.5,344.0L208.1,345.0L207.9,345.5L207.5,346.5L207.3,347.0L207.0,347.8L206.7,348.5L206.5,349.0L206.0,350.0L205.7,350.5L205.5,351.0L205.0,352.0L204.7,352.5L204.4,353.0L204.0,353.8L203.6,354.5L203.3,355.0L203.0,355.6L202.5,356.4L202.1,357.0L201.8,357.5L201.5,358.0L201.0,358.8L200.6,359.5L200.2,360.0L199.9,360.5L199.5,361.1L199.0,361.8L198.5,362.5L198.2,363.0L197.8,363.5L197.4,364.0L197.0,364.6L196.5,365.3L196.0,365.9L195.6,366.5L195.2,367.0L194.8,367.5L194.4,368.0L194.0,368.5L193.5,369.1L193.0,369.7L192.5,370.3L192.0,370.9L191.5,371.5L191.0,372.0L190.6,372.5L190.1,373.0L189.7,373.5L189.2,374.0L188.8,374.5L188.3,375.0L187.8,375.5L187.4,376.0L186.9,376.5L186.4,377.0L185.9,377.5L185.4,378.0L184.9,378.5L184.4,379.0L183.9,379.5L183.4,380.0L182.8,380.5L182.3,381.0L181.7,381.5L181.2,382.0L180.6,382.5L180.1,383.0L179.5,383.5L179.0,383.9L178.5,384.3L178.0,384.7L177.5,385.2L177.0,385.6L176.4,386.0L175.8,386.5L175.2,387.0L174.5,387.5L174.0,387.9L173.5,388.2L173.0,388.6L172.4,389.0L171.7,389.5L171.0,390.0L170.5,390.3L170.0,390.6L169.4,391.0L168.5,391.5L168.0,391.8L167.5,392.1L166.8,392.5L166.0,392.9L165.5,393.2L164.8,393.5L164.0,393.9L163.5,394.1L162.5,394.5L162.0,394.7L161.0,395.0L160.5,395.1L159.5,395.4L159.0,395.5Z" fill="#00e0fa"/><path d="M160.0,394.1L159.0,394.2L158.0,394.4L157.0,394.4L156.0,394.3L155.0,394.1L154.5,394.0L153.5,393.5L153.0,393.2L152.5,392.7L152.0,392.2L151.5,391.5L151.2,391.0L151.0,390.4L150.7,389.5L150.5,388.5L150.5,388.0L150.4,387.0L150.4,386.0L150.5,385.0L150.6,384.5L150.7,383.5L150.9,382.5L151.1,382.0L151.3,381.0L151.5,380.5L151.8,379.5L152.0,379.0L152.4,378.0L152.6,377.5L153.0,376.6L153.3,376.0L153.5,375.5L154.0,374.5L154.3,374.0L154.5,373.5L155.0,372.7L155.4,372.0L155.7,371.5L156.0,371.0L156.5,370.1L156.9,369.5L157.2,369.0L157.5,368.5L158.0,367.8L158.5,367.0L158.8,366.5L159.2,366.0L159.5,365.5L160.0,364.8L160.5,364.1L160.9,363.5L161.2,363.0L161.6,362.5L162.0,361.9L162.5,361.2L163.0,360.6L163.4,360.0L163.8,359.5L164.2,359.0L164.6,358.5L165.0,357.9L165.5,357.3L166.0,356.7L166.5,356.0L166.9,355.5L167.3,355.0L167.8,354.5L168.2,354.0L168.6,353.5L169.0,353.0L169.5,352.5L170.0,351.9L170.5,351.3L171.0,350.8L171.5,350.2L172.0,349.7L172.5,349.2L173.0,348.6L173.5,348.1L174.0,347.6L174.5,347.1L175.0,346.6L175.5,346.1L176.0,345.6L176.5,345.1L177.0,344.7L177.5,344.2L178.0,343.7L178.5,343.3L179.0,342.8L179.5,342.4L180.0,341.9L180.5,341.5L181.1,341.0L181.7,340.5L182.3,340.0L182.9,339.5L183.5,339.0L184.0,338.6L184.5,338.2L185.0,337.9L185.5,337.5L186.2,337.0L186.9,336.5L187.5,336.1L188.0,335.7L188.5,335.4L189.1,335.0L189.8,334.5L190.5,334.1L191.0,333.8L191.5,333.5L192.4,333.0L193.0,332.7L193.5,332.4L194.3,332.0L195.0,331.7L195.5,331.4L196.5,331.0L197.0,330.8L197.8,330.5L198.5,330.3L199.4,330.0L200.0,329.9L201.0,329.7L202.0,329.5L202.5,329.5L203.2,329.5L204.0,329.6L205.0,329.8L205.6,330.0L206.5,330.5L207.0,330.9L207.5,331.5L207.9,332.0L208.1,332.5L208.5,333.5L208.6,334.0L208.8,335.0L208.8,336.0L208.8,337.0L208.8,338.0L208.7,339.0L208.5,339.9L208.4,340.5L208.2,341.5L208.0,342.1L207.8,343.0L207.5,343.8L207.3,344.5L207.0,345.3L206.7,346.0L206.5,346.6L206.1,347.5L205.9,348.0L205.5,349.0L205.3,349.5L205.0,350.1L204.5,351.0L204.3,351.5L204.0,352.1L203.5,353.0L203.3,353.5L203.0,354.0L202.5,354.8L202.1,355.5L201.8,356.0L201.5,356.6L201.0,357.4L200.6,358.0L200.3,358.5L200.0,359.0L199.5,359.7L199.0,360.5L198.7,361.0L198.3,361.5L198.0,362.0L197.5,362.7L197.0,363.4L196.5,364.0L196.2,364.5L195.8,365.0L195.4,365.5L195.0,366.0L194.5,366.7L194.0,367.3L193.5,367.9L193.1,368.5L192.6,369.0L192.2,369.5L191.8,370.0L191.4,370.5L191.0,371.0L190.5,371.5L190.0,372.1L189.5,372.7L189.0,373.2L188.5,373.8L188.0,374.3L187.5,374.8L187.0,375.4L186.5,375.9L186.0,376.4L185.5,376.9L185.0,377.4L184.5,377.9L184.0,378.4L183.5,378.9L183.0,379.3L182.5,379.8L182.0,380.3L181.5,380.7L181.0,381.2L180.5,381.6L180.0,382.1L179.5,382.5L178.9,383.0L178.3,383.5L177.7,384.0L177.1,384.5L176.5,385.0L176.0,385.4L175.5,385.7L175.0,386.1L174.5,386.5L173.8,387.0L173.1,387.5L172.5,387.9L172.0,388.3L171.5,388.6L170.9,389.0L170.1,389.5L169.5,389.9L169.0,390.2L168.5,390.5L167.6,391.0L167.0,391.3L166.5,391.6L165.7,392.0L165.0,392.3L164.5,392.5L163.5,393.0L163.0,393.2L162.0,393.5L161.5,393.7L160.5,393.9L160.0,394.1Z" fill="#15ffe1"/><path d="M158.0,393.0L157.5,393.0L156.5,392.9L155.5,392.6L155.0,392.4L154.2,392.0L153.6,391.5L153.1,391.0L152.7,390.5L152.4,390.0L152.0,389.1L151.8,388.5L151.6,387.5L151.5,386.7L151.5,386.0L151.5,385.0L151.5,384.5L151.6,383.5L151.8,382.5L152.0,381.7L152.2,381.0L152.5,380.0L152.6,379.5L153.0,378.5L153.2,378.0L153.5,377.3L153.8,376.5L154.1,376.0L154.5,375.1L154.8,374.5L155.1,374.0L155.5,373.2L155.9,372.5L156.2,372.0L156.5,371.5L157.0,370.7L157.4,370.0L157.7,369.5L158.0,369.0L158.5,368.3L159.0,367.5L159.4,367.0L159.7,366.5L160.0,366.0L160.5,365.3L161.0,364.6L161.4,364.0L161.8,363.5L162.2,363.0L162.5,362.5L163.0,361.8L163.5,361.1L164.0,360.5L164.4,360.0L164.7,359.5L165.1,359.0L165.5,358.5L166.0,357.9L166.5,357.2L167.0,356.6L167.5,356.0L167.9,355.5L168.3,355.0L168.7,354.5L169.1,354.0L169.6,353.5L170.0,353.0L170.5,352.4L171.0,351.9L171.5,351.3L172.0,350.8L172.5,350.2L173.0,349.7L173.5,349.2L174.0,348.7L174.5,348.1L175.0,347.6L175.5,347.1L176.0,346.6L176.5,346.2L177.0,345.7L177.5,345.2L178.0,344.7L178.5,344.3L179.0,343.8L179.5,343.4L180.0,342.9L180.5,342.5L181.1,342.0L181.7,341.5L182.3,341.0L182.9,340.5L183.5,340.0L184.0,339.6L184.5,339.2L185.0,338.8L185.5,338.4L186.1,338.0L186.8,337.5L187.5,337.0L188.0,336.7L188.5,336.3L189.0,336.0L189.8,335.5L190.5,335.0L191.0,334.7L191.5,334.4L192.3,334.0L193.0,333.6L193.5,333.3L194.2,333.0L195.0,332.6L195.5,332.4L196.4,332.0L197.0,331.8L197.8,331.5L198.5,331.3L199.5,331.0L200.0,330.9L201.0,330.8L202.0,330.7L203.0,330.8L204.0,331.0L204.5,331.2L205.2,331.5L205.8,332.0L206.3,332.5L206.7,333.0L207.0,333.7L207.3,334.5L207.5,335.5L207.6,336.0L207.6,337.0L207.6,338.0L207.5,339.0L207.4,339.5L207.3,340.5L207.1,341.5L206.9,342.0L206.7,343.0L206.5,343.6L206.2,344.5L206.0,345.2L205.7,346.0L205.5,346.6L205.1,347.5L204.9,348.0L204.5,349.0L204.3,349.5L204.0,350.1L203.6,351.0L203.3,351.5L203.0,352.1L202.6,353.0L202.3,353.5L202.0,354.0L201.5,354.9L201.2,355.5L200.9,356.0L200.5,356.6L200.0,357.5L199.7,358.0L199.4,358.5L199.0,359.1L198.5,359.8L198.1,360.5L197.7,361.0L197.4,361.5L197.0,362.0L196.5,362.7L196.0,363.4L195.6,364.0L195.2,364.5L194.8,365.0L194.5,365.5L194.0,366.1L193.5,366.7L193.0,367.4L192.5,368.0L192.1,368.5L191.7,369.0L191.3,369.5L190.8,370.0L190.4,370.5L190.0,371.0L189.5,371.5L189.0,372.1L188.5,372.6L188.0,373.2L187.5,373.7L187.0,374.3L186.5,374.8L186.0,375.3L185.5,375.8L185.0,376.3L184.5,376.8L184.0,377.3L183.5,377.8L183.0,378.3L182.5,378.7L182.0,379.2L181.5,379.7L181.0,380.1L180.5,380.6L180.0,381.0L179.4,381.5L178.8,382.0L178.2,382.5L177.6,383.0L177.0,383.5L176.5,383.9L176.0,384.3L175.5,384.7L175.0,385.1L174.4,385.5L173.8,386.0L173.1,386.5L172.5,386.9L172.0,387.2L171.5,387.6L170.8,388.0L170.1,388.5L169.5,388.8L169.0,389.1L168.4,389.5L167.5,390.0L167.0,390.3L166.5,390.5L165.5,391.0L165.0,391.2L164.4,391.5L163.5,391.8L163.0,392.0L162.0,392.3L161.5,392.5L160.5,392.7L159.5,392.9L158.5,393.0L158.0,393.0Z" fill="#2cffca"/><path d="M160.0,391.5L159.0,391.6L158.0,391.6L157.3,391.5L156.5,391.3L155.7,391.0L155.0,390.6L154.5,390.2L154.0,389.7L153.5,389.0L153.2,388.5L153.0,387.9L152.7,387.0L152.6,386.0L152.5,385.0L152.5,384.0L152.6,383.0L152.8,382.0L153.0,381.1L153.2,380.5L153.5,379.5L153.6,379.0L154.0,378.0L154.2,377.5L154.5,376.8L154.9,376.0L155.1,375.5L155.5,374.7L155.9,374.0L156.2,373.5L156.5,372.9L157.0,372.1L157.3,371.5L157.6,371.0L158.0,370.4L158.5,369.7L158.9,369.0L159.3,368.5L159.6,368.0L160.0,367.4L160.5,366.7L161.0,366.0L161.4,365.5L161.7,365.0L162.1,364.5L162.5,363.9L163.0,363.2L163.5,362.5L163.9,362.0L164.3,361.5L164.6,361.0L165.0,360.5L165.5,359.8L166.0,359.2L166.5,358.5L166.9,358.0L167.3,357.5L167.7,357.0L168.1,356.5L168.5,356.0L169.0,355.4L169.5,354.8L170.0,354.2L170.5,353.7L171.0,353.1L171.5,352.5L172.0,352.0L172.4,351.5L172.9,351.0L173.3,350.5L173.8,350.0L174.3,349.5L174.8,349.0L175.3,348.5L175.7,348.0L176.2,347.5L176.8,347.0L177.3,346.5L177.8,346.0L178.3,345.5L178.9,345.0L179.4,344.5L179.9,344.0L180.5,343.5L181.0,343.1L181.5,342.6L182.0,342.2L182.5,341.8L183.0,341.4L183.5,341.0L184.1,340.5L184.7,340.0L185.4,339.5L186.0,339.0L186.5,338.7L187.0,338.3L187.5,337.9L188.1,337.5L188.9,337.0L189.5,336.6L190.0,336.3L190.5,336.0L191.3,335.5L192.0,335.1L192.5,334.8L193.0,334.5L194.0,334.0L194.5,333.8L195.1,333.5L196.0,333.1L196.5,332.9L197.5,332.6L198.0,332.4L199.0,332.2L199.9,332.0L200.5,331.9L201.5,331.9L202.5,332.0L203.0,332.1L204.0,332.5L204.5,332.8L205.0,333.3L205.5,333.9L205.8,334.5L206.0,335.0L206.3,336.0L206.4,337.0L206.4,338.0L206.4,339.0L206.3,340.0L206.1,341.0L206.0,341.5L205.8,342.5L205.5,343.4L205.3,344.0L205.0,345.0L204.8,345.5L204.5,346.4L204.3,347.0L204.0,347.7L203.7,348.5L203.4,349.0L203.0,350.0L202.8,350.5L202.5,351.0L202.0,352.0L201.8,352.5L201.5,353.0L201.0,353.9L200.7,354.5L200.4,355.0L200.0,355.7L199.5,356.5L199.2,357.0L198.9,357.5L198.5,358.2L198.0,359.0L197.7,359.5L197.3,360.0L197.0,360.5L196.5,361.2L196.0,362.0L195.6,362.5L195.3,363.0L194.9,363.5L194.5,364.0L194.0,364.7L193.5,365.4L193.0,366.0L192.6,366.5L192.2,367.0L191.8,367.5L191.4,368.0L191.0,368.5L190.5,369.1L190.0,369.7L189.5,370.3L189.0,370.8L188.5,371.4L188.0,371.9L187.5,372.5L187.0,373.0L186.6,373.5L186.1,374.0L185.6,374.5L185.1,375.0L184.6,375.5L184.1,376.0L183.6,376.5L183.1,377.0L182.5,377.5L182.0,378.0L181.5,378.5L181.0,378.9L180.5,379.4L180.0,379.8L179.5,380.3L179.0,380.7L178.5,381.1L178.0,381.5L177.4,382.0L176.8,382.5L176.2,383.0L175.5,383.5L175.0,383.9L174.5,384.3L174.0,384.7L173.5,385.0L172.8,385.5L172.1,386.0L171.5,386.4L171.0,386.8L170.5,387.1L169.8,387.5L169.0,388.0L168.5,388.3L168.0,388.6L167.2,389.0L166.5,389.4L166.0,389.6L165.2,390.0L164.5,390.3L163.9,390.5L163.0,390.8L162.5,391.0L161.5,391.3L160.5,391.5L160.0,391.5Z" fill="#46ffb0"/><path d="M161.0,390.1L160.0,390.2L159.0,390.2L158.0,390.1L157.5,390.0L156.5,389.6L156.0,389.3L155.5,389.0L155.0,388.5L154.5,387.8L154.1,387.0L153.9,386.5L153.7,385.5L153.6,384.5L153.6,383.5L153.6,382.5L153.8,381.5L154.0,380.6L154.2,380.0L154.5,379.0L154.6,378.5L155.0,377.6L155.2,377.0L155.5,376.4L155.9,375.5L156.2,375.0L156.5,374.4L157.0,373.5L157.3,373.0L157.6,372.5L158.0,371.9L158.5,371.1L158.9,370.5L159.2,370.0L159.6,369.5L160.0,368.9L160.5,368.2L161.0,367.5L161.4,367.0L161.7,366.5L162.1,366.0L162.5,365.5L163.0,364.8L163.5,364.1L164.0,363.5L164.3,363.0L164.7,362.5L165.1,362.0L165.5,361.4L166.0,360.8L166.5,360.1L167.0,359.5L167.4,359.0L167.7,358.5L168.1,358.0L168.5,357.5L169.0,356.9L169.5,356.3L170.0,355.7L170.5,355.1L171.0,354.5L171.4,354.0L171.8,353.5L172.3,353.0L172.7,352.5L173.1,352.0L173.6,351.5L174.0,351.0L174.5,350.5L175.0,350.0L175.5,349.4L176.0,348.9L176.5,348.4L177.0,347.9L177.5,347.4L178.0,346.9L178.5,346.4L179.0,345.9L179.5,345.5L180.0,345.0L180.6,344.5L181.1,344.0L181.7,343.5L182.2,343.0L182.8,342.5L183.4,342.0L184.0,341.5L184.5,341.1L185.0,340.7L185.5,340.3L186.0,339.9L186.6,339.5L187.3,339.0L188.0,338.5L188.5,338.1L189.0,337.8L189.5,337.5L190.2,337.0L191.0,336.5L191.5,336.2L192.0,335.9L192.8,335.5L193.5,335.1L194.0,334.9L194.8,334.5L195.5,334.2L196.0,334.0L197.0,333.6L197.5,333.5L198.5,333.2L199.5,333.1L200.1,333.0L201.0,333.0L201.5,333.0L202.5,333.3L203.0,333.5L203.7,334.0L204.2,334.5L204.6,335.0L205.0,336.0L205.1,336.5L205.3,337.5L205.3,338.5L205.2,339.5L205.1,340.5L205.0,341.2L204.8,342.0L204.6,343.0L204.4,343.5L204.1,344.5L204.0,345.0L203.6,346.0L203.4,346.5L203.0,347.5L202.8,348.0L202.5,348.7L202.1,349.5L201.9,350.0L201.5,350.8L201.2,351.5L200.9,352.0L200.5,352.8L200.1,353.5L199.8,354.0L199.5,354.6L199.0,355.4L198.7,356.0L198.4,356.5L198.0,357.1L197.5,357.9L197.1,358.5L196.8,359.0L196.4,359.5L196.0,360.2L195.5,360.9L195.1,361.5L194.7,362.0L194.4,362.5L194.0,363.0L193.5,363.7L193.0,364.3L192.5,365.0L192.1,365.5L191.7,366.0L191.3,366.5L190.9,367.0L190.5,367.5L190.0,368.1L189.5,368.7L189.0,369.2L188.5,369.8L188.0,370.4L187.5,370.9L187.0,371.5L186.5,372.0L186.1,372.5L185.6,373.0L185.1,373.5L184.6,374.0L184.1,374.5L183.6,375.0L183.1,375.5L182.6,376.0L182.0,376.5L181.5,377.0L181.0,377.5L180.5,377.9L180.0,378.4L179.5,378.8L179.0,379.2L178.5,379.7L178.0,380.1L177.5,380.5L176.9,381.0L176.3,381.5L175.7,382.0L175.0,382.5L174.5,382.9L174.0,383.3L173.5,383.7L173.0,384.0L172.3,384.5L171.6,385.0L171.0,385.4L170.5,385.8L170.0,386.1L169.4,386.5L168.5,387.0L168.0,387.3L167.5,387.6L166.7,388.0L166.0,388.4L165.5,388.6L164.6,389.0L164.0,389.2L163.2,389.5L162.5,389.7L161.5,390.0L161.0,390.1Z" fill="#5fff96"/><path d="M161.5,388.6L160.5,388.7L159.5,388.7L158.5,388.6L158.0,388.5L157.0,388.1L156.5,387.7L156.0,387.3L155.5,386.6L155.2,386.0L155.0,385.5L154.7,384.5L154.6,383.5L154.6,382.5L154.8,381.5L154.9,380.5L155.1,380.0L155.4,379.0L155.5,378.5L155.9,377.5L156.1,377.0L156.5,376.2L156.8,375.5L157.1,375.0L157.5,374.3L158.0,373.5L158.3,373.0L158.6,372.5L159.0,371.9L159.5,371.2L160.0,370.5L160.3,370.0L160.7,369.5L161.1,369.0L161.5,368.5L162.0,367.8L162.5,367.2L163.0,366.6L163.4,366.0L163.8,365.5L164.2,365.0L164.6,364.5L165.0,364.0L165.5,363.3L166.0,362.6L166.5,362.0L166.9,361.5L167.2,361.0L167.6,360.5L168.0,360.0L168.5,359.3L169.0,358.6L169.5,358.0L169.8,357.5L170.2,357.0L170.6,356.5L171.0,356.0L171.5,355.4L172.0,354.8L172.5,354.2L173.0,353.6L173.5,353.0L173.9,352.5L174.3,352.0L174.8,351.5L175.2,351.0L175.7,350.5L176.1,350.0L176.6,349.5L177.1,349.0L177.5,348.5L178.0,348.0L178.5,347.5L179.0,347.0L179.5,346.5L180.0,346.0L180.6,345.5L181.1,345.0L181.6,344.5L182.2,344.0L182.8,343.5L183.3,343.0L183.9,342.5L184.5,342.0L185.0,341.6L185.5,341.2L186.0,340.8L186.5,340.4L187.1,340.0L187.7,339.5L188.4,339.0L189.0,338.6L189.5,338.3L190.0,337.9L190.7,337.5L191.5,337.0L192.0,336.7L192.5,336.4L193.4,336.0L194.0,335.7L194.5,335.4L195.5,335.0L196.0,334.8L197.0,334.5L197.5,334.4L198.5,334.2L199.5,334.0L200.5,334.1L201.5,334.3L202.1,334.5L202.8,335.0L203.3,335.5L203.6,336.0L204.0,337.0L204.1,337.5L204.2,338.5L204.2,339.5L204.1,340.5L204.0,341.3L203.9,342.0L203.6,343.0L203.5,343.5L203.2,344.5L203.0,345.0L202.6,346.0L202.4,346.5L202.0,347.5L201.8,348.0L201.5,348.6L201.1,349.5L200.8,350.0L200.5,350.7L200.1,351.5L199.8,352.0L199.5,352.5L199.0,353.4L198.6,354.0L198.3,354.5L198.0,355.1L197.5,355.9L197.1,356.5L196.8,357.0L196.4,357.5L196.0,358.2L195.5,358.9L195.1,359.5L194.7,360.0L194.3,360.5L194.0,361.0L193.5,361.6L193.0,362.3L192.5,363.0L192.1,363.5L191.7,364.0L191.3,364.5L190.9,365.0L190.4,365.5L190.0,366.0L189.5,366.6L189.0,367.2L188.5,367.8L188.0,368.3L187.5,368.9L187.0,369.4L186.5,370.0L186.0,370.5L185.5,371.0L185.0,371.5L184.5,372.0L184.0,372.5L183.5,373.0L183.0,373.5L182.5,374.0L182.0,374.4L181.5,374.9L181.0,375.4L180.5,375.8L180.0,376.3L179.5,376.7L179.0,377.2L178.5,377.6L178.0,378.1L177.5,378.5L176.9,379.0L176.3,379.5L175.7,380.0L175.2,380.5L174.6,381.0L174.0,381.5L173.5,381.9L173.0,382.3L172.5,382.7L172.0,383.0L171.4,383.5L170.7,384.0L170.0,384.5L169.5,384.9L169.0,385.2L168.5,385.5L167.7,386.0L167.0,386.4L166.5,386.7L165.9,387.0L165.0,387.4L164.5,387.7L163.6,388.0L163.0,388.2L162.0,388.5L161.5,388.6Z" fill="#76ff80"/><path d="M161.5,387.1L160.5,387.2L159.5,387.1L158.9,387.0L158.0,386.7L157.5,386.4L157.0,385.9L156.5,385.3L156.1,384.5L156.0,384.0L155.8,383.0L155.8,382.0L155.9,381.0L156.0,380.2L156.2,379.5L156.5,378.5L156.7,378.0L157.0,377.2L157.3,376.5L157.6,376.0L158.0,375.2L158.4,374.5L158.7,374.0L159.0,373.5L159.5,372.8L160.0,372.1L160.5,371.5L160.9,371.0L161.3,370.5L161.7,370.0L162.1,369.5L162.5,369.0L163.0,368.4L163.5,367.8L164.0,367.2L164.5,366.6L165.0,366.0L165.4,365.5L165.8,365.0L166.1,364.5L166.5,364.0L167.0,363.3L167.5,362.6L167.9,362.0L168.3,361.5L168.6,361.0L169.0,360.4L169.5,359.7L170.0,359.0L170.4,358.5L170.7,358.0L171.1,357.5L171.5,356.9L172.0,356.3L172.5,355.6L173.0,355.0L173.3,354.5L173.7,354.0L174.1,353.5L174.6,353.0L175.0,352.5L175.5,351.9L176.0,351.3L176.5,350.7L177.0,350.2L177.5,349.6L178.0,349.1L178.5,348.5L179.0,348.0L179.5,347.5L180.0,347.0L180.5,346.5L181.0,346.0L181.5,345.5L182.0,345.1L182.5,344.6L183.0,344.2L183.5,343.7L184.0,343.3L184.5,342.8L185.0,342.4L185.5,342.0L186.1,341.5L186.8,341.0L187.4,340.5L188.0,340.1L188.5,339.7L189.0,339.4L189.5,339.0L190.3,338.5L191.0,338.1L191.5,337.8L192.0,337.5L192.9,337.0L193.5,336.7L194.0,336.4L195.0,336.0L195.5,335.8L196.4,335.5L197.0,335.3L198.0,335.1L199.0,335.0L200.0,335.1L201.0,335.3L201.5,335.6L202.0,336.0L202.5,336.6L202.9,337.5L203.1,338.0L203.2,339.0L203.2,340.0L203.1,341.0L203.0,341.8L202.9,342.5L202.6,343.5L202.5,344.0L202.1,345.0L201.9,345.5L201.5,346.5L201.3,347.0L201.0,347.8L200.7,348.5L200.4,349.0L200.0,349.8L199.6,350.5L199.4,351.0L199.0,351.7L198.5,352.5L198.2,353.0L197.9,353.5L197.5,354.2L197.0,354.9L196.6,355.5L196.3,356.0L196.0,356.5L195.5,357.1L195.0,357.8L194.5,358.5L194.2,359.0L193.8,359.5L193.4,360.0L193.0,360.5L192.5,361.1L192.0,361.7L191.5,362.4L191.0,362.9L190.5,363.5L190.1,364.0L189.6,364.5L189.2,365.0L188.7,365.5L188.3,366.0L187.8,366.5L187.3,367.0L186.8,367.5L186.3,368.0L185.8,368.5L185.3,369.0L184.8,369.5L184.3,370.0L183.7,370.5L183.2,371.0L182.6,371.5L182.1,372.0L181.5,372.5L181.0,372.9L180.5,373.4L180.0,373.8L179.5,374.2L179.0,374.6L178.5,375.0L178.0,375.5L177.4,376.0L176.8,376.5L176.2,377.0L175.6,377.5L175.1,378.0L174.5,378.5L174.0,379.0L173.5,379.4L173.0,379.9L172.5,380.4L172.0,380.8L171.5,381.3L171.0,381.7L170.5,382.1L170.0,382.6L169.5,383.0L168.8,383.5L168.1,384.0L167.5,384.4L167.0,384.8L166.5,385.1L165.8,385.5L165.0,385.9L164.5,386.1L163.6,386.5L163.0,386.7L162.0,387.0L161.5,387.1Z" fill="#90ff66"/><path d="M161.0,385.5L160.4,385.5L159.5,385.3L158.7,385.0L158.1,384.5L157.7,384.0L157.4,383.5L157.1,382.5L157.0,381.5L157.1,380.5L157.3,379.5L157.5,378.7L157.7,378.0L158.0,377.4L158.4,376.5L158.7,376.0L159.0,375.4L159.5,374.6L159.9,374.0L160.3,373.5L160.7,373.0L161.1,372.5L161.5,372.0L162.0,371.4L162.5,370.9L163.0,370.3L163.5,369.7L164.0,369.2L164.5,368.6L165.0,368.0L165.4,367.5L165.7,367.0L166.1,366.5L166.5,365.9L167.0,365.2L167.5,364.5L167.8,364.0L168.1,363.5L168.5,362.9L169.0,362.1L169.4,361.5L169.7,361.0L170.1,360.5L170.5,359.8L171.0,359.1L171.4,358.5L171.7,358.0L172.1,357.5L172.5,356.9L173.0,356.2L173.5,355.5L173.9,355.0L174.3,354.5L174.7,354.0L175.1,353.5L175.5,353.0L176.0,352.3L176.5,351.7L177.0,351.2L177.5,350.6L178.0,350.0L178.5,349.5L178.9,349.0L179.4,348.5L179.9,348.0L180.4,347.5L180.9,347.0L181.4,346.5L181.9,346.0L182.4,345.5L182.9,345.0L183.5,344.5L184.0,344.0L184.5,343.6L185.0,343.2L185.5,342.7L186.0,342.3L186.5,341.9L187.1,341.5L187.7,341.0L188.4,340.5L189.0,340.1L189.5,339.7L190.0,339.4L190.6,339.0L191.5,338.5L192.0,338.2L192.5,337.9L193.3,337.5L194.0,337.2L194.5,337.0L195.5,336.6L196.0,336.4L197.0,336.2L198.0,336.0L198.5,336.0L199.0,336.0L200.0,336.2L200.6,336.5L201.3,337.0L201.7,337.5L202.0,338.2L202.2,339.0L202.3,340.0L202.3,341.0L202.1,342.0L202.0,342.6L201.8,343.5L201.5,344.5L201.3,345.0L201.0,345.9L200.8,346.5L200.5,347.1L200.1,348.0L199.9,348.5L199.5,349.2L199.1,350.0L198.8,350.5L198.5,351.1L198.0,351.9L197.7,352.5L197.4,353.0L197.0,353.6L196.5,354.3L196.1,355.0L195.7,355.5L195.4,356.0L195.0,356.5L194.5,357.2L194.0,357.9L193.5,358.5L193.1,359.0L192.7,359.5L192.3,360.0L191.9,360.5L191.5,361.0L191.0,361.6L190.5,362.2L190.0,362.7L189.5,363.3L189.0,363.8L188.5,364.4L188.0,364.9L187.5,365.4L187.0,365.9L186.5,366.4L186.0,366.9L185.5,367.4L185.0,367.8L184.5,368.3L184.0,368.8L183.5,369.2L183.0,369.6L182.5,370.1L182.0,370.5L181.4,371.0L180.8,371.5L180.1,372.0L179.5,372.5L179.0,372.9L178.5,373.3L178.0,373.6L177.5,374.0L176.9,374.5L176.2,375.0L175.5,375.5L175.0,375.9L174.5,376.3L174.0,376.7L173.5,377.2L173.0,377.6L172.5,378.0L172.0,378.5L171.4,379.0L170.9,379.5L170.4,380.0L169.8,380.5L169.3,381.0L168.7,381.5L168.2,382.0L167.5,382.5L167.0,382.9L166.5,383.3L166.0,383.6L165.4,384.0L164.5,384.5L164.0,384.7L163.3,385.0L162.5,385.3L161.5,385.5L161.0,385.5Z" fill="#a6ff4f"/><path d="M162.0,383.6L161.0,383.6L160.4,383.5L159.5,383.0L159.0,382.5L158.8,382.0L158.5,381.0L158.5,380.0L158.7,379.0L159.0,378.1L159.3,377.5L159.5,377.0L160.0,376.1L160.4,375.5L160.7,375.0L161.1,374.5L161.5,373.9L162.0,373.3L162.5,372.8L163.0,372.2L163.5,371.6L164.0,371.1L164.5,370.5L164.9,370.0L165.3,369.5L165.7,369.0L166.0,368.5L166.5,367.8L167.0,367.1L167.4,366.5L167.7,366.0L168.0,365.4L168.5,364.6L168.8,364.0L169.1,363.5L169.5,362.9L170.0,362.1L170.3,361.5L170.6,361.0L171.0,360.4L171.5,359.6L171.9,359.0L172.2,358.5L172.6,358.0L173.0,357.3L173.5,356.6L173.9,356.0L174.3,355.5L174.7,355.0L175.1,354.5L175.5,353.9L176.0,353.3L176.5,352.7L177.0,352.1L177.5,351.5L177.9,351.0L178.3,350.5L178.8,350.0L179.2,349.5L179.7,349.0L180.1,348.5L180.6,348.0L181.1,347.5L181.6,347.0L182.1,346.5L182.6,346.0L183.2,345.5L183.7,345.0L184.3,344.5L184.8,344.0L185.4,343.5L186.0,343.0L186.5,342.6L187.0,342.2L187.5,341.8L188.0,341.5L188.6,341.0L189.4,340.5L190.0,340.1L190.5,339.7L191.0,339.4L191.8,339.0L192.5,338.6L193.0,338.3L193.8,338.0L194.5,337.7L195.0,337.5L196.0,337.2L197.0,337.0L197.5,336.9L198.5,337.0L199.0,337.1L200.0,337.5L200.5,337.9L200.9,338.5L201.1,339.0L201.3,340.0L201.4,341.0L201.3,342.0L201.1,343.0L201.0,343.6L200.8,344.5L200.5,345.3L200.2,346.0L200.0,346.6L199.6,347.5L199.4,348.0L199.0,348.8L198.6,349.5L198.4,350.0L198.0,350.7L197.5,351.5L197.2,352.0L196.9,352.5L196.5,353.2L196.0,353.9L195.6,354.5L195.3,355.0L194.9,355.5L194.5,356.1L194.0,356.8L193.5,357.5L193.1,358.0L192.7,358.5L192.3,359.0L191.9,359.5L191.5,360.0L191.0,360.6L190.5,361.1L190.0,361.7L189.5,362.3L189.0,362.8L188.5,363.3L188.0,363.9L187.5,364.4L187.0,364.9L186.5,365.4L186.0,365.8L185.5,366.3L185.0,366.8L184.5,367.2L184.0,367.7L183.5,368.1L183.0,368.5L182.5,369.0L181.9,369.5L181.2,370.0L180.6,370.5L180.0,370.9L179.5,371.3L179.0,371.7L178.5,372.0L177.9,372.5L177.1,373.0L176.5,373.4L176.0,373.8L175.5,374.1L175.0,374.5L174.2,375.0L173.5,375.5L173.0,375.9L172.5,376.2L172.0,376.6L171.5,377.0L170.9,377.5L170.3,378.0L169.7,378.5L169.2,379.0L168.6,379.5L168.1,380.0L167.5,380.5L167.0,380.9L166.5,381.3L166.0,381.7L165.5,382.1L164.8,382.5L164.0,382.9L163.5,383.2L162.5,383.5L162.0,383.6Z" fill="#c0ff36"/><path d="M163.5,381.0L162.5,381.2L161.5,381.1L161.0,380.7L160.6,380.0L160.6,379.0L160.8,378.0L161.0,377.5L161.5,376.5L161.8,376.0L162.2,375.5L162.6,375.0L163.0,374.4L163.5,373.8L164.0,373.2L164.5,372.6L165.0,372.0L165.4,371.5L165.7,371.0L166.1,370.5L166.5,369.8L167.0,369.0L167.3,368.5L167.6,368.0L168.0,367.2L168.4,366.5L168.7,366.0L169.0,365.4L169.5,364.5L169.7,364.0L170.0,363.5L170.5,362.6L170.8,362.0L171.1,361.5L171.5,360.8L172.0,360.0L172.3,359.5L172.6,359.0L173.0,358.4L173.5,357.6L173.9,357.0L174.3,356.5L174.6,356.0L175.0,355.5L175.5,354.8L176.0,354.1L176.5,353.5L176.9,353.0L177.3,352.5L177.7,352.0L178.1,351.5L178.6,351.0L179.0,350.5L179.5,349.9L180.0,349.4L180.5,348.8L181.0,348.3L181.5,347.8L182.0,347.3L182.5,346.8L183.0,346.3L183.5,345.9L184.0,345.4L184.5,344.9L185.0,344.5L185.6,344.0L186.2,343.5L186.8,343.0L187.5,342.5L188.0,342.1L188.5,341.7L189.0,341.4L189.5,341.0L190.3,340.5L191.0,340.1L191.5,339.8L192.0,339.5L193.0,339.0L193.5,338.8L194.2,338.5L195.0,338.2L195.9,338.0L196.5,337.9L197.5,337.9L198.4,338.0L199.0,338.2L199.5,338.6L200.0,339.2L200.3,340.0L200.5,340.9L200.5,341.5L200.5,342.1L200.4,343.0L200.2,344.0L200.0,344.6L199.7,345.5L199.5,346.1L199.2,347.0L198.9,347.5L198.5,348.5L198.2,349.0L198.0,349.5L197.5,350.4L197.2,351.0L196.9,351.5L196.5,352.1L196.0,352.9L195.6,353.5L195.3,354.0L195.0,354.5L194.5,355.2L194.0,355.9L193.5,356.5L193.2,357.0L192.8,357.5L192.4,358.0L192.0,358.5L191.5,359.1L191.0,359.7L190.5,360.3L190.0,360.8L189.5,361.4L189.0,361.9L188.5,362.5L188.0,363.0L187.5,363.5L187.0,364.0L186.5,364.5L186.0,365.0L185.5,365.5L185.0,365.9L184.5,366.4L184.0,366.8L183.5,367.3L183.0,367.7L182.5,368.1L182.0,368.5L181.4,369.0L180.7,369.5L180.0,370.0L179.5,370.4L179.0,370.7L178.5,371.1L177.9,371.5L177.1,372.0L176.5,372.4L176.0,372.7L175.5,373.0L174.7,373.5L174.0,373.9L173.5,374.2L173.0,374.5L172.2,375.0L171.5,375.5L171.0,375.8L170.5,376.1L169.9,376.5L169.2,377.0L168.6,377.5L168.0,378.0L167.5,378.4L167.0,378.8L166.5,379.2L166.0,379.6L165.4,380.0L164.6,380.5L164.0,380.8L163.5,381.0Z" fill="#daff1c"/><path d="M166.5,376.0L165.9,376.0L165.7,375.0L166.0,374.0L166.2,373.5L166.5,372.9L166.9,372.0L167.1,371.5L167.5,370.6L167.8,370.0L168.0,369.5L168.4,368.5L168.7,368.0L169.0,367.2L169.3,366.5L169.6,366.0L170.0,365.1L170.3,364.5L170.5,364.0L171.0,363.0L171.3,362.5L171.5,362.0L172.0,361.2L172.4,360.5L172.7,360.0L173.0,359.5L173.5,358.6L173.9,358.0L174.2,357.5L174.6,357.0L175.0,356.4L175.5,355.7L176.0,355.0L176.3,354.5L176.7,354.0L177.1,353.5L177.5,353.0L178.0,352.4L178.5,351.8L179.0,351.2L179.5,350.6L180.0,350.1L180.5,349.5L181.0,349.0L181.5,348.5L182.0,348.0L182.4,347.5L183.0,347.0L183.5,346.5L184.0,346.0L184.5,345.6L185.0,345.1L185.5,344.7L186.0,344.3L186.5,343.9L187.0,343.5L187.6,343.0L188.3,342.5L189.0,342.0L189.5,341.6L190.0,341.3L190.5,341.0L191.4,340.5L192.0,340.2L192.5,339.9L193.5,339.5L194.0,339.3L194.9,339.0L195.5,338.9L196.5,338.8L197.5,338.8L198.0,339.0L198.8,339.5L199.2,340.0L199.5,340.8L199.6,341.5L199.7,342.5L199.6,343.5L199.5,344.0L199.2,345.0L199.0,345.7L198.7,346.5L198.5,347.1L198.1,348.0L197.9,348.5L197.5,349.2L197.1,350.0L196.8,350.5L196.5,351.1L196.0,352.0L195.7,352.5L195.4,353.0L195.0,353.5L194.5,354.3L194.0,355.0L193.6,355.5L193.3,356.0L192.9,356.5L192.5,357.0L192.0,357.7L191.5,358.3L191.0,358.9L190.5,359.5L190.1,360.0L189.6,360.5L189.2,361.0L188.7,361.5L188.3,362.0L187.8,362.5L187.3,363.0L186.8,363.5L186.3,364.0L185.7,364.5L185.2,365.0L184.7,365.5L184.1,366.0L183.5,366.5L183.0,366.9L182.5,367.3L182.0,367.7L181.5,368.1L181.0,368.5L180.3,369.0L179.6,369.5L179.0,369.9L178.5,370.3L178.0,370.6L177.3,371.0L176.5,371.5L176.0,371.8L175.5,372.0L174.6,372.5L174.0,372.8L173.5,373.1L172.6,373.5L172.0,373.8L171.5,374.0L170.5,374.5L170.0,374.7L169.2,375.0L168.5,375.3L168.0,375.5L167.0,375.9L166.5,376.0Z" fill="#f1fc05"/><path d="M171.5,372.5L170.5,372.6L169.9,372.5L169.3,372.0L169.1,371.0L169.2,370.0L169.4,369.0L169.5,368.5L169.9,367.5L170.0,367.0L170.4,366.0L170.6,365.5L171.0,364.6L171.2,364.0L171.5,363.5L172.0,362.5L172.2,362.0L172.5,361.5L173.0,360.5L173.3,360.0L173.6,359.5L174.0,358.8L174.5,358.0L174.8,357.5L175.2,357.0L175.5,356.5L176.0,355.8L176.5,355.1L176.9,354.5L177.3,354.0L177.7,353.5L178.1,353.0L178.5,352.5L179.0,351.9L179.5,351.3L180.0,350.7L180.5,350.2L181.0,349.6L181.5,349.1L182.0,348.6L182.5,348.1L183.0,347.6L183.5,347.1L184.0,346.6L184.5,346.2L185.0,345.7L185.5,345.3L186.0,344.9L186.5,344.5L187.1,344.0L187.7,343.5L188.4,343.0L189.0,342.6L189.5,342.3L190.0,341.9L190.7,341.5L191.5,341.1L192.0,340.8L192.7,340.5L193.5,340.2L194.0,340.0L195.0,339.8L196.0,339.7L197.0,339.8L197.5,340.0L198.1,340.5L198.5,341.1L198.8,342.0L198.8,343.0L198.7,344.0L198.5,345.0L198.4,345.5L198.1,346.5L197.9,347.0L197.5,348.0L197.3,348.5L197.0,349.1L196.5,350.0L196.3,350.5L196.0,351.0L195.5,351.8L195.1,352.5L194.8,353.0L194.4,353.5L194.0,354.2L193.5,354.9L193.1,355.5L192.7,356.0L192.3,356.5L191.9,357.0L191.5,357.6L191.0,358.2L190.5,358.8L190.0,359.4L189.5,359.9L189.0,360.5L188.5,361.0L188.1,361.5L187.6,362.0L187.1,362.5L186.6,363.0L186.1,363.5L185.6,364.0L185.0,364.5L184.5,365.0L184.0,365.4L183.5,365.8L183.0,366.2L182.5,366.6L182.0,367.0L181.4,367.5L180.7,368.0L180.0,368.5L179.5,368.8L179.0,369.2L178.5,369.5L177.6,370.0L177.0,370.4L176.5,370.6L175.8,371.0L175.0,371.4L174.5,371.6L173.5,372.0L173.0,372.1L172.0,372.4L171.5,372.5Z" fill="#ffde00"/><path d="M174.5,370.6L173.5,370.8L172.5,370.9L171.5,370.7L171.0,370.2L170.7,369.5L170.7,368.5L170.9,367.5L171.0,366.9L171.3,366.0L171.5,365.3L171.8,364.5L172.0,363.9L172.4,363.0L172.6,362.5L173.0,361.7L173.4,361.0L173.6,360.5L174.0,359.8L174.5,359.0L174.8,358.5L175.1,358.0L175.5,357.4L176.0,356.6L176.4,356.0L176.8,355.5L177.1,355.0L177.5,354.5L178.0,353.8L178.5,353.2L179.0,352.6L179.5,352.0L179.9,351.5L180.3,351.0L180.8,350.5L181.2,350.0L181.7,349.5L182.2,349.0L182.7,348.5L183.2,348.0L183.7,347.5L184.2,347.0L184.8,346.5L185.4,346.0L185.9,345.5L186.5,345.0L187.0,344.7L187.5,344.3L188.0,343.9L188.6,343.5L189.3,343.0L190.0,342.6L190.5,342.3L191.0,342.0L192.0,341.5L192.5,341.3L193.2,341.0L194.0,340.8L195.0,340.6L196.0,340.7L196.9,341.0L197.4,341.5L197.7,342.0L197.9,343.0L198.0,344.0L197.8,345.0L197.6,346.0L197.4,346.5L197.1,347.5L196.9,348.0L196.5,348.8L196.2,349.5L195.9,350.0L195.5,350.8L195.1,351.5L194.8,352.0L194.5,352.5L194.0,353.3L193.6,354.0L193.2,354.5L192.9,355.0L192.5,355.5L192.0,356.2L191.5,356.8L191.0,357.5L190.6,358.0L190.1,358.5L189.7,359.0L189.3,359.5L188.8,360.0L188.4,360.5L187.9,361.0L187.4,361.5L186.9,362.0L186.4,362.5L185.9,363.0L185.4,363.5L184.8,364.0L184.3,364.5L183.7,365.0L183.1,365.5L182.5,366.0L182.0,366.4L181.5,366.7L181.0,367.1L180.4,367.5L179.7,368.0L179.0,368.4L178.5,368.7L178.0,369.0L177.1,369.5L176.5,369.8L176.0,370.0L175.0,370.4L174.5,370.6Z" fill="#ffc400"/><path d="M174.0,369.5L173.5,369.5L172.5,369.0L172.2,368.5L172.0,367.7L172.0,367.1L172.1,366.5L172.3,365.5L172.5,364.7L172.7,364.0L173.0,363.3L173.3,362.5L173.5,362.0L174.0,361.0L174.3,360.5L174.5,360.0L175.0,359.2L175.4,358.5L175.7,358.0L176.0,357.5L176.5,356.7L177.0,356.0L177.3,355.5L177.7,355.0L178.1,354.5L178.5,353.9L179.0,353.3L179.5,352.7L180.0,352.1L180.5,351.5L180.9,351.0L181.4,350.5L181.8,350.0L182.3,349.5L182.8,349.0L183.3,348.5L183.8,348.0L184.4,347.5L184.9,347.0L185.5,346.5L186.0,346.1L186.5,345.7L187.0,345.3L187.5,344.9L188.0,344.5L188.7,344.0L189.5,343.5L190.0,343.2L190.5,342.9L191.3,342.5L192.0,342.2L192.5,342.0L193.5,341.7L194.5,341.6L195.5,341.7L196.2,342.0L196.6,342.5L197.0,343.4L197.1,344.0L197.0,345.0L197.0,345.5L196.7,346.5L196.5,347.3L196.2,348.0L196.0,348.6L195.6,349.5L195.3,350.0L195.0,350.7L194.5,351.5L194.3,352.0L194.0,352.5L193.5,353.2L193.0,354.0L192.6,354.5L192.3,355.0L191.9,355.5L191.5,356.1L191.0,356.7L190.5,357.4L190.0,358.0L189.6,358.5L189.1,359.0L188.7,359.5L188.2,360.0L187.8,360.5L187.3,361.0L186.8,361.5L186.3,362.0L185.8,362.5L185.2,363.0L184.7,363.5L184.1,364.0L183.5,364.5L183.0,364.9L182.5,365.3L182.0,365.7L181.5,366.1L180.9,366.5L180.1,367.0L179.5,367.4L179.0,367.7L178.5,368.0L177.5,368.5L177.0,368.7L176.3,369.0L175.5,369.3L174.5,369.5L174.0,369.5Z" fill="#ffa600"/><path d="M176.0,368.1L175.0,368.2L174.1,368.0L173.5,367.5L173.3,367.0L173.2,366.0L173.3,365.0L173.5,364.1L173.7,363.5L174.0,362.6L174.2,362.0L174.5,361.4L174.9,360.5L175.2,360.0L175.5,359.4L176.0,358.5L176.3,358.0L176.6,357.5L177.0,356.9L177.5,356.1L177.9,355.5L178.3,355.0L178.7,354.5L179.0,354.0L179.5,353.4L180.0,352.8L180.5,352.2L181.0,351.6L181.5,351.0L182.0,350.5L182.5,350.0L183.0,349.5L183.5,349.0L184.0,348.5L184.5,348.0L185.0,347.6L185.5,347.1L186.0,346.7L186.5,346.3L187.0,345.9L187.5,345.5L188.2,345.0L189.0,344.5L189.5,344.2L190.0,343.9L190.8,343.5L191.5,343.2L192.0,343.0L193.0,342.7L194.0,342.6L195.0,342.8L195.5,343.1L196.0,344.0L196.1,344.5L196.1,345.5L196.0,346.5L195.9,347.0L195.6,348.0L195.4,348.5L195.0,349.4L194.7,350.0L194.5,350.5L194.0,351.4L193.7,352.0L193.4,352.5L193.0,353.1L192.5,353.8L192.1,354.5L191.7,355.0L191.3,355.5L191.0,356.0L190.5,356.6L190.0,357.2L189.5,357.8L189.0,358.4L188.5,359.0L188.0,359.5L187.6,360.0L187.1,360.5L186.6,361.0L186.1,361.5L185.6,362.0L185.0,362.5L184.5,363.0L184.0,363.4L183.5,363.8L183.0,364.2L182.5,364.6L182.0,365.0L181.3,365.5L180.6,366.0L180.0,366.4L179.5,366.6L178.8,367.0L178.0,367.4L177.5,367.6L176.5,368.0L176.0,368.1Z" fill="#ff8900"/><path d="M177.5,366.7L176.5,366.9L175.5,366.8L175.0,366.5L174.5,365.7L174.4,365.0L174.5,364.0L174.6,363.5L174.8,362.5L175.0,362.0L175.4,361.0L175.6,360.5L176.0,359.7L176.4,359.0L176.7,358.5L177.0,357.9L177.5,357.1L177.9,356.5L178.2,356.0L178.6,355.5L179.0,354.9L179.5,354.2L180.0,353.6L180.5,353.0L180.9,352.5L181.3,352.0L181.8,351.5L182.2,351.0L182.7,350.5L183.2,350.0L183.7,349.5L184.2,349.0L184.7,348.5L185.3,348.0L185.9,347.5L186.5,347.0L187.0,346.6L187.5,346.2L188.0,345.9L188.6,345.5L189.4,345.0L190.0,344.7L190.5,344.4L191.5,344.0L192.0,343.9L193.0,343.7L194.0,343.9L194.5,344.2L195.0,344.9L195.1,345.5L195.1,346.5L195.0,347.2L194.8,348.0L194.5,348.9L194.3,349.5L194.0,350.1L193.6,351.0L193.3,351.5L193.0,352.0L192.5,352.9L192.1,353.5L191.8,354.0L191.4,354.5L191.0,355.1L190.5,355.8L190.0,356.4L189.6,357.0L189.1,357.5L188.7,358.0L188.3,358.5L187.8,359.0L187.4,359.5L186.9,360.0L186.4,360.5L185.9,361.0L185.4,361.5L184.8,362.0L184.2,362.5L183.6,363.0L183.0,363.5L182.5,363.9L182.0,364.3L181.5,364.6L180.9,365.0L180.1,365.5L179.5,365.8L179.0,366.1L178.0,366.5L177.5,366.7Z" fill="#ff6f00"/><path d="M179.0,365.1L178.0,365.4L177.0,365.4L176.1,365.0L175.8,364.5L175.7,363.5L175.8,362.5L176.0,361.7L176.3,361.0L176.5,360.4L176.9,359.5L177.1,359.0L177.5,358.3L178.0,357.5L178.3,357.0L178.6,356.5L179.0,355.9L179.5,355.2L180.0,354.5L180.4,354.0L180.8,353.5L181.2,353.0L181.6,352.5L182.0,352.0L182.5,351.5L183.0,351.0L183.5,350.4L184.0,349.9L184.5,349.5L185.0,349.0L185.6,348.5L186.2,348.0L186.8,347.5L187.5,347.0L188.0,346.7L188.5,346.4L189.1,346.0L190.0,345.6L190.5,345.4L191.5,345.1L192.0,345.0L192.6,345.0L193.5,345.4L193.8,346.0L194.0,347.0L193.9,348.0L193.6,349.0L193.4,349.5L193.0,350.5L192.8,351.0L192.5,351.6L192.0,352.5L191.7,353.0L191.4,353.5L191.0,354.1L190.5,354.8L190.0,355.5L189.6,356.0L189.2,356.5L188.8,357.0L188.4,357.5L188.0,358.0L187.5,358.5L187.0,359.1L186.5,359.6L186.0,360.1L185.5,360.6L185.0,361.0L184.5,361.5L183.9,362.0L183.3,362.5L182.6,363.0L182.0,363.4L181.5,363.8L181.0,364.1L180.2,364.5L179.5,364.9L179.0,365.1Z" fill="#ff5100"/><path d="M179.5,363.6L178.5,363.7L177.8,363.5L177.4,363.0L177.2,362.0L177.4,361.0L177.5,360.5L177.9,359.5L178.1,359.0L178.5,358.2L178.9,357.5L179.2,357.0L179.5,356.4L180.0,355.7L180.5,355.0L180.9,354.5L181.2,354.0L181.6,353.5L182.1,353.0L182.5,352.5L183.0,351.9L183.5,351.4L184.0,350.9L184.5,350.4L185.0,350.0L185.5,349.5L186.2,349.0L186.8,348.5L187.5,348.0L188.0,347.7L188.5,347.4L189.3,347.0L190.0,346.8L191.0,346.6L192.0,346.8L192.5,347.5L192.6,348.0L192.5,349.0L192.4,349.5L192.1,350.5L191.8,351.0L191.5,351.8L191.1,352.5L190.8,353.0L190.5,353.5L190.0,354.3L189.5,355.0L189.1,355.5L188.8,356.0L188.4,356.5L188.0,357.0L187.5,357.5L187.0,358.1L186.5,358.6L186.0,359.1L185.5,359.6L185.0,360.1L184.5,360.5L183.9,361.0L183.3,361.5L182.6,362.0L182.0,362.4L181.5,362.7L181.0,363.0L180.0,363.4L179.5,363.6Z" fill="#ff3700"/><path d="M181.5,361.0L180.5,361.2L179.7,361.0L179.5,360.5L179.5,359.5L179.6,359.0L180.0,358.0L180.2,357.5L180.5,356.9L181.0,356.1L181.4,355.5L181.8,355.0L182.1,354.5L182.5,354.0L183.0,353.4L183.5,352.9L184.0,352.3L184.5,351.9L185.0,351.4L185.5,351.0L186.1,350.5L186.8,350.0L187.5,349.5L188.0,349.3L188.8,349.0L189.5,348.9L190.0,349.1L190.4,350.0L190.3,351.0L190.0,352.0L189.7,352.5L189.5,353.0L189.0,353.9L188.6,354.5L188.2,355.0L187.9,355.5L187.5,356.0L187.0,356.6L186.5,357.1L186.0,357.7L185.5,358.2L185.0,358.6L184.5,359.1L184.0,359.5L183.3,360.0L182.5,360.5L182.0,360.8L181.5,361.0Z" fill="#ff1a00"/><line x1="41" y1="328.9" x2="262" y2="328.9" stroke="#d8ecff" stroke-width="1.8"/><line x1="151.7" y1="218" x2="151.7" y2="439" stroke="#d8ecff" stroke-width="1.8"/><line x1="41" y1="439" x2="262" y2="218" stroke="#d8ecff" stroke-width="1.8"/><line x1="151.5" y1="328.5" x2="262" y2="439" stroke="#d8ecff" stroke-width="1.8"/><line x1="151.5" y1="439.0" x2="157.0" y2="439.0" stroke="#d8ecff" stroke-width="1.2"/><line x1="41.0" y1="328.5" x2="41.0" y2="331.7" stroke="#d8ecff" stroke-width="1.2"/><line x1="151.5" y1="416.9" x2="157.0" y2="416.9" stroke="#d8ecff" stroke-width="1.2"/><line x1="63.1" y1="328.5" x2="63.1" y2="331.7" stroke="#d8ecff" stroke-width="1.2"/><line x1="151.5" y1="394.8" x2="157.0" y2="394.8" stroke="#d8ecff" stroke-width="1.2"/><line x1="85.2" y1="328.5" x2="85.2" y2="331.7" stroke="#d8ecff" stroke-width="1.2"/><line x1="151.5" y1="372.7" x2="157.0" y2="372.7" stroke="#d8ecff" stroke-width="1.2"/><line x1="107.3" y1="328.5" x2="107.3" y2="331.7" stroke="#d8ecff" stroke-width="1.2"/><line x1="151.5" y1="350.6" x2="157.0" y2="350.6" stroke="#d8ecff" stroke-width="1.2"/><line x1="129.4" y1="328.5" x2="129.4" y2="331.7" stroke="#d8ecff" stroke-width="1.2"/><line x1="151.5" y1="306.4" x2="157.0" y2="306.4" stroke="#d8ecff" stroke-width="1.2"/><line x1="173.6" y1="328.5" x2="173.6" y2="331.7" stroke="#d8ecff" stroke-width="1.2"/><line x1="151.5" y1="284.3" x2="157.0" y2="284.3" stroke="#d8ecff" stroke-width="1.2"/><line x1="195.7" y1="328.5" x2="195.7" y2="331.7" stroke="#d8ecff" stroke-width="1.2"/><line x1="151.5" y1="262.2" x2="157.0" y2="262.2" stroke="#d8ecff" stroke-width="1.2"/><line x1="217.8" y1="328.5" x2="217.8" y2="331.7" stroke="#d8ecff" stroke-width="1.2"/><line x1="151.5" y1="240.1" x2="157.0" y2="240.1" stroke="#d8ecff" stroke-width="1.2"/><line x1="239.9" y1="328.5" x2="239.9" y2="331.7" stroke="#d8ecff" stroke-width="1.2"/><line x1="151.5" y1="218.0" x2="157.0" y2="218.0" stroke="#d8ecff" stroke-width="1.2"/><line x1="262.0" y1="328.5" x2="262.0" y2="331.7" stroke="#d8ecff" stroke-width="1.2"/><text x="154.5" y="229.5" font-size="12" fill="#d8ecff" letter-spacing="0.8">H<tspan font-size="7" dy="4.5">r</tspan><tspan dy="-4.5"> (Oe)</tspan></text><text x="161.0" y="244.4" font-size="12" fill="#d8ecff">2000</text><text x="161.0" y="288.6" font-size="12" fill="#d8ecff">1000</text><text x="161.0" y="377.0" font-size="12" fill="#d8ecff">-1000</text><text x="161.0" y="421.2" font-size="12" fill="#d8ecff">-2000</text><text x="63.1" y="344.0" font-size="12" fill="#d8ecff" text-anchor="middle">-2000</text><text x="107.3" y="344.0" font-size="12" fill="#d8ecff" text-anchor="middle">-1000</text><text x="195.7" y="344.0" font-size="12" fill="#d8ecff" text-anchor="middle">1000</text><text x="239.9" y="344.0" font-size="12" fill="#d8ecff" text-anchor="middle">2000</text><text x="261" y="325.5" font-size="12" fill="#d8ecff" text-anchor="end" letter-spacing="0.9">H (Oe)</text><text x="62.5" y="432.5" font-size="14" font-weight="bold" fill="#fff">H<tspan font-size="8" dy="6">u</tspan></text><text x="229.5" y="432.5" font-size="14" font-weight="bold" fill="#fff">H<tspan font-size="8" dy="6">c</tspan></text></g><rect x="41" y="218" width="41" height="33.7" fill="#000"/><text x="61.5" y="242.5" font-size="20" font-weight="bold" fill="#fff" text-anchor="middle">(d)</text><clipPath id="clipe"><rect x="271" y="218" width="221" height="221"/></clipPath><g clip-path="url(#clipe)"><rect x="271" y="218" width="221" height="221" fill="#0066ff"/><path d="M465.0,410.5L464.0,411.0L463.0,410.9L462.0,410.7L461.4,410.5L460.5,410.2L460.0,409.9L459.0,409.5L458.5,409.2L458.0,409.0L457.1,408.5L456.5,408.2L456.0,407.9L455.3,407.5L454.5,407.0L454.0,406.7L453.5,406.4L452.9,406.0L452.1,405.5L451.5,405.1L451.0,404.8L450.5,404.5L449.8,404.0L449.1,403.5L448.5,403.1L448.0,402.8L447.5,402.4L447.0,402.0L446.3,401.5L445.6,401.0L445.0,400.6L444.5,400.2L444.0,399.8L443.5,399.5L442.9,399.0L442.2,398.5L441.6,398.0L441.0,397.6L440.5,397.2L440.0,396.8L439.5,396.4L439.0,396.0L438.4,395.5L437.8,395.0L437.2,394.5L436.6,394.0L436.0,393.6L435.5,393.1L435.0,392.7L434.5,392.3L434.0,391.9L433.5,391.5L433.0,391.0L432.4,390.5L431.8,390.0L431.2,389.5L430.6,389.0L430.0,388.5L429.5,388.0L429.0,387.6L428.5,387.2L428.0,386.7L427.5,386.3L427.0,385.8L426.5,385.4L426.0,384.9L425.5,384.5L425.0,384.0L424.4,383.5L423.9,383.0L423.4,382.5L422.8,382.0L422.3,381.5L421.7,381.0L421.2,380.5L420.7,380.0L420.1,379.5L419.6,379.0L419.1,378.5L418.6,378.0L418.1,377.5L417.5,377.0L417.0,376.5L416.5,376.0L416.0,375.5L415.5,375.0L415.0,374.5L414.5,374.0L414.0,373.5L413.5,373.0L413.0,372.5L412.5,372.0L412.0,371.5L411.5,371.0L411.0,370.5L410.5,370.0L410.1,369.5L409.6,369.0L409.1,368.5L408.6,368.0L408.1,367.5L407.5,367.3L406.5,367.2L405.5,367.1L405.0,367.0L404.0,366.8L403.1,366.5L402.5,366.3L401.5,366.0L401.0,365.8L400.3,365.5L399.5,365.2L399.0,364.9L398.2,364.5L397.5,364.1L397.0,363.9L396.4,363.5L395.6,363.0L395.0,362.6L394.5,362.2L394.0,361.9L393.5,361.5L392.9,361.0L392.3,360.5L391.7,360.0L391.2,359.5L390.7,359.0L390.2,358.5L389.7,358.0L389.2,357.5L388.8,357.0L388.3,356.5L387.9,356.0L387.5,355.5L387.0,354.8L386.5,354.1L386.1,353.5L385.8,353.0L385.4,352.5L385.0,351.7L384.6,351.0L384.3,350.5L384.0,349.8L383.6,349.0L383.4,348.5L383.0,347.5L382.8,347.0L382.5,346.0L382.4,345.5L382.1,344.5L382.0,343.7L381.9,343.0L381.8,342.0L381.6,341.0L381.5,340.4L381.3,339.5L381.1,338.5L381.0,337.8L380.9,337.0L380.8,336.0L380.8,335.0L380.8,334.0L380.5,333.0L380.3,332.5L380.0,332.0L379.5,331.1L379.2,330.5L378.9,330.0L378.5,329.1L378.2,328.5L378.0,327.9L377.7,327.0L377.5,326.5L377.3,325.5L377.2,324.5L377.4,323.5L377.8,323.0L378.5,322.6L379.5,322.5L380.5,322.6L381.5,322.9L382.0,323.0L383.0,323.4L383.5,323.6L384.4,324.0L385.0,324.3L385.5,324.5L386.5,325.0L387.0,325.3L387.5,325.6L388.3,326.0L389.0,326.4L389.5,326.7L390.0,327.0L390.8,327.5L391.5,327.9L392.0,328.2L392.5,328.6L393.1,329.0L393.9,329.5L394.5,329.9L395.0,330.2L395.5,330.6L396.1,331.0L397.0,331.4L397.5,331.6L398.5,331.9L399.0,332.1L399.9,332.5L400.5,332.8L401.0,333.0L401.9,333.5L402.5,333.8L403.0,334.1L403.6,334.5L404.4,335.0L405.0,335.4L405.5,335.8L406.0,336.1L406.5,336.5L407.1,337.0L407.7,337.5L408.3,338.0L408.8,338.5L409.3,339.0L409.8,339.5L410.3,340.0L410.8,340.5L411.2,341.0L411.7,341.5L412.1,342.0L412.5,342.5L413.0,343.2L413.5,343.9L413.9,344.5L414.3,345.0L414.6,345.5L415.0,346.1L415.5,346.7L416.0,347.1L416.5,347.6L417.0,348.0L417.5,348.5L418.1,349.0L418.6,349.5L419.2,350.0L419.7,350.5L420.2,351.0L420.8,351.5L421.3,352.0L421.8,352.5L422.4,353.0L422.9,353.5L423.4,354.0L423.9,354.5L424.5,355.0L425.0,355.5L425.5,356.0L426.0,356.5L426.5,357.0L427.0,357.5L427.5,358.0L428.0,358.4L428.5,358.9L429.0,359.4L429.5,360.0L430.0,360.5L430.5,361.0L431.0,361.5L431.5,362.0L432.0,362.5L432.5,363.0L432.9,363.5L433.4,364.0L433.9,364.5L434.4,365.0L434.8,365.5L435.3,366.0L435.8,366.5L436.2,367.0L436.7,367.5L437.2,368.0L437.6,368.5L438.1,369.0L438.5,369.5L439.0,370.0L439.5,370.6L440.0,371.1L440.5,371.7L441.0,372.3L441.5,372.8L442.0,373.4L442.5,374.0L443.0,374.5L443.4,375.0L443.8,375.5L444.3,376.0L444.7,376.5L445.1,377.0L445.5,377.5L446.0,378.1L446.5,378.6L447.0,379.2L447.5,379.8L448.0,380.5L448.4,381.0L448.9,381.5L449.3,382.0L449.7,382.5L450.1,383.0L450.5,383.6L451.0,384.2L451.5,384.8L452.0,385.5L452.4,386.0L452.8,386.5L453.2,387.0L453.5,387.5L454.0,388.1L454.5,388.8L455.0,389.5L455.4,390.0L455.7,390.5L456.1,391.0L456.5,391.6L457.0,392.3L457.5,393.0L457.8,393.5L458.2,394.0L458.5,394.5L459.0,395.3L459.5,396.0L459.8,396.5L460.1,397.0L460.5,397.7L461.0,398.5L461.3,399.0L461.6,399.5L462.0,400.2L462.4,401.0L462.7,401.5L463.0,402.1L463.5,403.0L463.7,403.5L464.0,404.1L464.4,405.0L464.6,405.5L464.9,406.5L465.1,407.0L465.3,408.0L465.5,409.0L465.3,410.0L465.0,410.5Z" fill="#0084ff"/><path d="M460.5,407.1L459.5,407.1L458.7,407.0L458.0,406.8L457.1,406.5L456.5,406.3L455.9,406.0L455.0,405.6L454.5,405.3L453.9,405.0L453.0,404.5L452.5,404.2L452.0,403.9L451.3,403.5L450.5,403.0L450.0,402.7L449.5,402.4L448.9,402.0L448.2,401.5L447.5,401.1L447.0,400.7L446.5,400.4L446.0,400.0L445.2,399.5L444.5,399.0L444.0,398.6L443.5,398.3L443.0,397.9L442.5,397.5L441.8,397.0L441.2,396.5L440.5,396.0L440.0,395.6L439.5,395.2L439.0,394.8L438.5,394.4L437.9,394.0L437.3,393.5L436.7,393.0L436.1,392.5L435.5,392.0L435.0,391.6L434.5,391.2L434.0,390.8L433.5,390.4L433.0,390.0L432.4,389.5L431.9,389.0L431.3,388.5L430.7,388.0L430.1,387.5L429.5,387.0L429.0,386.5L428.5,386.1L428.0,385.7L427.5,385.2L427.0,384.8L426.5,384.3L426.0,383.9L425.5,383.4L425.0,383.0L424.5,382.5L423.9,382.0L423.4,381.5L422.9,381.0L422.3,380.5L421.8,380.0L421.2,379.5L420.7,379.0L420.2,378.5L419.7,378.0L419.1,377.5L418.6,377.0L418.1,376.5L417.6,376.0L417.1,375.5L416.6,375.0L416.1,374.5L415.5,374.0L415.0,373.5L414.5,373.0L414.0,372.5L413.5,372.0L413.0,371.5L412.6,371.0L412.1,370.5L411.6,370.0L411.1,369.5L410.6,369.0L410.1,368.5L409.6,368.0L409.2,367.5L408.7,367.0L408.2,366.5L407.7,366.0L407.2,365.5L406.5,365.0L406.0,365.0L405.0,364.8L404.0,364.6L403.5,364.5L402.5,364.2L401.9,364.0L401.0,363.7L400.5,363.5L399.5,363.0L399.0,362.8L398.4,362.5L397.5,362.0L397.0,361.7L396.5,361.4L395.9,361.0L395.2,360.5L394.5,360.0L394.0,359.6L393.5,359.2L393.0,358.7L392.5,358.3L392.0,357.8L391.5,357.3L391.0,356.8L390.5,356.3L390.0,355.7L389.5,355.1L389.0,354.5L388.7,354.0L388.3,353.5L388.0,353.0L387.5,352.3L387.0,351.5L386.7,351.0L386.5,350.5L386.0,349.6L385.7,349.0L385.5,348.4L385.1,347.5L385.0,347.0L384.7,346.0L384.5,345.3L384.3,344.5L384.2,343.5L384.0,343.0L383.7,342.0L383.5,341.5L383.3,340.5L383.1,339.5L383.0,339.0L382.9,338.0L382.8,337.0L382.8,336.0L382.8,335.0L382.8,334.0L382.5,333.5L382.0,332.5L381.8,332.0L381.5,331.3L381.2,330.5L381.0,330.0L380.7,329.0L380.6,328.0L380.7,327.0L381.0,326.5L381.8,326.0L382.5,325.9L383.5,325.9L384.0,326.0L385.0,326.3L385.6,326.5L386.5,326.9L387.0,327.1L387.9,327.5L388.5,327.8L389.0,328.0L389.9,328.5L390.5,328.8L391.0,329.1L391.7,329.5L392.5,330.0L393.0,330.3L393.5,330.6L394.1,331.0L394.9,331.5L395.5,331.9L396.0,332.2L396.5,332.6L397.1,333.0L397.8,333.5L398.5,334.0L399.0,334.2L399.7,334.5L400.5,334.9L401.0,335.1L401.7,335.5L402.5,335.9L403.0,336.2L403.5,336.6L404.1,337.0L404.9,337.5L405.5,338.0L406.0,338.4L406.5,338.8L407.0,339.2L407.5,339.7L408.0,340.1L408.5,340.6L409.0,341.1L409.5,341.7L410.0,342.2L410.5,342.8L411.0,343.5L411.4,344.0L411.9,344.5L412.4,345.0L412.9,345.5L413.5,346.0L414.0,346.4L414.5,346.9L415.0,347.3L415.5,347.7L416.0,348.2L416.5,348.6L417.0,349.1L417.5,349.5L418.0,350.0L418.6,350.5L419.1,351.0L419.7,351.5L420.2,352.0L420.7,352.5L421.3,353.0L421.8,353.5L422.3,354.0L422.9,354.5L423.4,355.0L423.9,355.5L424.4,356.0L425.0,356.5L425.5,357.0L426.0,357.5L426.5,358.0L427.0,358.5L427.5,359.0L428.0,359.5L428.5,360.0L429.0,360.5L429.5,361.0L430.0,361.5L430.5,362.0L431.0,362.5L431.5,363.0L431.9,363.5L432.4,364.0L432.9,364.5L433.4,365.0L433.8,365.5L434.3,366.0L434.8,366.5L435.2,367.0L435.7,367.5L436.1,368.0L436.6,368.5L437.0,369.0L437.5,369.5L438.0,370.1L438.5,370.6L439.0,371.2L439.5,371.8L440.0,372.3L440.5,372.9L441.0,373.5L441.5,374.0L441.9,374.5L442.3,375.0L442.8,375.5L443.2,376.0L443.6,376.5L444.0,377.0L444.5,377.6L445.0,378.2L445.5,378.8L446.0,379.4L446.5,380.0L446.9,380.5L447.3,381.0L447.7,381.5L448.1,382.0L448.5,382.5L449.0,383.1L449.5,383.7L450.0,384.4L450.5,385.0L450.8,385.5L451.2,386.0L451.6,386.5L452.0,387.1L452.5,387.7L453.0,388.4L453.4,389.0L453.8,389.5L454.1,390.0L454.5,390.6L455.0,391.3L455.5,392.0L455.8,392.5L456.1,393.0L456.5,393.6L457.0,394.4L457.4,395.0L457.7,395.5L458.0,396.0L458.5,396.9L458.9,397.5L459.1,398.0L459.5,398.7L459.9,399.5L460.2,400.0L460.5,400.7L460.8,401.5L461.0,402.0L461.4,403.0L461.5,403.5L461.7,404.5L461.8,405.5L461.5,406.5L461.0,407.0L460.5,407.1Z" fill="#00a4ff"/><path d="M458.5,404.6L457.5,404.8L456.5,404.6L456.0,404.5L455.0,404.2L454.5,404.0L453.5,403.5L453.0,403.3L452.5,403.0L451.5,402.5L451.0,402.2L450.5,401.9L449.8,401.5L449.0,401.0L448.5,400.7L448.0,400.4L447.4,400.0L446.6,399.5L446.0,399.1L445.5,398.8L445.0,398.4L444.4,398.0L443.7,397.5L443.0,397.0L442.5,396.6L442.0,396.3L441.5,395.9L441.0,395.5L440.3,395.0L439.7,394.5L439.0,394.0L438.5,393.6L438.0,393.2L437.5,392.8L437.0,392.4L436.5,392.0L435.8,391.5L435.2,391.0L434.6,390.5L434.0,390.0L433.5,389.6L433.0,389.2L432.5,388.8L432.0,388.3L431.5,387.9L431.0,387.5L430.4,387.0L429.9,386.5L429.3,386.0L428.7,385.5L428.1,385.0L427.6,384.5L427.0,384.0L426.5,383.6L426.0,383.1L425.5,382.7L425.0,382.2L424.5,381.8L424.0,381.3L423.5,380.8L423.0,380.4L422.5,379.9L422.0,379.4L421.5,379.0L421.0,378.5L420.5,378.0L419.9,377.5L419.4,377.0L418.9,376.5L418.4,376.0L417.9,375.5L417.3,375.0L416.8,374.5L416.3,374.0L415.8,373.5L415.3,373.0L414.8,372.5L414.3,372.0L413.8,371.5L413.3,371.0L412.8,370.5L412.3,370.0L411.8,369.5L411.4,369.0L410.9,368.5L410.4,368.0L409.9,367.5L409.4,367.0L409.0,366.5L408.5,366.0L408.0,365.5L407.5,364.9L407.0,364.4L406.5,363.8L406.0,363.3L405.1,363.0L404.5,362.9L403.5,362.7L402.9,362.5L402.0,362.2L401.4,362.0L400.5,361.7L400.0,361.5L399.1,361.0L398.5,360.7L398.0,360.4L397.3,360.0L396.5,359.5L396.0,359.2L395.5,358.8L395.0,358.4L394.5,358.0L393.9,357.5L393.4,357.0L392.8,356.5L392.3,356.0L391.9,355.5L391.4,355.0L391.0,354.5L390.5,353.9L390.0,353.2L389.5,352.5L389.2,352.0L388.9,351.5L388.5,350.9L388.0,350.0L387.8,349.5L387.5,348.9L387.1,348.0L387.0,347.5L386.6,346.5L386.5,345.9L386.3,345.0L386.1,344.0L386.0,343.0L386.0,342.5L385.7,341.5L385.5,340.7L385.3,340.0L385.1,339.0L385.0,338.1L385.0,337.5L384.9,336.5L384.8,335.5L384.5,335.0L384.0,334.0L383.8,333.5L383.5,332.7L383.3,332.0L383.0,331.0L383.0,330.5L383.0,329.5L383.2,329.0L383.6,328.5L384.5,328.2L385.5,328.2L386.5,328.4L387.0,328.6L388.0,328.9L388.5,329.1L389.4,329.5L390.0,329.8L390.5,330.0L391.4,330.5L392.0,330.8L392.5,331.1L393.2,331.5L394.0,332.0L394.5,332.3L395.0,332.6L395.6,333.0L396.4,333.5L397.0,333.9L397.5,334.2L398.0,334.6L398.6,335.0L399.3,335.5L400.0,336.0L400.5,336.3L401.0,336.7L401.5,337.0L402.2,337.5L403.0,338.0L403.5,338.3L404.0,338.7L404.5,339.1L405.1,339.5L405.7,340.0L406.3,340.5L406.8,341.0L407.4,341.5L407.9,342.0L408.4,342.5L409.0,342.9L409.5,343.4L410.0,343.8L410.5,344.2L411.0,344.6L411.5,345.1L412.0,345.5L412.6,346.0L413.2,346.5L413.8,347.0L414.3,347.5L414.9,348.0L415.5,348.5L416.0,349.0L416.5,349.4L417.0,349.9L417.5,350.3L418.0,350.7L418.5,351.2L419.0,351.7L419.5,352.1L420.0,352.6L420.5,353.0L421.0,353.5L421.5,354.0L422.1,354.5L422.6,355.0L423.1,355.5L423.7,356.0L424.2,356.5L424.7,357.0L425.2,357.5L425.8,358.0L426.3,358.5L426.8,359.0L427.3,359.5L427.8,360.0L428.3,360.5L428.8,361.0L429.3,361.5L429.8,362.0L430.2,362.5L430.7,363.0L431.2,363.5L431.7,364.0L432.1,364.5L432.6,365.0L433.1,365.5L433.5,366.0L434.0,366.5L434.5,367.0L435.0,367.6L435.5,368.1L436.0,368.7L436.5,369.2L437.0,369.8L437.5,370.4L438.0,370.9L438.5,371.5L438.9,372.0L439.4,372.5L439.8,373.0L440.3,373.5L440.7,374.0L441.1,374.5L441.5,375.0L442.0,375.5L442.5,376.1L443.0,376.7L443.5,377.3L444.0,377.9L444.5,378.5L444.9,379.0L445.3,379.5L445.7,380.0L446.1,380.5L446.5,381.0L447.0,381.6L447.5,382.3L448.0,382.9L448.4,383.5L448.8,384.0L449.2,384.5L449.6,385.0L450.0,385.6L450.5,386.2L451.0,386.9L451.4,387.5L451.8,388.0L452.1,388.5L452.5,389.0L453.0,389.8L453.5,390.5L453.8,391.0L454.2,391.5L454.5,392.0L455.0,392.8L455.4,393.5L455.7,394.0L456.0,394.5L456.5,395.3L456.9,396.0L457.1,396.5L457.5,397.2L457.9,398.0L458.1,398.5L458.5,399.4L458.8,400.0L459.0,400.7L459.2,401.5L459.4,402.5L459.4,403.5L459.0,404.3L458.5,404.6Z" fill="#00c0ff"/><path d="M456.5,402.7L455.5,402.8L454.5,402.6L454.0,402.5L453.0,402.1L452.5,401.9L451.6,401.5L451.0,401.2L450.5,400.9L449.7,400.5L449.0,400.1L448.5,399.8L448.0,399.5L447.2,399.0L446.5,398.6L446.0,398.3L445.5,397.9L444.9,397.5L444.1,397.0L443.5,396.6L443.0,396.2L442.5,395.9L442.0,395.5L441.3,395.0L440.6,394.5L440.0,394.0L439.5,393.7L439.0,393.3L438.5,392.9L438.0,392.5L437.4,392.0L436.7,391.5L436.1,391.0L435.5,390.5L435.0,390.1L434.5,389.7L434.0,389.3L433.5,388.9L433.0,388.5L432.4,388.0L431.8,387.5L431.2,387.0L430.6,386.5L430.1,386.0L429.5,385.5L429.0,385.1L428.5,384.7L428.0,384.2L427.5,383.8L427.0,383.3L426.5,382.9L426.0,382.4L425.5,382.0L425.0,381.5L424.4,381.0L423.9,380.5L423.3,380.0L422.8,379.5L422.2,379.0L421.7,378.5L421.2,378.0L420.6,377.5L420.1,377.0L419.6,376.5L419.1,376.0L418.5,375.5L418.0,375.0L417.5,374.5L417.0,374.0L416.5,373.5L416.0,373.0L415.5,372.5L415.0,372.0L414.5,371.5L414.0,371.0L413.5,370.5L413.0,370.0L412.5,369.5L412.0,369.0L411.5,368.5L411.1,368.0L410.6,367.5L410.1,367.0L409.6,366.5L409.2,366.0L408.7,365.5L408.2,365.0L407.8,364.5L407.3,364.0L406.8,363.5L406.4,363.0L405.9,362.5L405.5,362.0L405.0,361.5L404.2,361.0L403.5,360.8L402.6,360.5L402.0,360.3L401.2,360.0L400.5,359.7L400.0,359.5L399.0,359.0L398.5,358.7L398.0,358.4L397.4,358.0L396.6,357.5L396.0,357.0L395.5,356.6L395.0,356.2L394.5,355.8L394.0,355.3L393.5,354.8L393.0,354.2L392.5,353.6L392.0,353.0L391.6,352.5L391.3,352.0L390.9,351.5L390.5,350.8L390.0,350.0L389.8,349.5L389.5,348.9L389.1,348.0L389.0,347.5L388.6,346.5L388.5,346.0L388.3,345.0L388.1,344.0L388.0,343.2L387.9,342.5L387.9,341.5L387.9,340.5L387.9,339.5L387.5,338.7L387.1,338.0L386.8,337.5L386.5,336.8L386.1,336.0L385.9,335.5L385.5,334.6L385.3,334.0L385.0,333.0L384.9,332.5L384.9,331.5L385.1,331.0L385.5,330.5L386.5,330.2L387.5,330.2L388.5,330.4L389.0,330.6L390.0,331.0L390.5,331.2L391.2,331.5L392.0,331.9L392.5,332.1L393.2,332.5L394.0,332.9L394.5,333.2L395.0,333.5L395.8,334.0L396.5,334.5L397.0,334.8L397.5,335.1L398.1,335.5L398.8,336.0L399.5,336.4L400.0,336.8L400.5,337.2L401.0,337.5L401.7,338.0L402.4,338.5L403.0,339.0L403.5,339.3L404.0,339.7L404.5,340.1L405.0,340.5L405.7,341.0L406.3,341.5L406.9,342.0L407.5,342.5L408.0,342.9L408.5,343.3L409.0,343.7L409.5,344.1L410.0,344.5L410.6,345.0L411.2,345.5L411.8,346.0L412.4,346.5L413.0,347.0L413.5,347.5L414.0,347.9L414.5,348.3L415.0,348.8L415.5,349.2L416.0,349.6L416.5,350.1L417.0,350.5L417.5,351.0L418.1,351.5L418.7,352.0L419.2,352.5L419.8,353.0L420.3,353.5L420.9,354.0L421.4,354.5L421.9,355.0L422.5,355.5L423.0,356.0L423.5,356.5L424.0,356.9L424.5,357.4L425.0,357.9L425.5,358.4L426.0,358.9L426.5,359.4L427.0,359.9L427.5,360.4L428.0,360.9L428.5,361.4L429.0,361.9L429.5,362.4L430.0,362.9L430.5,363.4L431.0,364.0L431.5,364.5L432.0,365.0L432.4,365.5L432.9,366.0L433.4,366.5L433.8,367.0L434.3,367.5L434.7,368.0L435.2,368.5L435.6,369.0L436.1,369.5L436.5,370.0L437.0,370.6L437.5,371.1L438.0,371.7L438.5,372.3L439.0,372.8L439.5,373.4L440.0,374.0L440.4,374.5L440.8,375.0L441.3,375.5L441.7,376.0L442.1,376.5L442.5,377.0L443.0,377.6L443.5,378.2L444.0,378.8L444.5,379.4L445.0,380.0L445.4,380.5L445.8,381.0L446.1,381.5L446.5,382.0L447.0,382.6L447.5,383.3L448.0,383.9L448.4,384.5L448.8,385.0L449.2,385.5L449.5,386.0L450.0,386.6L450.5,387.3L451.0,388.0L451.3,388.5L451.6,389.0L452.0,389.5L452.5,390.3L453.0,391.0L453.3,391.5L453.6,392.0L454.0,392.7L454.5,393.5L454.8,394.0L455.0,394.5L455.5,395.4L455.8,396.0L456.1,396.5L456.5,397.5L456.7,398.0L457.0,398.8L457.2,399.5L457.4,400.5L457.4,401.5L457.0,402.4L456.5,402.7Z" fill="#00e0fa"/><path d="M454.0,401.0L453.5,401.0L452.5,400.7L451.8,400.5L451.0,400.2L450.5,400.0L449.6,399.5L449.0,399.2L448.5,398.9L447.7,398.5L447.0,398.1L446.5,397.8L446.0,397.5L445.3,397.0L444.5,396.5L444.0,396.2L443.5,395.8L443.0,395.5L442.3,395.0L441.6,394.5L441.0,394.1L440.5,393.7L440.0,393.3L439.5,393.0L438.9,392.5L438.2,392.0L437.6,391.5L437.0,391.1L436.5,390.7L436.0,390.3L435.5,389.9L435.0,389.5L434.4,389.0L433.8,388.5L433.2,388.0L432.6,387.5L432.0,387.0L431.5,386.6L431.0,386.2L430.5,385.7L430.0,385.3L429.5,384.9L429.0,384.5L428.5,384.0L427.9,383.5L427.3,383.0L426.8,382.5L426.2,382.0L425.6,381.5L425.1,381.0L424.5,380.5L424.0,380.0L423.5,379.6L423.0,379.1L422.5,378.6L422.0,378.2L421.5,377.7L421.0,377.2L420.5,376.8L420.0,376.3L419.5,375.8L419.0,375.3L418.5,374.9L418.0,374.4L417.5,373.9L417.0,373.4L416.5,372.9L416.0,372.4L415.5,371.9L415.0,371.4L414.5,370.9L414.0,370.4L413.5,369.9L413.0,369.4L412.5,368.9L412.0,368.3L411.5,367.8L411.0,367.3L410.5,366.8L410.0,366.2L409.5,365.7L409.0,365.2L408.5,364.6L408.0,364.1L407.5,363.5L407.0,363.0L406.6,362.5L406.1,362.0L405.7,361.5L405.2,361.0L404.8,360.5L404.3,360.0L403.8,359.5L403.4,359.0L403.0,358.5L402.2,358.0L401.5,357.6L401.0,357.4L400.4,357.0L399.6,356.5L399.0,356.1L398.5,355.8L398.0,355.4L397.5,355.0L396.9,354.5L396.3,354.0L395.8,353.5L395.3,353.0L394.9,352.5L394.4,352.0L394.0,351.4L393.5,350.7L393.0,350.0L392.7,349.5L392.4,349.0L392.0,348.2L391.7,347.5L391.4,347.0L391.0,346.0L390.9,345.5L390.6,344.5L390.4,344.0L390.2,343.0L390.0,342.0L390.0,341.5L389.5,340.6L389.2,340.0L388.9,339.5L388.5,338.8L388.1,338.0L387.8,337.5L387.5,336.7L387.2,336.0L387.0,335.4L386.8,334.5L386.7,333.5L387.0,332.5L387.5,332.1L388.0,332.0L389.0,332.0L389.5,332.1L390.5,332.4L391.0,332.5L392.0,332.9L392.5,333.2L393.2,333.5L394.0,333.9L394.5,334.2L395.1,334.5L396.0,335.0L396.5,335.3L397.0,335.6L397.6,336.0L398.4,336.5L399.0,336.9L399.5,337.3L400.0,337.6L400.6,338.0L401.3,338.5L402.0,339.0L402.5,339.4L403.0,339.7L403.5,340.1L404.0,340.5L404.7,341.0L405.4,341.5L406.0,342.0L406.5,342.4L407.0,342.8L407.5,343.2L408.0,343.6L408.5,344.0L409.2,344.5L409.8,345.0L410.4,345.5L411.0,346.0L411.5,346.4L412.0,346.9L412.5,347.3L413.0,347.7L413.5,348.1L414.0,348.6L414.5,349.0L415.1,349.5L415.7,350.0L416.2,350.5L416.8,351.0L417.4,351.5L418.0,352.0L418.5,352.5L419.0,352.9L419.5,353.4L420.0,353.8L420.5,354.3L421.0,354.7L421.5,355.2L422.0,355.7L422.5,356.1L423.0,356.6L423.5,357.1L424.0,357.5L424.5,358.0L425.0,358.5L425.5,359.0L426.0,359.5L426.6,360.0L427.1,360.5L427.6,361.0L428.1,361.5L428.5,362.0L429.0,362.5L429.5,363.0L430.0,363.5L430.5,364.0L431.0,364.6L431.5,365.1L432.0,365.7L432.5,366.2L433.0,366.7L433.5,367.3L434.0,367.9L434.5,368.4L435.0,369.0L435.5,369.5L435.9,370.0L436.3,370.5L436.8,371.0L437.2,371.5L437.6,372.0L438.1,372.5L438.5,373.0L439.0,373.6L439.5,374.2L440.0,374.8L440.5,375.4L441.0,376.0L441.4,376.5L441.8,377.0L442.3,377.5L442.7,378.0L443.1,378.5L443.5,379.0L444.0,379.7L444.5,380.3L445.0,380.9L445.4,381.5L445.8,382.0L446.2,382.5L446.6,383.0L447.0,383.6L447.5,384.2L448.0,384.9L448.4,385.5L448.8,386.0L449.1,386.5L449.5,387.0L450.0,387.8L450.5,388.5L450.8,389.0L451.2,389.5L451.5,390.0L452.0,390.8L452.4,391.5L452.7,392.0L453.0,392.5L453.5,393.4L453.8,394.0L454.1,394.5L454.5,395.4L454.8,396.0L455.0,396.6L455.3,397.5L455.5,398.1L455.7,399.0L455.6,400.0L455.3,400.5L454.5,401.0L454.0,401.0Z" fill="#15ffe1"/><path d="M453.0,399.2L452.0,399.3L451.0,399.1L450.5,398.9L449.5,398.5L449.0,398.3L448.4,398.0L447.5,397.5L447.0,397.2L446.5,397.0L445.7,396.5L445.0,396.0L444.5,395.7L444.0,395.4L443.4,395.0L442.6,394.5L442.0,394.1L441.5,393.7L441.0,393.4L440.5,393.0L439.8,392.5L439.1,392.0L438.5,391.5L438.0,391.2L437.5,390.8L437.0,390.4L436.5,390.0L435.9,389.5L435.2,389.0L434.6,388.5L434.0,388.0L433.5,387.6L433.0,387.2L432.5,386.8L432.0,386.4L431.5,386.0L431.0,385.5L430.4,385.0L429.8,384.5L429.2,384.0L428.6,383.5L428.0,383.0L427.5,382.5L427.0,382.1L426.5,381.6L426.0,381.2L425.5,380.8L425.0,380.3L424.5,379.9L424.0,379.4L423.5,378.9L423.0,378.5L422.5,378.0L421.9,377.5L421.4,377.0L420.9,376.5L420.3,376.0L419.8,375.5L419.3,375.0L418.8,374.5L418.2,374.0L417.7,373.5L417.2,373.0L416.7,372.5L416.2,372.0L415.7,371.5L415.2,371.0L414.7,370.5L414.2,370.0L413.7,369.5L413.3,369.0L412.8,368.5L412.3,368.0L411.8,367.5L411.3,367.0L410.9,366.5L410.4,366.0L409.9,365.5L409.5,365.0L409.0,364.5L408.5,364.0L408.0,363.4L407.5,362.9L407.0,362.3L406.5,361.7L406.0,361.2L405.5,360.6L405.0,360.1L404.5,359.5L404.1,359.0L403.6,358.5L403.2,358.0L402.8,357.5L402.4,357.0L401.9,356.5L401.5,356.0L401.0,355.4L400.5,354.8L400.0,354.2L399.5,353.6L399.1,353.0L398.7,352.5L398.2,352.0L397.8,351.5L397.5,351.0L397.0,350.4L396.5,349.8L396.0,349.1L395.6,348.5L395.2,348.0L394.8,347.5L394.5,347.0L394.0,346.3L393.5,345.6L393.1,345.0L392.8,344.5L392.4,344.0L392.0,343.3L391.5,342.5L391.2,342.0L390.9,341.5L390.5,340.8L390.1,340.0L389.8,339.5L389.5,338.9L389.1,338.0L388.9,337.5L388.6,336.5L388.5,335.9L388.5,335.0L388.6,334.5L389.0,334.0L390.0,333.7L391.0,333.8L391.7,334.0L392.5,334.3L393.1,334.5L394.0,334.9L394.5,335.2L395.2,335.5L396.0,335.9L396.5,336.2L397.0,336.5L397.8,337.0L398.5,337.4L399.0,337.8L399.5,338.1L400.1,338.5L400.9,339.0L401.5,339.4L402.0,339.8L402.5,340.1L403.0,340.5L403.7,341.0L404.4,341.5L405.0,342.0L405.5,342.3L406.0,342.7L406.5,343.1L407.0,343.5L407.6,344.0L408.3,344.5L408.9,345.0L409.5,345.5L410.0,345.9L410.5,346.3L411.0,346.7L411.5,347.1L412.0,347.5L412.6,348.0L413.2,348.5L413.7,349.0L414.3,349.5L414.9,350.0L415.5,350.5L416.0,350.9L416.5,351.4L417.0,351.8L417.5,352.2L418.0,352.7L418.5,353.1L419.0,353.5L419.5,354.0L420.1,354.5L420.6,355.0L421.2,355.5L421.8,356.0L422.3,356.5L422.8,357.0L423.4,357.5L423.9,358.0L424.4,358.5L425.0,359.0L425.5,359.5L426.0,360.0L426.5,360.5L427.0,361.0L427.5,361.5L428.0,362.0L428.5,362.5L429.0,363.0L429.4,363.5L429.9,364.0L430.4,364.5L430.8,365.0L431.3,365.5L431.8,366.0L432.2,366.5L432.7,367.0L433.1,367.5L433.6,368.0L434.0,368.5L434.5,369.1L435.0,369.7L435.5,370.2L436.0,370.8L436.5,371.4L437.0,372.0L437.4,372.5L437.9,373.0L438.3,373.5L438.7,374.0L439.1,374.5L439.5,375.0L440.0,375.6L440.5,376.2L441.0,376.8L441.5,377.4L442.0,378.0L442.4,378.5L442.8,379.0L443.2,379.5L443.6,380.0L444.0,380.6L444.5,381.2L445.0,381.9L445.5,382.5L445.8,383.0L446.2,383.5L446.6,384.0L447.0,384.6L447.5,385.3L448.0,386.0L448.4,386.5L448.7,387.0L449.0,387.5L449.5,388.2L450.0,389.0L450.3,389.5L450.6,390.0L451.0,390.6L451.5,391.4L451.8,392.0L452.1,392.5L452.5,393.3L452.8,394.0L453.1,394.5L453.5,395.5L453.6,396.0L453.9,397.0L453.9,398.0L453.5,399.0L453.0,399.2Z" fill="#2cffca"/><path d="M451.0,397.6L450.1,397.5L449.5,397.4L448.5,397.0L448.0,396.8L447.4,396.5L446.5,396.1L446.0,395.8L445.5,395.5L444.6,395.0L444.0,394.6L443.5,394.3L443.0,394.0L442.3,393.5L441.5,393.0L441.0,392.6L440.5,392.3L440.0,391.9L439.4,391.5L438.7,391.0L438.0,390.5L437.5,390.1L437.0,389.7L436.5,389.3L436.0,388.9L435.4,388.5L434.8,388.0L434.2,387.5L433.6,387.0L433.0,386.5L432.5,386.1L432.0,385.7L431.5,385.3L431.0,384.9L430.5,384.5L429.9,384.0L429.4,383.5L428.8,383.0L428.2,382.5L427.6,382.0L427.0,381.5L426.5,381.0L426.0,380.6L425.5,380.1L425.0,379.7L424.5,379.2L424.0,378.8L423.5,378.3L423.0,377.9L422.5,377.4L422.0,377.0L421.5,376.5L421.0,376.0L420.5,375.5L419.9,375.0L419.4,374.5L418.9,374.0L418.4,373.5L417.9,373.0L417.3,372.5L416.8,372.0L416.3,371.5L415.8,371.0L415.3,370.5L414.8,370.0L414.4,369.5L413.9,369.0L413.4,368.5L412.9,368.0L412.4,367.5L412.0,367.0L411.5,366.5L411.0,366.0L410.5,365.4L410.0,364.9L409.5,364.4L409.0,363.8L408.5,363.3L408.0,362.7L407.5,362.1L407.0,361.6L406.5,361.0L406.0,360.5L405.6,360.0L405.2,359.5L404.7,359.0L404.3,358.5L403.9,358.0L403.5,357.5L403.0,357.0L402.5,356.4L402.0,355.8L401.5,355.2L401.0,354.6L400.6,354.0L400.2,353.5L399.8,353.0L399.4,352.5L399.0,352.0L398.5,351.4L398.0,350.7L397.5,350.1L397.1,349.5L396.7,349.0L396.3,348.5L396.0,348.0L395.5,347.3L395.0,346.6L394.6,346.0L394.2,345.5L393.9,345.0L393.5,344.4L393.0,343.6L392.7,343.0L392.4,342.5L392.0,341.8L391.6,341.0L391.3,340.5L391.0,339.8L390.7,339.0L390.5,338.5L390.3,337.5L390.3,336.5L390.6,336.0L391.5,335.6L392.5,335.6L393.5,335.9L394.0,336.1L395.0,336.5L395.5,336.7L396.1,337.0L397.0,337.5L397.5,337.8L398.0,338.1L398.7,338.5L399.5,339.0L400.0,339.3L400.5,339.6L401.1,340.0L401.8,340.5L402.5,341.0L403.0,341.3L403.5,341.7L404.0,342.0L404.6,342.5L405.3,343.0L406.0,343.5L406.5,343.9L407.0,344.3L407.5,344.7L408.0,345.0L408.6,345.5L409.2,346.0L409.8,346.5L410.5,347.0L411.0,347.4L411.5,347.9L412.0,348.3L412.5,348.7L413.0,349.1L413.5,349.5L414.1,350.0L414.7,350.5L415.3,351.0L415.9,351.5L416.5,352.0L417.0,352.4L417.5,352.9L418.0,353.3L418.5,353.7L419.0,354.1L419.5,354.6L420.0,355.0L420.6,355.5L421.1,356.0L421.7,356.5L422.2,357.0L422.8,357.5L423.3,358.0L423.9,358.5L424.4,359.0L424.9,359.5L425.4,360.0L425.9,360.5L426.5,361.0L427.0,361.5L427.4,362.0L427.9,362.5L428.4,363.0L428.9,363.5L429.4,364.0L429.8,364.5L430.3,365.0L430.8,365.5L431.2,366.0L431.7,366.5L432.1,367.0L432.5,367.5L433.0,368.0L433.5,368.6L434.0,369.2L434.5,369.8L435.0,370.4L435.5,371.0L436.0,371.5L436.4,372.0L436.8,372.5L437.2,373.0L437.6,373.5L438.0,374.0L438.5,374.6L439.0,375.2L439.5,375.8L440.0,376.4L440.4,377.0L440.8,377.5L441.2,378.0L441.6,378.5L442.0,379.0L442.5,379.6L443.0,380.3L443.5,380.9L444.0,381.5L444.3,382.0L444.7,382.5L445.1,383.0L445.5,383.6L446.0,384.3L446.5,385.0L446.9,385.5L447.2,386.0L447.5,386.5L448.0,387.2L448.5,388.0L448.8,388.5L449.1,389.0L449.5,389.6L450.0,390.4L450.3,391.0L450.6,391.5L451.0,392.3L451.3,393.0L451.5,393.5L451.9,394.5L452.0,395.0L452.2,396.0L452.0,397.0L451.5,397.5L451.0,397.6Z" fill="#46ffb0"/><path d="M449.5,395.7L448.5,395.7L447.7,395.5L447.0,395.3L446.4,395.0L445.5,394.6L445.0,394.3L444.4,394.0L443.6,393.5L443.0,393.1L442.5,392.8L442.0,392.5L441.2,392.0L440.5,391.5L440.0,391.2L439.5,390.8L439.0,390.5L438.4,390.0L437.7,389.5L437.0,389.0L436.5,388.6L436.0,388.2L435.5,387.8L435.0,387.4L434.4,387.0L433.8,386.5L433.2,386.0L432.6,385.5L432.0,385.0L431.5,384.6L431.0,384.2L430.5,383.8L430.0,383.4L429.5,382.9L429.0,382.5L428.4,382.0L427.8,381.5L427.2,381.0L426.7,380.5L426.1,380.0L425.5,379.5L425.0,379.0L424.5,378.6L424.0,378.1L423.5,377.7L423.0,377.2L422.5,376.8L422.0,376.3L421.5,375.8L421.0,375.4L420.5,374.9L420.0,374.4L419.5,374.0L419.0,373.5L418.5,373.0L418.0,372.5L417.5,372.0L417.0,371.5L416.5,371.0L416.0,370.5L415.5,370.0L415.0,369.5L414.5,369.0L414.0,368.5L413.5,367.9L413.0,367.4L412.5,366.9L412.0,366.3L411.5,365.8L411.0,365.3L410.5,364.7L410.0,364.2L409.5,363.6L409.0,363.1L408.5,362.5L408.1,362.0L407.6,361.5L407.2,361.0L406.7,360.5L406.3,360.0L405.9,359.5L405.4,359.0L405.0,358.5L404.5,357.9L404.0,357.3L403.5,356.7L403.0,356.1L402.5,355.5L402.1,355.0L401.7,354.5L401.3,354.0L400.9,353.5L400.5,353.0L400.0,352.4L399.5,351.7L399.0,351.1L398.6,350.5L398.2,350.0L397.8,349.5L397.5,349.0L397.0,348.3L396.5,347.6L396.1,347.0L395.8,346.5L395.4,346.0L395.0,345.3L394.5,344.5L394.2,344.0L393.9,343.5L393.5,342.7L393.1,342.0L392.9,341.5L392.5,340.5L392.4,340.0L392.2,339.0L392.4,338.0L393.0,337.6L394.0,337.6L395.0,337.8L395.6,338.0L396.5,338.4L397.0,338.6L397.8,339.0L398.5,339.4L399.0,339.7L399.5,340.0L400.4,340.5L401.0,340.9L401.5,341.2L402.0,341.6L402.6,342.0L403.4,342.5L404.0,342.9L404.5,343.3L405.0,343.7L405.5,344.0L406.1,344.5L406.8,345.0L407.5,345.5L408.0,345.9L408.5,346.3L409.0,346.7L409.5,347.1L410.0,347.5L410.7,348.0L411.3,348.5L411.9,349.0L412.5,349.5L413.0,349.9L413.5,350.3L414.0,350.7L414.5,351.1L415.0,351.5L415.7,352.0L416.3,352.5L416.9,353.0L417.5,353.5L418.0,353.9L418.5,354.3L419.0,354.8L419.5,355.2L420.0,355.6L420.5,356.0L421.0,356.5L421.6,357.0L422.2,357.5L422.7,358.0L423.3,358.5L423.8,359.0L424.3,359.5L424.9,360.0L425.4,360.5L425.9,361.0L426.4,361.5L426.9,362.0L427.4,362.5L427.9,363.0L428.4,363.5L428.8,364.0L429.3,364.5L429.8,365.0L430.2,365.5L430.7,366.0L431.1,366.5L431.5,367.0L432.0,367.5L432.5,368.1L433.0,368.7L433.5,369.3L434.0,369.9L434.5,370.5L434.9,371.0L435.3,371.5L435.7,372.0L436.1,372.5L436.5,373.0L437.0,373.6L437.5,374.3L438.0,374.9L438.5,375.5L438.9,376.0L439.3,376.5L439.7,377.0L440.1,377.5L440.5,378.1L441.0,378.7L441.5,379.4L442.0,380.0L442.4,380.5L442.7,381.0L443.1,381.5L443.5,382.0L444.0,382.7L444.5,383.4L444.9,384.0L445.3,384.5L445.6,385.0L446.0,385.5L446.5,386.3L447.0,387.0L447.3,387.5L447.6,388.0L448.0,388.7L448.5,389.5L448.7,390.0L449.0,390.5L449.5,391.5L449.7,392.0L450.0,392.7L450.2,393.5L450.4,394.5L450.0,395.5L449.5,395.7Z" fill="#5fff96"/><path d="M448.0,393.6L447.0,393.8L446.0,393.6L445.5,393.4L444.5,393.0L444.0,392.7L443.5,392.5L442.7,392.0L442.0,391.6L441.5,391.3L441.0,391.0L440.3,390.5L439.5,390.0L439.0,389.6L438.5,389.3L438.0,388.9L437.4,388.5L436.8,388.0L436.1,387.5L435.5,387.0L435.0,386.7L434.5,386.3L434.0,385.9L433.5,385.5L432.9,385.0L432.3,384.5L431.7,384.0L431.1,383.5L430.5,383.0L430.0,382.6L429.5,382.2L429.0,381.8L428.5,381.4L428.0,380.9L427.5,380.5L426.9,380.0L426.3,379.5L425.8,379.0L425.2,378.5L424.6,378.0L424.1,377.5L423.5,377.0L423.0,376.5L422.5,376.1L422.0,375.6L421.5,375.2L421.0,374.7L420.5,374.2L420.0,373.8L419.5,373.3L419.0,372.8L418.5,372.3L418.0,371.8L417.5,371.3L417.0,370.8L416.5,370.3L416.0,369.8L415.5,369.3L415.0,368.8L414.5,368.3L414.0,367.7L413.5,367.2L413.0,366.7L412.5,366.1L412.0,365.6L411.5,365.0L411.0,364.5L410.6,364.0L410.1,363.5L409.7,363.0L409.2,362.5L408.8,362.0L408.4,361.5L407.9,361.0L407.5,360.5L407.0,359.9L406.5,359.3L406.0,358.7L405.5,358.1L405.0,357.5L404.5,357.0L404.1,356.5L403.7,356.0L403.3,355.5L402.9,355.0L402.5,354.5L402.0,353.8L401.5,353.2L401.0,352.6L400.6,352.0L400.2,351.5L399.8,351.0L399.5,350.5L399.0,349.9L398.5,349.2L398.0,348.5L397.7,348.0L397.4,347.5L397.0,346.9L396.5,346.1L396.1,345.5L395.9,345.0L395.5,344.3L395.1,343.5L394.9,343.0L394.5,342.0L394.4,341.5L394.4,340.5L394.7,340.0L395.5,339.8L396.5,339.9L397.0,340.0L398.0,340.4L398.5,340.7L399.1,341.0L400.0,341.5L400.5,341.8L401.0,342.0L401.7,342.5L402.5,343.0L403.0,343.3L403.5,343.7L404.0,344.0L404.7,344.5L405.4,345.0L406.0,345.4L406.5,345.8L407.0,346.2L407.5,346.5L408.1,347.0L408.8,347.5L409.4,348.0L410.0,348.4L410.5,348.8L411.0,349.2L411.5,349.6L412.1,350.0L412.7,350.5L413.4,351.0L414.0,351.5L414.5,351.9L415.0,352.3L415.5,352.6L416.0,353.0L416.6,353.5L417.2,354.0L417.9,354.5L418.5,355.0L419.0,355.4L419.5,355.8L420.0,356.2L420.5,356.6L421.0,357.1L421.5,357.5L422.1,358.0L422.7,358.5L423.2,359.0L423.8,359.5L424.3,360.0L424.8,360.5L425.3,361.0L425.9,361.5L426.4,362.0L426.9,362.5L427.3,363.0L427.8,363.5L428.3,364.0L428.8,364.5L429.2,365.0L429.7,365.5L430.1,366.0L430.5,366.5L431.0,367.0L431.5,367.6L432.0,368.2L432.5,368.8L433.0,369.5L433.4,370.0L433.8,370.5L434.2,371.0L434.6,371.5L435.0,372.0L435.5,372.7L436.0,373.3L436.5,374.0L436.9,374.5L437.3,375.0L437.7,375.5L438.0,376.0L438.5,376.6L439.0,377.3L439.5,377.9L439.9,378.5L440.3,379.0L440.7,379.5L441.1,380.0L441.5,380.6L442.0,381.3L442.5,382.0L442.9,382.5L443.2,383.0L443.6,383.5L444.0,384.1L444.5,384.8L445.0,385.5L445.3,386.0L445.6,386.5L446.0,387.1L446.5,388.0L446.8,388.5L447.1,389.0L447.5,389.9L447.8,390.5L448.0,391.0L448.3,392.0L448.3,393.0L448.0,393.6Z" fill="#76ff80"/><path d="M445.0,391.5L444.5,391.5L443.5,391.2L443.0,391.0L442.1,390.5L441.5,390.2L441.0,389.9L440.3,389.5L439.5,389.0L439.0,388.6L438.5,388.3L438.0,388.0L437.4,387.5L436.7,387.0L436.0,386.5L435.5,386.1L435.0,385.8L434.5,385.4L434.0,385.0L433.4,384.5L432.7,384.0L432.1,383.5L431.5,383.0L431.0,382.6L430.5,382.2L430.0,381.8L429.5,381.4L429.0,381.0L428.4,380.5L427.8,380.0L427.2,379.5L426.7,379.0L426.1,378.5L425.5,378.0L425.0,377.6L424.5,377.2L424.0,376.7L423.5,376.3L423.0,375.8L422.5,375.4L422.0,374.9L421.5,374.5L421.0,374.0L420.5,373.5L419.9,373.0L419.4,372.5L418.9,372.0L418.4,371.5L417.9,371.0L417.4,370.5L416.9,370.0L416.4,369.5L415.9,369.0L415.4,368.5L414.9,368.0L414.5,367.5L414.0,367.0L413.5,366.4L413.0,365.9L412.5,365.3L412.0,364.8L411.5,364.2L411.0,363.6L410.5,363.1L410.0,362.5L409.6,362.0L409.2,361.5L408.8,361.0L408.3,360.5L407.9,360.0L407.5,359.5L407.0,358.9L406.5,358.3L406.0,357.7L405.5,357.0L405.1,356.5L404.7,356.0L404.3,355.5L403.9,355.0L403.5,354.5L403.0,353.9L402.5,353.2L402.0,352.6L401.6,352.0L401.2,351.5L400.9,351.0L400.5,350.5L400.0,349.7L399.5,349.0L399.2,348.5L398.9,348.0L398.5,347.4L398.0,346.5L397.7,346.0L397.5,345.5L397.1,344.5L397.0,344.0L397.0,343.0L397.4,342.5L398.0,342.4L398.5,342.5L399.5,342.8L400.0,343.0L401.0,343.5L401.5,343.8L402.0,344.1L402.7,344.5L403.5,345.0L404.0,345.3L404.5,345.7L405.0,346.0L405.7,346.5L406.5,347.0L407.0,347.4L407.5,347.8L408.0,348.1L408.5,348.5L409.2,349.0L409.9,349.5L410.5,349.9L411.0,350.3L411.5,350.6L412.0,351.0L412.7,351.5L413.4,352.0L414.0,352.4L414.5,352.7L415.0,353.1L415.6,353.5L416.3,354.0L416.9,354.5L417.5,354.9L418.0,355.3L418.5,355.7L419.0,356.1L419.6,356.5L420.2,357.0L420.8,357.5L421.4,358.0L422.0,358.5L422.5,358.9L423.0,359.4L423.5,359.8L424.0,360.3L424.5,360.7L425.0,361.2L425.5,361.7L426.0,362.2L426.5,362.7L427.0,363.2L427.5,363.7L428.0,364.3L428.5,364.8L429.0,365.4L429.5,365.9L430.0,366.5L430.4,367.0L430.8,367.5L431.2,368.0L431.6,368.5L432.0,369.0L432.5,369.6L433.0,370.3L433.5,371.0L433.9,371.5L434.3,372.0L434.6,372.5L435.0,373.0L435.5,373.7L436.0,374.4L436.4,375.0L436.8,375.5L437.1,376.0L437.5,376.6L438.0,377.3L438.5,377.9L438.9,378.5L439.3,379.0L439.6,379.5L440.0,380.0L440.5,380.7L441.0,381.4L441.4,382.0L441.8,382.5L442.1,383.0L442.5,383.5L443.0,384.3L443.5,385.0L443.8,385.5L444.1,386.0L444.5,386.7L444.9,387.5L445.2,388.0L445.5,388.7L445.8,389.5L446.0,390.4L446.0,390.6L445.5,391.5L445.0,391.5Z" fill="#90ff66"/><path d="M442.5,388.7L441.5,388.6L441.0,388.4L440.1,388.0L439.5,387.7L439.0,387.4L438.4,387.0L437.6,386.5L437.0,386.1L436.5,385.8L436.0,385.4L435.4,385.0L434.7,384.5L434.1,384.0L433.5,383.6L433.0,383.2L432.5,382.8L432.0,382.4L431.4,382.0L430.8,381.5L430.2,381.0L429.5,380.5L429.0,380.1L428.5,379.7L428.0,379.3L427.5,378.9L427.0,378.5L426.4,378.0L425.8,377.5L425.2,377.0L424.6,376.5L424.0,376.0L423.5,375.5L423.0,375.1L422.5,374.7L422.0,374.2L421.5,373.8L421.0,373.3L420.5,372.8L420.0,372.4L419.5,371.9L419.0,371.4L418.5,370.9L418.0,370.4L417.5,369.9L417.0,369.4L416.5,368.9L416.0,368.4L415.5,367.8L415.0,367.3L414.5,366.7L414.0,366.2L413.5,365.6L413.0,365.0L412.5,364.5L412.1,364.0L411.7,363.5L411.3,363.0L410.9,362.5L410.5,362.0L410.0,361.4L409.5,360.8L409.0,360.2L408.5,359.6L408.1,359.0L407.7,358.5L407.3,358.0L406.9,357.5L406.5,357.0L406.0,356.3L405.5,355.6L405.0,355.0L404.6,354.5L404.3,354.0L403.9,353.5L403.5,352.9L403.0,352.2L402.5,351.5L402.2,351.0L401.9,350.5L401.5,349.8L401.0,349.0L400.8,348.5L400.5,347.8L400.3,347.0L400.5,346.0L401.0,345.9L401.7,346.0L402.5,346.3L403.0,346.5L403.9,347.0L404.5,347.3L405.0,347.6L405.6,348.0L406.4,348.5L407.0,348.9L407.5,349.2L408.0,349.5L408.7,350.0L409.5,350.5L410.0,350.8L410.5,351.2L411.0,351.5L411.8,352.0L412.5,352.4L413.0,352.7L413.5,353.0L414.2,353.5L415.0,354.0L415.5,354.3L416.0,354.6L416.6,355.0L417.3,355.5L418.0,356.0L418.5,356.3L419.0,356.7L419.5,357.1L420.1,357.5L420.7,358.0L421.3,358.5L421.9,359.0L422.5,359.5L423.0,359.9L423.5,360.4L424.0,360.8L424.5,361.3L425.0,361.8L425.5,362.3L426.0,362.8L426.5,363.3L427.0,363.8L427.5,364.3L428.0,364.9L428.5,365.4L429.0,366.0L429.4,366.5L429.8,367.0L430.2,367.5L430.6,368.0L431.0,368.5L431.5,369.1L432.0,369.8L432.5,370.5L432.8,371.0L433.2,371.5L433.5,372.0L434.0,372.7L434.5,373.5L434.8,374.0L435.1,374.5L435.5,375.0L436.0,375.8L436.4,376.5L436.8,377.0L437.1,377.5L437.5,378.1L438.0,378.9L438.4,379.5L438.8,380.0L439.1,380.5L439.5,381.1L440.0,381.8L440.4,382.5L440.8,383.0L441.1,383.5L441.5,384.2L442.0,385.0L442.2,385.5L442.5,386.0L442.9,387.0L443.1,387.5L443.0,388.4L442.5,388.7Z" fill="#a6ff4f"/><path d="M439.0,384.9L438.0,384.9L437.1,384.5L436.5,384.2L436.0,383.9L435.3,383.5L434.5,383.0L434.0,382.7L433.5,382.3L433.0,382.0L432.3,381.5L431.6,381.0L431.0,380.6L430.5,380.2L430.0,379.9L429.5,379.5L428.8,379.0L428.2,378.5L427.5,378.0L427.0,377.6L426.5,377.2L426.0,376.8L425.5,376.4L425.0,376.0L424.4,375.5L423.8,375.0L423.2,374.5L422.6,374.0L422.0,373.5L421.5,373.0L421.0,372.6L420.5,372.1L420.0,371.7L419.5,371.2L419.0,370.7L418.5,370.2L418.0,369.7L417.5,369.2L417.0,368.7L416.5,368.1L416.0,367.6L415.5,367.0L415.0,366.5L414.6,366.0L414.2,365.5L413.7,365.0L413.3,364.5L412.9,364.0L412.5,363.5L412.0,362.9L411.5,362.2L411.0,361.6L410.6,361.0L410.2,360.5L409.8,360.0L409.5,359.5L409.0,358.8L408.5,358.1L408.1,357.5L407.7,357.0L407.4,356.5L407.0,355.9L406.5,355.1L406.1,354.5L405.8,354.0L405.5,353.4L405.1,352.5L404.9,352.0L404.6,351.0L405.0,350.4L406.0,350.5L406.5,350.6L407.4,351.0L408.0,351.3L408.5,351.5L409.5,352.0L410.0,352.3L410.5,352.5L411.5,353.0L412.0,353.3L412.5,353.5L413.4,354.0L414.0,354.3L414.5,354.6L415.2,355.0L416.0,355.4L416.5,355.7L417.0,356.0L417.7,356.5L418.5,357.0L419.0,357.4L419.5,357.7L420.0,358.1L420.6,358.5L421.2,359.0L421.8,359.5L422.4,360.0L423.0,360.5L423.5,360.9L424.0,361.4L424.5,361.8L425.0,362.3L425.5,362.8L426.0,363.3L426.5,363.8L427.0,364.4L427.5,364.9L428.0,365.5L428.4,366.0L428.9,366.5L429.3,367.0L429.7,367.5L430.0,368.0L430.5,368.6L431.0,369.3L431.5,370.0L431.8,370.5L432.1,371.0L432.5,371.6L433.0,372.4L433.4,373.0L433.7,373.5L434.0,374.1L434.5,375.0L434.8,375.5L435.1,376.0L435.5,376.8L435.9,377.5L436.2,378.0L436.5,378.6L437.0,379.4L437.3,380.0L437.6,380.5L438.0,381.2L438.4,382.0L438.7,382.5L439.0,383.3L439.2,384.0L439.0,384.9Z" fill="#c0ff36"/><path d="M435.0,380.8L434.0,380.8L433.1,380.5L432.5,380.2L432.0,380.0L431.2,379.5L430.5,379.1L430.0,378.8L429.5,378.5L428.8,378.0L428.0,377.5L427.5,377.1L427.0,376.8L426.5,376.4L426.0,376.0L425.3,375.5L424.7,375.0L424.0,374.5L423.5,374.1L423.0,373.7L422.5,373.2L422.0,372.8L421.5,372.4L421.0,371.9L420.5,371.4L420.0,371.0L419.5,370.5L419.0,370.0L418.5,369.5L418.0,369.0L417.5,368.5L417.0,367.9L416.5,367.4L416.0,366.8L415.5,366.2L415.0,365.6L414.5,365.0L414.1,364.5L413.7,364.0L413.3,363.5L412.9,363.0L412.5,362.4L412.0,361.7L411.5,361.0L411.2,360.5L410.8,360.0L410.5,359.5L410.0,358.6L409.6,358.0L409.4,357.5L409.0,356.7L408.7,356.0L408.5,355.1L408.5,354.7L409.0,354.0L409.5,354.0L410.0,354.0L411.0,354.2L411.9,354.5L412.5,354.7L413.3,355.0L414.0,355.3L414.5,355.5L415.5,356.0L416.0,356.2L416.5,356.5L417.4,357.0L418.0,357.4L418.5,357.7L419.0,358.0L419.7,358.5L420.5,359.0L421.0,359.4L421.5,359.8L422.0,360.2L422.5,360.6L423.0,361.0L423.5,361.5L424.1,362.0L424.6,362.5L425.1,363.0L425.6,363.5L426.1,364.0L426.6,364.5L427.0,365.0L427.5,365.5L428.0,366.1L428.5,366.7L429.0,367.4L429.5,368.0L429.8,368.5L430.2,369.0L430.5,369.5L431.0,370.3L431.5,371.0L431.8,371.5L432.0,372.0L432.5,372.9L432.8,373.5L433.1,374.0L433.5,374.9L433.8,375.5L434.0,376.0L434.4,377.0L434.6,377.5L435.0,378.5L435.1,379.0L435.3,380.0L435.0,380.8Z" fill="#daff1c"/><path d="M432.5,378.0L431.5,378.1L431.0,378.0L430.0,377.6L429.5,377.4L428.8,377.0L428.0,376.6L427.5,376.2L427.0,375.9L426.4,375.5L425.6,375.0L425.0,374.5L424.5,374.2L424.0,373.8L423.5,373.4L423.0,373.0L422.4,372.5L421.9,372.0L421.3,371.5L420.7,371.0L420.2,370.5L419.7,370.0L419.2,369.5L418.7,369.0L418.2,368.5L417.7,368.0L417.3,367.5L416.8,367.0L416.4,366.5L416.0,366.0L415.5,365.4L415.0,364.8L414.5,364.1L414.0,363.5L413.7,363.0L413.3,362.5L413.0,362.0L412.5,361.2L412.1,360.5L411.8,360.0L411.5,359.3L411.2,358.5L411.0,358.0L410.9,357.0L411.0,356.5L412.0,356.0L412.1,356.0L413.0,356.1L414.0,356.3L414.7,356.5L415.5,356.8L416.0,357.0L417.0,357.5L417.5,357.7L418.0,358.0L418.8,358.5L419.5,358.9L420.0,359.3L420.5,359.6L421.0,360.0L421.7,360.5L422.3,361.0L422.9,361.5L423.5,362.0L424.0,362.5L424.5,362.9L425.0,363.4L425.5,363.9L426.0,364.5L426.5,365.0L426.9,365.5L427.4,366.0L427.8,366.5L428.2,367.0L428.5,367.5L429.0,368.1L429.5,368.9L429.9,369.5L430.2,370.0L430.5,370.5L431.0,371.4L431.3,372.0L431.6,372.5L432.0,373.5L432.2,374.0L432.5,374.9L432.7,375.5L432.9,376.5L432.8,377.5L432.5,378.0Z" fill="#f1fc05"/><path d="M431.0,376.0L430.0,376.3L429.0,376.1L428.5,375.9L427.7,375.5L427.0,375.1L426.5,374.8L426.0,374.5L425.2,374.0L424.5,373.5L424.0,373.1L423.5,372.7L423.0,372.3L422.5,371.9L422.0,371.5L421.4,371.0L420.9,370.5L420.3,370.0L419.8,369.5L419.3,369.0L418.8,368.5L418.4,368.0L417.9,367.5L417.5,367.0L417.0,366.5L416.5,365.9L416.0,365.2L415.5,364.6L415.1,364.0L414.7,363.5L414.4,363.0L414.0,362.3L413.5,361.5L413.3,361.0L413.0,360.4L412.7,359.5L412.6,358.5L413.0,357.7L413.5,357.5L414.5,357.5L415.0,357.5L416.0,357.8L416.5,358.0L417.5,358.4L418.0,358.7L418.6,359.0L419.5,359.5L420.0,359.8L420.5,360.2L421.0,360.5L421.6,361.0L422.3,361.5L422.9,362.0L423.5,362.5L424.0,363.0L424.5,363.5L425.0,364.0L425.5,364.5L426.0,365.0L426.4,365.5L426.8,366.0L427.2,366.5L427.6,367.0L428.0,367.5L428.5,368.2L429.0,369.0L429.3,369.5L429.6,370.0L430.0,370.8L430.4,371.5L430.6,372.0L431.0,373.0L431.1,373.5L431.3,374.5L431.3,375.5L431.0,376.0Z" fill="#ffde00"/><path d="M429.5,374.7L428.5,374.8L427.5,374.5L427.0,374.3L426.4,374.0L425.6,373.5L425.0,373.1L424.5,372.8L424.0,372.5L423.4,372.0L422.8,371.5L422.1,371.0L421.6,370.5L421.0,370.0L420.5,369.5L420.0,369.0L419.5,368.5L419.0,368.0L418.5,367.5L418.1,367.0L417.7,366.5L417.2,366.0L416.8,365.5L416.5,365.0L416.0,364.3L415.5,363.6L415.1,363.0L414.9,362.5L414.5,361.8L414.2,361.0L414.0,360.2L414.0,359.5L414.2,359.0L415.0,358.6L416.0,358.7L417.0,358.9L417.5,359.1L418.4,359.5L419.0,359.8L419.5,360.1L420.1,360.5L420.9,361.0L421.5,361.4L422.0,361.8L422.5,362.2L423.0,362.6L423.5,363.1L424.0,363.5L424.5,364.0L425.0,364.5L425.5,365.1L426.0,365.7L426.5,366.3L427.0,366.9L427.4,367.5L427.8,368.0L428.1,368.5L428.5,369.1L429.0,370.0L429.2,370.5L429.5,371.1L429.8,372.0L430.0,372.8L430.1,373.5L430.0,374.1L429.5,374.7Z" fill="#ffc400"/><path d="M428.0,373.5L427.5,373.5L426.5,373.2L426.0,373.0L425.1,372.5L424.5,372.1L424.0,371.8L423.5,371.5L422.9,371.0L422.3,370.5L421.7,370.0L421.1,369.5L420.6,369.0L420.1,368.5L419.6,368.0L419.1,367.5L418.7,367.0L418.3,366.5L417.9,366.0L417.5,365.5L417.0,364.9L416.5,364.1L416.1,363.5L415.9,363.0L415.5,362.2L415.3,361.5L415.2,360.5L415.5,360.0L416.5,359.7L417.5,359.9L418.0,360.0L419.0,360.5L419.5,360.7L420.0,361.0L420.8,361.5L421.5,362.0L422.0,362.4L422.5,362.8L423.0,363.2L423.5,363.6L424.0,364.1L424.5,364.6L425.0,365.1L425.5,365.7L426.0,366.3L426.5,367.0L426.9,367.5L427.2,368.0L427.5,368.5L428.0,369.3L428.3,370.0L428.5,370.5L428.8,371.5L428.9,372.5L428.5,373.3L428.0,373.5Z" fill="#ffa600"/><path d="M427.5,372.1L426.5,372.3L425.6,372.0L425.0,371.7L424.5,371.4L423.8,371.0L423.1,370.5L422.5,370.1L422.0,369.6L421.5,369.2L421.0,368.7L420.5,368.3L420.0,367.8L419.5,367.2L419.0,366.6L418.5,366.0L418.1,365.5L417.8,365.0L417.4,364.5L417.0,363.7L416.7,363.0L416.5,362.5L416.4,361.5L416.7,361.0L417.5,360.8L418.5,361.0L419.0,361.1L419.8,361.5L420.5,361.9L421.0,362.2L421.5,362.6L422.1,363.0L422.7,363.5L423.3,364.0L423.8,364.5L424.3,365.0L424.7,365.5L425.2,366.0L425.6,366.5L426.0,367.1L426.5,367.8L426.9,368.5L427.2,369.0L427.5,369.7L427.8,370.5L427.8,371.5L427.5,372.1Z" fill="#ff8900"/><path d="M426.0,371.1L425.4,371.0L424.5,370.7L424.0,370.4L423.4,370.0L422.7,369.5L422.0,369.0L421.5,368.5L421.0,368.1L420.5,367.6L420.0,367.0L419.6,366.5L419.2,366.0L418.8,365.5L418.5,365.0L418.0,364.2L417.7,363.5L417.6,362.5L418.0,362.0L419.0,362.0L419.5,362.1L420.3,362.5L421.0,362.9L421.5,363.2L422.0,363.6L422.5,364.0L423.1,364.5L423.6,365.0L424.1,365.5L424.5,366.0L425.0,366.6L425.5,367.3L426.0,368.0L426.2,368.5L426.5,369.2L426.7,370.0L426.5,370.8L426.0,371.1Z" fill="#ff6f00"/><path d="M425.0,369.7L424.0,369.5L423.5,369.2L423.0,368.9L422.4,368.5L421.8,368.0L421.3,367.5L420.8,367.0L420.3,366.5L419.9,366.0L419.5,365.3L419.1,364.5L418.9,364.0L419.0,363.5L420.0,363.3L420.7,363.5L421.5,364.0L422.0,364.3L422.5,364.7L423.0,365.2L423.5,365.7L424.0,366.3L424.5,366.9L424.9,367.5L425.1,368.0L425.4,369.0L425.0,369.7Z" fill="#ff5100"/><path d="M423.0,367.6L422.5,367.3L422.0,366.9L421.5,366.4L421.0,365.5L421.0,365.5L422.0,365.5L422.5,365.9L423.0,366.5L423.3,367.0L423.0,367.6Z" fill="#ff3700"/><ellipse cx="436" cy="285" rx="1.4" ry="4" transform="rotate(-10 436 285)" fill="#22c8f0"/><ellipse cx="436" cy="285" rx="0.77" ry="2.20" transform="rotate(-10 436 285)" fill="#30e8e0"/><ellipse cx="400.9" cy="313.2" rx="2" ry="1.5" transform="rotate(0 400.9 313.2)" fill="#22c8f0"/><ellipse cx="400.9" cy="313.2" rx="1.10" ry="0.83" transform="rotate(0 400.9 313.2)" fill="#30e8e0"/><ellipse cx="392.8" cy="318.6" rx="1.5" ry="1.5" transform="rotate(0 392.8 318.6)" fill="#22c8f0"/><ellipse cx="392.8" cy="318.6" rx="0.83" ry="0.83" transform="rotate(0 392.8 318.6)" fill="#30e8e0"/><ellipse cx="455.7" cy="337.4" rx="5" ry="1.6" transform="rotate(15 455.7 337.4)" fill="#22c8f0"/><ellipse cx="455.7" cy="337.4" rx="2.75" ry="0.88" transform="rotate(15 455.7 337.4)" fill="#30e8e0"/><ellipse cx="479.3" cy="233" rx="2" ry="2.5" transform="rotate(0 479.3 233)" fill="#22c8f0"/><ellipse cx="479.3" cy="233" rx="1.10" ry="1.38" transform="rotate(0 479.3 233)" fill="#30e8e0"/><ellipse cx="469" cy="411" rx="2" ry="2" transform="rotate(0 469 411)" fill="#22c8f0"/><ellipse cx="469" cy="411" rx="1.10" ry="1.10" transform="rotate(0 469 411)" fill="#30e8e0"/><ellipse cx="399.5" cy="390" rx="2" ry="1.5" transform="rotate(0 399.5 390)" fill="#22c8f0"/><ellipse cx="399.5" cy="390" rx="1.10" ry="0.83" transform="rotate(0 399.5 390)" fill="#30e8e0"/><ellipse cx="358.3" cy="353.9" rx="2.5" ry="2" transform="rotate(0 358.3 353.9)" fill="#22c8f0"/><ellipse cx="358.3" cy="353.9" rx="1.38" ry="1.10" transform="rotate(0 358.3 353.9)" fill="#30e8e0"/><ellipse cx="378" cy="400" rx="1.5" ry="1.5" transform="rotate(0 378 400)" fill="#22c8f0"/><ellipse cx="378" cy="400" rx="0.83" ry="0.83" transform="rotate(0 378 400)" fill="#30e8e0"/><line x1="271" y1="328.9" x2="492" y2="328.9" stroke="#d8ecff" stroke-width="1.8"/><line x1="381.7" y1="218" x2="381.7" y2="439" stroke="#d8ecff" stroke-width="1.8"/><line x1="271" y1="439" x2="492" y2="218" stroke="#d8ecff" stroke-width="1.8"/><line x1="381.5" y1="328.5" x2="492" y2="439" stroke="#d8ecff" stroke-width="1.8"/><line x1="381.5" y1="439.0" x2="387.0" y2="439.0" stroke="#d8ecff" stroke-width="1.2"/><line x1="271.0" y1="328.5" x2="271.0" y2="331.7" stroke="#d8ecff" stroke-width="1.2"/><line x1="381.5" y1="416.9" x2="387.0" y2="416.9" stroke="#d8ecff" stroke-width="1.2"/><line x1="293.1" y1="328.5" x2="293.1" y2="331.7" stroke="#d8ecff" stroke-width="1.2"/><line x1="381.5" y1="394.8" x2="387.0" y2="394.8" stroke="#d8ecff" stroke-width="1.2"/><line x1="315.2" y1="328.5" x2="315.2" y2="331.7" stroke="#d8ecff" stroke-width="1.2"/><line x1="381.5" y1="372.7" x2="387.0" y2="372.7" stroke="#d8ecff" stroke-width="1.2"/><line x1="337.3" y1="328.5" x2="337.3" y2="331.7" stroke="#d8ecff" stroke-width="1.2"/><line x1="381.5" y1="350.6" x2="387.0" y2="350.6" stroke="#d8ecff" stroke-width="1.2"/><line x1="359.4" y1="328.5" x2="359.4" y2="331.7" stroke="#d8ecff" stroke-width="1.2"/><line x1="381.5" y1="306.4" x2="387.0" y2="306.4" stroke="#d8ecff" stroke-width="1.2"/><line x1="403.6" y1="328.5" x2="403.6" y2="331.7" stroke="#d8ecff" stroke-width="1.2"/><line x1="381.5" y1="284.3" x2="387.0" y2="284.3" stroke="#d8ecff" stroke-width="1.2"/><line x1="425.7" y1="328.5" x2="425.7" y2="331.7" stroke="#d8ecff" stroke-width="1.2"/><line x1="381.5" y1="262.2" x2="387.0" y2="262.2" stroke="#d8ecff" stroke-width="1.2"/><line x1="447.8" y1="328.5" x2="447.8" y2="331.7" stroke="#d8ecff" stroke-width="1.2"/><line x1="381.5" y1="240.1" x2="387.0" y2="240.1" stroke="#d8ecff" stroke-width="1.2"/><line x1="469.9" y1="328.5" x2="469.9" y2="331.7" stroke="#d8ecff" stroke-width="1.2"/><line x1="381.5" y1="218.0" x2="387.0" y2="218.0" stroke="#d8ecff" stroke-width="1.2"/><line x1="492.0" y1="328.5" x2="492.0" y2="331.7" stroke="#d8ecff" stroke-width="1.2"/><text x="384.5" y="229.5" font-size="12" fill="#d8ecff" letter-spacing="0.8">H<tspan font-size="7" dy="4.5">r</tspan><tspan dy="-4.5"> (Oe)</tspan></text><text x="391.0" y="244.4" font-size="12" fill="#d8ecff">2000</text><text x="391.0" y="288.6" font-size="12" fill="#d8ecff">1000</text><text x="391.0" y="377.0" font-size="12" fill="#d8ecff">-1000</text><text x="391.0" y="421.2" font-size="12" fill="#d8ecff">-2000</text><text x="293.1" y="344.0" font-size="12" fill="#d8ecff" text-anchor="middle">-2000</text><text x="337.3" y="344.0" font-size="12" fill="#d8ecff" text-anchor="middle">-1000</text><text x="425.7" y="344.0" font-size="12" fill="#d8ecff" text-anchor="middle">1000</text><text x="469.9" y="344.0" font-size="12" fill="#d8ecff" text-anchor="middle">2000</text><text x="491" y="325.5" font-size="12" fill="#d8ecff" text-anchor="end" letter-spacing="0.9">H (Oe)</text><text x="292.5" y="432.5" font-size="14" font-weight="bold" fill="#fff">H<tspan font-size="8" dy="6">u</tspan></text><text x="459.5" y="432.5" font-size="14" font-weight="bold" fill="#fff">H<tspan font-size="8" dy="6">c</tspan></text></g><rect x="270.1" y="218" width="40.7" height="33.7" fill="#000"/><text x="290.5" y="242.5" font-size="20" font-weight="bold" fill="#fff" text-anchor="middle">(e)</text><clipPath id="clipf"><rect x="505" y="218" width="221" height="221"/></clipPath><g clip-path="url(#clipf)"><rect x="505" y="218" width="221" height="221" fill="#0066ff"/><path d="M695.0,409.0L694.0,409.4L693.0,409.3L692.0,409.0L691.5,408.8L690.8,408.5L690.0,408.1L689.5,407.8L689.0,407.5L688.2,407.0L687.5,406.5L687.0,406.2L686.5,405.8L686.0,405.4L685.4,405.0L684.8,404.5L684.2,404.0L683.6,403.5L683.1,403.0L682.5,402.5L682.0,402.0L681.5,401.5L681.0,401.0L680.5,400.5L680.0,400.0L679.5,399.5L679.1,399.0L678.6,398.5L678.2,398.0L677.8,397.5L677.3,397.0L677.0,396.5L676.5,395.9L676.0,395.3L675.5,394.5L675.1,394.0L674.8,393.5L674.5,393.0L674.0,392.2L673.6,391.5L673.4,391.0L673.0,390.1L672.5,389.5L672.0,389.1L671.5,388.7L671.0,388.3L670.5,387.9L670.0,387.5L669.4,387.0L668.8,386.5L668.2,386.0L667.6,385.5L667.0,385.0L666.5,384.6L666.0,384.2L665.5,383.7L665.0,383.3L664.5,382.9L664.0,382.4L663.5,382.0L663.0,381.5L662.4,381.0L661.8,380.5L661.3,380.0L660.7,379.5L660.2,379.0L659.6,378.5L659.1,378.0L658.5,377.5L658.0,377.0L657.5,376.6L657.0,376.1L656.5,375.6L656.0,375.2L655.5,374.7L655.0,374.2L654.5,373.7L654.0,373.3L653.5,372.8L653.0,372.3L652.5,371.8L652.0,371.3L651.5,370.9L651.0,370.4L650.5,369.9L650.0,369.4L649.5,368.9L649.0,368.4L648.5,367.9L648.0,367.4L647.5,366.9L647.0,366.4L646.5,365.9L646.0,365.4L645.5,364.9L645.0,364.4L644.5,363.9L644.0,363.4L643.5,362.9L643.0,362.3L642.5,361.8L642.0,361.4L641.5,360.9L641.0,360.4L640.5,359.9L640.0,359.5L639.5,359.0L638.9,358.5L638.3,358.0L637.7,357.5L637.2,357.0L636.7,356.5L636.2,356.0L635.8,355.5L635.3,355.0L634.9,354.5L634.5,353.9L634.0,353.2L633.5,352.5L633.1,352.0L632.8,351.5L632.5,351.0L632.0,350.3L631.5,349.6L631.1,349.0L630.7,348.5L630.3,348.0L629.9,347.5L629.4,347.0L628.8,346.5L628.2,346.0L627.6,345.5L627.0,345.0L626.5,344.5L626.0,344.1L625.5,343.6L625.0,343.1L624.5,342.6L624.0,342.1L623.5,341.5L623.0,341.0L622.6,340.5L622.1,340.0L621.7,339.5L621.3,339.0L620.9,338.5L620.5,337.9L620.0,337.3L619.5,336.5L619.1,336.0L618.8,335.5L618.5,335.0L618.0,334.1L617.7,333.5L617.4,333.0L617.0,332.0L616.8,331.5L616.5,330.6L616.4,330.0L616.2,329.0L616.3,328.0L616.5,327.4L617.0,326.8L617.5,326.5L618.5,326.2L619.5,326.3L620.5,326.5L621.0,326.6L622.0,327.0L622.5,327.2L623.1,327.5L624.0,327.9L624.5,328.2L625.0,328.5L625.8,329.0L626.5,329.5L627.0,329.8L627.5,330.2L628.0,330.6L628.6,331.0L629.2,331.5L629.8,332.0L630.4,332.5L631.0,333.0L631.5,333.5L632.0,333.9L632.5,334.4L633.0,334.9L633.5,335.4L634.0,335.9L634.5,336.5L635.0,337.0L635.4,337.5L635.9,338.0L636.3,338.5L636.7,339.0L637.1,339.5L637.5,340.1L638.0,340.7L638.5,341.5L638.9,342.0L639.4,342.5L640.0,343.0L640.5,343.4L641.0,343.8L641.5,344.3L642.0,344.7L642.5,345.1L643.0,345.6L643.5,346.0L644.1,346.5L644.6,347.0L645.2,347.5L645.8,348.0L646.3,348.5L646.9,349.0L647.4,349.5L647.9,350.0L648.5,350.5L649.0,351.0L649.5,351.4L650.0,351.9L650.5,352.3L651.0,352.6L652.0,352.6L653.0,352.7L654.0,352.9L654.5,353.0L655.5,353.3L656.2,353.5L657.0,353.8L657.5,354.0L658.5,354.5L659.0,354.8L659.5,355.0L660.3,355.5L661.0,356.0L661.5,356.3L662.0,356.7L662.5,357.0L663.1,357.5L663.7,358.0L664.3,358.5L664.9,359.0L665.4,359.5L665.9,360.0L666.4,360.5L666.9,361.0L667.3,361.5L667.8,362.0L668.2,362.5L668.6,363.0L669.0,363.5L669.5,364.2L670.0,365.0L670.4,365.5L670.7,366.0L671.0,366.6L671.5,367.5L671.7,368.0L672.0,368.6L672.4,369.5L672.6,370.0L672.9,371.0L673.0,371.5L673.2,372.5L673.3,373.5L673.3,374.5L673.2,375.5L673.5,376.2L674.0,376.9L674.5,377.5L674.9,378.0L675.4,378.5L675.8,379.0L676.2,379.5L676.6,380.0L677.0,380.5L677.5,381.1L678.0,381.8L678.5,382.4L679.0,383.0L679.4,383.5L679.8,384.0L680.1,384.5L680.5,385.0L681.0,385.7L681.5,386.4L681.9,387.0L682.3,387.5L682.6,388.0L683.0,388.6L683.5,389.3L683.9,390.0L684.3,390.5L684.5,391.0L685.0,391.8L685.4,392.5L685.6,393.0L686.0,393.9L686.5,394.5L687.0,395.0L687.5,395.5L688.0,396.0L688.5,396.5L688.9,397.0L689.4,397.5L689.8,398.0L690.2,398.5L690.7,399.0L691.0,399.5L691.5,400.1L692.0,400.7L692.5,401.5L692.9,402.0L693.2,402.5L693.5,403.0L694.0,403.8L694.4,404.5L694.6,405.0L695.0,405.9L695.2,406.5L695.4,407.5L695.3,408.5L695.0,409.0Z" fill="#0084ff"/><path d="M693.5,408.0L692.5,408.2L691.7,408.0L691.0,407.8L690.4,407.5L689.5,407.1L689.0,406.8L688.5,406.5L687.7,406.0L687.0,405.5L686.5,405.2L686.0,404.8L685.5,404.4L685.0,404.0L684.4,403.5L683.8,403.0L683.2,402.5L682.7,402.0L682.2,401.5L681.6,401.0L681.1,400.5L680.7,400.0L680.2,399.5L679.7,399.0L679.3,398.5L678.8,398.0L678.4,397.5L678.0,397.0L677.5,396.4L677.0,395.7L676.5,395.0L676.1,394.5L675.8,394.0L675.5,393.5L675.0,392.6L674.7,392.0L674.4,391.5L674.1,390.5L673.9,390.0L673.5,389.4L673.0,389.0L672.3,388.5L671.7,388.0L671.0,387.5L670.5,387.1L670.0,386.7L669.5,386.3L669.0,385.9L668.5,385.5L667.9,385.0L667.3,384.5L666.7,384.0L666.1,383.5L665.5,383.0L665.0,382.6L664.5,382.2L664.0,381.7L663.5,381.3L663.0,380.9L662.5,380.4L662.0,380.0L661.5,379.5L660.9,379.0L660.4,378.5L659.8,378.0L659.2,377.5L658.7,377.0L658.2,376.5L657.6,376.0L657.1,375.5L656.6,375.0L656.0,374.5L655.5,374.0L655.0,373.5L654.5,373.1L654.0,372.6L653.5,372.1L653.0,371.6L652.5,371.2L652.0,370.7L651.5,370.2L651.0,369.7L650.5,369.2L650.0,368.8L649.5,368.3L649.0,367.8L648.5,367.3L648.0,366.8L647.5,366.3L647.0,365.8L646.5,365.3L646.0,364.8L645.5,364.2L645.0,363.7L644.5,363.2L644.0,362.7L643.5,362.2L643.0,361.7L642.5,361.2L642.0,360.7L641.5,360.2L641.0,359.7L640.5,359.2L640.0,358.8L639.5,358.3L639.0,357.9L638.5,357.4L638.0,356.9L637.5,356.4L637.0,355.9L636.5,355.4L636.0,354.8L635.5,354.2L635.0,353.5L634.6,353.0L634.2,352.5L633.9,352.0L633.5,351.4L633.0,350.7L632.5,350.0L632.2,349.5L631.8,349.0L631.4,348.5L631.0,347.9L630.5,347.2L630.0,346.7L629.5,346.3L629.0,345.9L628.5,345.5L628.0,345.0L627.4,344.5L626.8,344.0L626.3,343.5L625.8,343.0L625.3,342.5L624.8,342.0L624.3,341.5L623.8,341.0L623.4,340.5L623.0,340.0L622.5,339.4L622.0,338.8L621.5,338.2L621.0,337.5L620.6,337.0L620.3,336.5L620.0,336.0L619.5,335.2L619.1,334.5L618.8,334.0L618.5,333.3L618.1,332.5L618.0,332.0L617.7,331.0L617.6,330.0L617.7,329.0L618.0,328.3L618.5,327.9L619.5,327.6L620.5,327.6L621.5,327.8L622.1,328.0L623.0,328.4L623.5,328.6L624.3,329.0L625.0,329.4L625.5,329.7L626.0,330.0L626.8,330.5L627.5,331.0L628.0,331.4L628.5,331.7L629.0,332.1L629.5,332.5L630.0,333.0L630.6,333.5L631.2,334.0L631.7,334.5L632.2,335.0L632.7,335.5L633.2,336.0L633.7,336.5L634.2,337.0L634.6,337.5L635.0,338.0L635.5,338.6L636.0,339.2L636.5,339.8L637.0,340.5L637.4,341.0L637.7,341.5L638.0,342.0L638.5,342.5L639.1,343.0L639.7,343.5L640.3,344.0L640.9,344.5L641.5,345.0L642.0,345.4L642.5,345.8L643.0,346.3L643.5,346.7L644.0,347.1L644.5,347.6L645.0,348.0L645.5,348.5L646.1,349.0L646.7,349.5L647.2,350.0L647.8,350.5L648.3,351.0L648.9,351.5L649.4,352.0L649.9,352.5L650.5,353.0L651.0,353.5L651.5,353.9L652.0,354.4L652.5,354.8L653.0,355.3L653.5,355.6L654.3,356.0L655.0,356.1L656.0,356.4L656.5,356.6L657.5,356.9L658.0,357.1L658.8,357.5L659.5,357.9L660.0,358.2L660.5,358.5L661.3,359.0L662.0,359.5L662.5,359.9L663.0,360.3L663.5,360.8L664.0,361.3L664.5,361.7L665.0,362.3L665.5,362.8L666.0,363.4L666.5,364.0L666.8,364.5L667.2,365.0L667.5,365.5L668.0,366.3L668.4,367.0L668.6,367.5L669.0,368.3L669.3,369.0L669.5,369.8L669.7,370.5L669.8,371.5L669.8,372.5L670.0,373.0L670.5,373.6L671.0,374.2L671.5,374.8L672.0,375.4L672.5,376.0L672.9,376.5L673.4,377.0L673.8,377.5L674.2,378.0L674.6,378.5L675.0,379.0L675.5,379.6L676.0,380.2L676.5,380.9L677.0,381.5L677.4,382.0L677.8,382.5L678.2,383.0L678.5,383.5L679.0,384.2L679.5,384.8L680.0,385.5L680.3,386.0L680.7,386.5L681.0,387.0L681.5,387.8L681.9,388.5L682.2,389.0L682.5,389.5L683.0,390.4L683.3,391.0L683.5,391.5L683.8,392.5L684.2,393.0L684.8,393.5L685.3,394.0L685.8,394.5L686.4,395.0L686.9,395.5L687.3,396.0L687.8,396.5L688.3,397.0L688.7,397.5L689.2,398.0L689.6,398.5L690.0,399.0L690.5,399.6L691.0,400.3L691.5,401.0L691.9,401.5L692.2,402.0L692.5,402.5L693.0,403.4L693.3,404.0L693.6,404.5L693.9,405.5L694.1,406.0L694.1,407.0L694.0,407.5L693.5,408.0Z" fill="#00a4ff"/><path d="M692.5,407.1L691.5,407.1L690.9,407.0L690.0,406.7L689.5,406.5L688.6,406.0L688.0,405.6L687.5,405.3L687.0,405.0L686.3,404.5L685.6,404.0L685.0,403.5L684.5,403.1L684.0,402.7L683.5,402.2L683.0,401.8L682.5,401.3L682.0,400.8L681.5,400.3L681.0,399.8L680.5,399.3L680.0,398.7L679.5,398.2L679.0,397.6L678.5,397.0L678.1,396.5L677.7,396.0L677.4,395.5L677.0,395.0L676.5,394.2L676.1,393.5L675.8,393.0L675.5,392.4L675.1,391.5L675.0,391.0L674.8,390.0L674.5,389.4L673.9,389.0L673.2,388.5L672.5,388.0L672.0,387.6L671.5,387.3L671.0,386.9L670.5,386.5L669.9,386.0L669.2,385.5L668.6,385.0L668.0,384.5L667.5,384.1L667.0,383.7L666.5,383.3L666.0,382.9L665.5,382.5L664.9,382.0L664.4,381.5L663.8,381.0L663.2,380.5L662.6,380.0L662.1,379.5L661.5,379.0L661.0,378.6L660.5,378.1L660.0,377.7L659.5,377.2L659.0,376.8L658.5,376.3L658.0,375.8L657.5,375.4L657.0,374.9L656.5,374.5L656.0,374.0L655.5,373.5L654.9,373.0L654.4,372.5L653.9,372.0L653.4,371.5L652.8,371.0L652.3,370.5L651.8,370.0L651.3,369.5L650.8,369.0L650.2,368.5L649.7,368.0L649.2,367.5L648.7,367.0L648.2,366.5L647.7,366.0L647.2,365.5L646.7,365.0L646.2,364.5L645.7,364.0L645.3,363.5L644.8,363.0L644.3,362.5L643.8,362.0L643.3,361.5L642.8,361.0L642.3,360.5L641.8,360.0L641.3,359.5L640.8,359.0L640.2,358.5L639.7,358.0L639.2,357.5L638.6,357.0L638.1,356.5L637.6,356.0L637.2,355.5L636.7,355.0L636.3,354.5L635.9,354.0L635.5,353.5L635.0,352.9L634.5,352.2L634.0,351.5L633.7,351.0L633.4,350.5L633.0,350.0L632.5,349.2L632.0,348.5L631.6,348.0L631.3,347.5L630.9,347.0L630.5,346.4L629.9,346.0L629.3,345.5L628.7,345.0L628.1,344.5L627.5,344.0L627.0,343.5L626.5,343.1L626.0,342.6L625.5,342.1L625.0,341.6L624.5,341.0L624.0,340.5L623.6,340.0L623.2,339.5L622.8,339.0L622.4,338.5L622.0,338.0L621.5,337.3L621.0,336.6L620.6,336.0L620.3,335.5L620.0,334.9L619.5,334.0L619.3,333.5L619.0,332.7L618.8,332.0L618.6,331.0L618.7,330.0L619.0,329.3L619.5,328.9L620.5,328.6L621.5,328.7L622.5,328.9L623.0,329.1L623.9,329.5L624.5,329.8L625.0,330.0L625.8,330.5L626.5,330.9L627.0,331.3L627.5,331.6L628.0,332.0L628.7,332.5L629.3,333.0L629.9,333.5L630.5,334.0L631.0,334.5L631.5,334.9L632.0,335.4L632.5,335.9L633.0,336.4L633.5,337.0L634.0,337.5L634.4,338.0L634.8,338.5L635.2,339.0L635.6,339.5L636.0,340.0L636.5,340.7L637.0,341.4L637.4,342.0L637.8,342.5L638.4,343.0L639.0,343.5L639.5,343.9L640.0,344.3L640.5,344.7L641.0,345.1L641.5,345.5L642.1,346.0L642.7,346.5L643.2,347.0L643.8,347.5L644.4,348.0L645.0,348.5L645.5,349.0L646.0,349.4L646.5,349.9L647.0,350.3L647.5,350.8L648.0,351.2L648.5,351.7L649.0,352.1L649.5,352.6L650.0,353.0L650.5,353.5L651.0,354.0L651.6,354.5L652.1,355.0L652.6,355.5L653.2,356.0L653.7,356.5L654.2,357.0L654.7,357.5L655.2,358.0L655.8,358.5L656.3,359.0L656.8,359.5L657.3,360.0L657.8,360.5L658.3,361.0L658.8,361.5L659.3,362.0L659.8,362.5L660.3,363.0L660.7,363.5L661.2,364.0L661.7,364.5L662.2,365.0L662.6,365.5L663.0,366.0L663.5,366.5L664.0,367.1L664.5,367.6L665.0,368.1L665.5,368.7L666.0,369.2L666.5,369.8L667.0,370.3L667.5,370.8L668.0,371.4L668.5,372.0L669.0,372.5L669.4,373.0L669.8,373.5L670.3,374.0L670.7,374.5L671.1,375.0L671.5,375.5L672.0,376.0L672.5,376.6L673.0,377.2L673.5,377.8L674.0,378.5L674.4,379.0L674.8,379.5L675.2,380.0L675.6,380.5L676.0,381.0L676.5,381.7L677.0,382.3L677.5,383.0L677.9,383.5L678.2,384.0L678.6,384.5L679.0,385.1L679.5,385.9L679.9,386.5L680.2,387.0L680.5,387.5L681.0,388.4L681.3,389.0L681.5,389.5L681.9,390.5L682.0,391.0L682.4,392.0L683.0,392.5L683.5,392.9L684.0,393.3L684.5,393.8L685.0,394.2L685.5,394.7L686.0,395.2L686.5,395.7L687.0,396.2L687.5,396.7L688.0,397.3L688.5,397.8L689.0,398.4L689.5,399.0L689.9,399.5L690.3,400.0L690.6,400.5L691.0,401.0L691.5,401.8L691.9,402.5L692.2,403.0L692.5,403.6L692.9,404.5L693.0,405.0L693.2,406.0L693.0,406.6L692.5,407.1Z" fill="#00c0ff"/><path d="M691.5,406.2L690.5,406.2L689.9,406.0L689.0,405.6L688.5,405.4L687.8,405.0L687.0,404.5L686.5,404.1L686.0,403.8L685.5,403.4L685.0,403.0L684.4,402.5L683.8,402.0L683.2,401.5L682.7,401.0L682.2,400.5L681.7,400.0L681.2,399.5L680.7,399.0L680.3,398.5L679.8,398.0L679.4,397.5L679.0,397.0L678.5,396.4L678.0,395.7L677.5,395.0L677.2,394.5L676.9,394.0L676.5,393.2L676.2,392.5L676.0,392.0L675.8,391.0L676.0,390.1L676.0,389.9L675.5,389.3L674.9,389.0L674.2,388.5L673.5,388.1L673.0,387.7L672.5,387.4L672.0,387.0L671.3,386.5L670.6,386.0L670.0,385.6L669.5,385.2L669.0,384.8L668.5,384.4L668.0,384.0L667.4,383.5L666.7,383.0L666.1,382.5L665.5,382.0L665.0,381.6L664.5,381.1L664.0,380.7L663.5,380.3L663.0,379.9L662.5,379.4L662.0,379.0L661.4,378.5L660.9,378.0L660.3,377.5L659.8,377.0L659.2,376.5L658.7,376.0L658.1,375.5L657.6,375.0L657.0,374.5L656.5,374.0L656.0,373.5L655.5,373.1L655.0,372.6L654.5,372.1L654.0,371.7L653.5,371.2L653.0,370.7L652.5,370.2L652.0,369.8L651.5,369.3L651.0,368.8L650.5,368.3L650.0,367.8L649.5,367.4L649.0,366.9L648.5,366.4L648.0,365.9L647.5,365.4L647.0,364.9L646.5,364.4L646.0,363.8L645.5,363.3L645.0,362.8L644.5,362.3L644.0,361.7L643.5,361.2L643.0,360.7L642.5,360.2L642.0,359.7L641.5,359.3L641.0,358.8L640.5,358.3L640.0,357.9L639.5,357.4L639.0,356.9L638.5,356.4L638.0,355.9L637.5,355.4L637.0,354.9L636.5,354.3L636.0,353.6L635.5,353.0L635.1,352.5L634.8,352.0L634.5,351.5L634.0,350.8L633.5,350.0L633.1,349.5L632.8,349.0L632.5,348.5L632.0,347.8L631.5,347.0L631.1,346.5L630.7,346.0L630.1,345.5L629.5,345.1L629.0,344.7L628.5,344.3L628.0,343.8L627.5,343.4L627.0,342.9L626.5,342.5L626.0,342.0L625.5,341.5L625.0,340.9L624.5,340.4L624.0,339.8L623.5,339.2L623.0,338.6L622.6,338.0L622.2,337.5L621.9,337.0L621.5,336.4L621.0,335.6L620.7,335.0L620.4,334.5L620.0,333.5L619.8,333.0L619.6,332.0L619.6,331.0L620.0,330.1L620.5,329.8L621.5,329.6L622.5,329.7L623.5,330.0L624.0,330.2L624.6,330.5L625.5,330.9L626.0,331.2L626.5,331.5L627.2,332.0L627.9,332.5L628.5,332.9L629.0,333.3L629.5,333.8L630.0,334.2L630.5,334.6L631.0,335.1L631.5,335.5L632.0,336.0L632.5,336.5L633.0,337.1L633.5,337.6L634.0,338.2L634.5,338.8L635.0,339.4L635.4,340.0L635.8,340.5L636.1,341.0L636.5,341.6L637.0,342.4L637.5,342.8L638.0,343.2L638.5,343.6L639.0,344.0L639.6,344.5L640.3,345.0L640.9,345.5L641.5,346.0L642.0,346.4L642.5,346.8L643.0,347.3L643.5,347.7L644.0,348.1L644.5,348.6L645.0,349.0L645.6,349.5L646.1,350.0L646.7,350.5L647.3,351.0L647.8,351.5L648.4,352.0L648.9,352.5L649.5,353.0L650.0,353.5L650.5,353.9L651.0,354.4L651.5,354.9L652.0,355.3L652.5,355.8L653.0,356.3L653.5,356.8L654.0,357.2L654.5,357.7L655.0,358.2L655.5,358.7L656.0,359.2L656.5,359.7L657.0,360.2L657.5,360.7L658.0,361.2L658.5,361.7L659.0,362.3L659.5,362.8L660.0,363.3L660.5,363.8L661.0,364.3L661.5,364.9L662.0,365.4L662.5,365.9L663.0,366.5L663.5,367.0L664.0,367.5L664.4,368.0L664.9,368.5L665.4,369.0L665.8,369.5L666.3,370.0L666.7,370.5L667.2,371.0L667.6,371.5L668.0,372.0L668.5,372.5L669.0,373.1L669.5,373.7L670.0,374.3L670.5,374.8L671.0,375.4L671.5,376.0L671.9,376.5L672.3,377.0L672.7,377.5L673.1,378.0L673.5,378.5L674.0,379.1L674.5,379.8L675.0,380.4L675.4,381.0L675.8,381.5L676.2,382.0L676.5,382.5L677.0,383.2L677.5,383.9L677.9,384.5L678.2,385.0L678.5,385.5L679.0,386.3L679.4,387.0L679.6,387.5L680.0,388.3L680.2,389.0L680.4,390.0L680.2,391.0L681.0,391.5L681.5,391.9L682.0,392.2L682.5,392.6L683.0,393.0L683.6,393.5L684.2,394.0L684.8,394.5L685.3,395.0L685.8,395.5L686.3,396.0L686.8,396.5L687.3,397.0L687.7,397.5L688.2,398.0L688.6,398.5L689.0,399.0L689.5,399.6L690.0,400.3L690.5,401.0L690.8,401.5L691.1,402.0L691.5,402.8L691.8,403.5L692.0,404.0L692.2,405.0L692.0,405.9L691.5,406.2Z" fill="#00e0fa"/><path d="M678.5,389.1L677.5,389.2L676.6,389.0L676.0,388.7L675.5,388.5L674.5,388.0L674.0,387.7L673.5,387.4L672.9,387.0L672.1,386.5L671.5,386.1L671.0,385.7L670.5,385.4L670.0,385.0L669.3,384.5L668.7,384.0L668.0,383.5L667.5,383.1L667.0,382.7L666.5,382.3L666.0,381.9L665.5,381.5L664.9,381.0L664.3,380.5L663.7,380.0L663.1,379.5L662.6,379.0L662.0,378.5L661.5,378.1L661.0,377.6L660.5,377.2L660.0,376.8L659.5,376.3L659.0,375.9L658.5,375.4L658.0,374.9L657.5,374.5L657.0,374.0L656.4,373.5L655.9,373.0L655.3,372.5L654.8,372.0L654.3,371.5L653.7,371.0L653.2,370.5L652.7,370.0L652.1,369.5L651.6,369.0L651.1,368.5L650.6,368.0L650.0,367.5L649.5,367.0L649.0,366.5L648.5,366.0L648.0,365.5L647.5,365.0L647.0,364.5L646.5,364.0L646.1,363.5L645.6,363.0L645.1,362.5L644.6,362.0L644.2,361.5L643.7,361.0L643.2,360.5L642.7,360.0L642.2,359.5L641.6,359.0L641.1,358.5L640.6,358.0L640.0,357.5L639.5,357.0L639.0,356.5L638.5,356.0L638.0,355.5L637.5,355.0L637.1,354.5L636.6,354.0L636.2,353.5L635.9,353.0L635.5,352.5L635.0,351.7L634.5,351.0L634.2,350.5L633.9,350.0L633.5,349.4L633.0,348.6L632.6,348.0L632.3,347.5L632.0,347.0L631.5,346.2L631.0,345.6L630.5,345.2L630.0,344.8L629.5,344.4L628.9,344.0L628.3,343.5L627.8,343.0L627.2,342.5L626.7,342.0L626.2,341.5L625.7,341.0L625.2,340.5L624.8,340.0L624.4,339.5L624.0,339.0L623.5,338.4L623.0,337.7L622.5,337.0L622.2,336.5L621.9,336.0L621.5,335.3L621.1,334.5L620.9,334.0L620.7,333.0L620.6,332.0L621.0,331.1L621.5,330.7L622.5,330.6L623.5,330.8L624.1,331.0L625.0,331.4L625.5,331.6L626.2,332.0L627.0,332.5L627.5,332.8L628.0,333.2L628.5,333.6L629.1,334.0L629.7,334.5L630.2,335.0L630.8,335.5L631.3,336.0L631.8,336.5L632.3,337.0L632.8,337.5L633.2,338.0L633.6,338.5L634.0,339.0L634.5,339.6L635.0,340.3L635.5,341.0L635.8,341.5L636.1,342.0L636.5,342.6L637.0,343.0L637.7,343.5L638.3,344.0L639.0,344.5L639.5,344.9L640.0,345.3L640.5,345.7L641.0,346.1L641.5,346.5L642.1,347.0L642.7,347.5L643.3,348.0L643.9,348.5L644.5,349.0L645.0,349.5L645.5,349.9L646.0,350.3L646.5,350.8L647.0,351.2L647.5,351.6L648.0,352.1L648.5,352.5L649.0,353.0L649.6,353.5L650.1,354.0L650.7,354.5L651.2,355.0L651.7,355.5L652.3,356.0L652.8,356.5L653.3,357.0L653.9,357.5L654.4,358.0L654.9,358.5L655.4,359.0L655.9,359.5L656.4,360.0L656.9,360.5L657.4,361.0L657.8,361.5L658.3,362.0L658.8,362.5L659.3,363.0L659.8,363.5L660.2,364.0L660.7,364.5L661.2,365.0L661.7,365.5L662.1,366.0L662.6,366.5L663.1,367.0L663.5,367.5L664.0,368.0L664.5,368.6L665.0,369.1L665.5,369.7L666.0,370.2L666.5,370.8L667.0,371.3L667.5,371.9L668.0,372.5L668.5,373.0L668.9,373.5L669.3,374.0L669.7,374.5L670.1,375.0L670.6,375.5L671.0,376.0L671.5,376.6L672.0,377.3L672.5,377.9L673.0,378.5L673.4,379.0L673.7,379.5L674.1,380.0L674.5,380.5L675.0,381.2L675.5,381.9L675.9,382.5L676.2,383.0L676.6,383.5L677.0,384.2L677.5,385.0L677.8,385.5L678.0,386.0L678.5,387.0L678.6,387.5L678.8,388.5L678.5,389.1ZM690.5,405.1L689.5,405.1L689.0,404.9L688.0,404.5L687.5,404.2L687.0,403.9L686.4,403.5L685.7,403.0L685.0,402.5L684.5,402.1L684.0,401.6L683.5,401.2L683.0,400.7L682.5,400.3L682.0,399.8L681.5,399.3L681.0,398.7L680.5,398.2L680.0,397.6L679.5,397.0L679.1,396.5L678.8,396.0L678.4,395.5L678.0,394.8L677.5,394.0L677.3,393.5L677.0,392.8L676.8,392.0L677.0,391.2L677.5,390.9L678.5,390.9L679.0,391.1L680.0,391.5L680.5,391.8L681.0,392.1L681.6,392.5L682.3,393.0L683.0,393.5L683.5,393.9L684.0,394.4L684.5,394.8L685.0,395.3L685.5,395.7L686.0,396.2L686.5,396.7L687.0,397.3L687.5,397.8L688.0,398.4L688.5,399.0L688.9,399.5L689.2,400.0L689.6,400.5L690.0,401.2L690.5,402.0L690.7,402.5L691.0,403.2L691.2,404.0L691.0,404.8L690.5,405.1Z" fill="#15ffe1"/><path d="M676.0,387.5L675.5,387.4L674.5,387.1L674.0,386.8L673.4,386.5L672.5,386.0L672.0,385.7L671.5,385.4L670.9,385.0L670.2,384.5L669.5,384.0L669.0,383.6L668.5,383.3L668.0,382.9L667.5,382.5L666.8,382.0L666.2,381.5L665.6,381.0L665.0,380.5L664.5,380.1L664.0,379.7L663.5,379.3L663.0,378.9L662.5,378.4L662.0,378.0L661.4,377.5L660.8,377.0L660.3,376.5L659.7,376.0L659.1,375.5L658.6,375.0L658.0,374.5L657.5,374.0L657.0,373.6L656.5,373.1L656.0,372.6L655.5,372.2L655.0,371.7L654.5,371.3L654.0,370.8L653.5,370.3L653.0,369.9L652.5,369.4L652.0,368.9L651.5,368.5L651.0,368.0L650.5,367.5L649.9,367.0L649.4,366.5L648.9,366.0L648.4,365.5L647.9,365.0L647.4,364.5L646.9,364.0L646.4,363.5L646.0,363.0L645.5,362.5L645.0,362.0L644.5,361.5L644.0,360.9L643.5,360.4L643.0,359.9L642.5,359.4L642.0,359.0L641.5,358.5L641.0,358.0L640.4,357.5L639.9,357.0L639.3,356.5L638.8,356.0L638.3,355.5L637.8,355.0L637.4,354.5L637.0,354.0L636.5,353.4L636.0,352.7L635.5,352.0L635.2,351.5L634.9,351.0L634.5,350.3L634.0,349.5L633.7,349.0L633.4,348.5L633.0,347.7L632.6,347.0L632.3,346.5L632.0,346.0L631.5,345.1L631.0,344.8L630.5,344.4L629.9,344.0L629.3,343.5L628.6,343.0L628.1,342.5L627.5,342.0L627.0,341.5L626.5,341.0L626.0,340.5L625.6,340.0L625.1,339.5L624.7,339.0L624.3,338.5L624.0,338.0L623.5,337.3L623.0,336.5L622.7,336.0L622.5,335.5L622.1,334.5L621.9,334.0L621.9,333.0L622.0,332.5L622.5,332.0L623.5,331.9L624.3,332.0L625.0,332.3L625.6,332.5L626.5,333.0L627.0,333.3L627.5,333.6L628.1,334.0L628.7,334.5L629.4,335.0L629.9,335.5L630.5,336.0L631.0,336.5L631.5,337.0L632.0,337.5L632.4,338.0L632.9,338.5L633.3,339.0L633.7,339.5L634.0,340.0L634.5,340.7L635.0,341.5L635.3,342.0L635.6,342.5L636.1,343.0L636.8,343.5L637.5,344.0L638.0,344.3L638.5,344.7L639.0,345.1L639.6,345.5L640.2,346.0L640.9,346.5L641.5,347.0L642.0,347.4L642.5,347.8L643.0,348.2L643.5,348.7L644.0,349.1L644.5,349.5L645.1,350.0L645.7,350.5L646.2,351.0L646.8,351.5L647.4,352.0L648.0,352.5L648.5,353.0L649.0,353.4L649.5,353.9L650.0,354.3L650.5,354.8L651.0,355.2L651.5,355.7L652.0,356.1L652.5,356.6L653.0,357.1L653.5,357.6L654.0,358.0L654.5,358.5L655.0,359.0L655.5,359.5L656.0,360.0L656.5,360.6L657.0,361.1L657.5,361.6L658.0,362.1L658.5,362.6L659.0,363.2L659.5,363.7L660.0,364.2L660.5,364.8L661.0,365.3L661.5,365.8L662.0,366.4L662.5,366.9L663.0,367.4L663.5,368.0L664.0,368.5L664.4,369.0L664.9,369.5L665.3,370.0L665.8,370.5L666.2,371.0L666.6,371.5L667.1,372.0L667.5,372.5L668.0,373.1L668.5,373.7L669.0,374.3L669.5,374.9L670.0,375.5L670.4,376.0L670.8,376.5L671.2,377.0L671.6,377.5L672.0,378.0L672.5,378.6L673.0,379.3L673.5,380.0L673.9,380.5L674.2,381.0L674.5,381.5L675.0,382.2L675.5,383.0L675.8,383.5L676.1,384.0L676.5,384.9L676.7,385.5L677.0,386.4L677.0,386.8L676.5,387.5L676.0,387.5ZM689.5,403.6L688.5,403.7L687.9,403.5L687.0,403.1L686.5,402.8L686.0,402.5L685.4,402.0L684.7,401.5L684.1,401.0L683.5,400.5L683.0,400.0L682.5,399.5L682.0,399.0L681.5,398.5L681.1,398.0L680.7,397.5L680.3,397.0L679.9,396.5L679.5,395.9L679.0,395.1L678.7,394.5L678.5,394.0L678.3,393.0L678.5,392.4L679.5,392.3L680.1,392.5L681.0,392.9L681.5,393.2L682.0,393.5L682.6,394.0L683.3,394.5L683.9,395.0L684.5,395.5L685.0,396.0L685.5,396.5L686.0,397.0L686.5,397.5L686.9,398.0L687.3,398.5L687.7,399.0L688.1,399.5L688.5,400.1L689.0,400.9L689.3,401.5L689.5,402.0L689.7,403.0L689.5,403.6Z" fill="#2cffca"/><path d="M674.5,385.4L673.5,385.3L672.6,385.0L672.0,384.7L671.5,384.5L670.7,384.0L670.0,383.6L669.5,383.2L669.0,382.9L668.4,382.5L667.8,382.0L667.1,381.5L666.5,381.1L666.0,380.7L665.5,380.3L665.0,379.9L664.5,379.5L663.9,379.0L663.3,378.5L662.7,378.0L662.1,377.5L661.5,377.0L661.0,376.6L660.5,376.1L660.0,375.7L659.5,375.3L659.0,374.8L658.5,374.4L658.0,373.9L657.5,373.5L657.0,373.0L656.4,372.5L655.9,372.0L655.3,371.5L654.8,371.0L654.2,370.5L653.7,370.0L653.1,369.5L652.5,369.0L652.0,368.5L651.5,368.1L651.0,367.6L650.5,367.1L650.0,366.7L649.5,366.2L649.0,365.7L648.5,365.2L648.0,364.7L647.5,364.2L647.0,363.7L646.5,363.2L646.0,362.6L645.5,362.1L645.0,361.6L644.5,361.0L644.0,360.5L643.5,360.0L643.0,359.5L642.5,359.0L642.0,358.6L641.5,358.1L641.0,357.7L640.5,357.2L640.0,356.8L639.5,356.3L639.0,355.8L638.5,355.3L638.0,354.8L637.5,354.2L637.0,353.6L636.5,353.0L636.2,352.5L635.9,352.0L635.5,351.4L635.0,350.5L634.7,350.0L634.5,349.5L634.0,348.5L633.7,348.0L633.5,347.5L633.0,346.5L632.8,346.0L632.5,345.2L632.2,344.5L632.0,343.9L631.2,343.5L630.5,343.1L630.0,342.7L629.5,342.4L629.0,342.0L628.4,341.5L627.9,341.0L627.4,340.5L626.9,340.0L626.4,339.5L626.0,339.0L625.5,338.3L625.0,337.6L624.7,337.0L624.4,336.5L624.1,335.5L624.0,335.0L624.1,334.5L625.0,334.0L625.0,334.0L626.0,334.2L626.7,334.5L627.5,334.9L628.0,335.3L628.5,335.6L629.0,336.0L629.6,336.5L630.1,337.0L630.6,337.5L631.1,338.0L631.6,338.5L632.0,339.0L632.5,339.7L633.0,340.4L633.3,341.0L633.6,341.5L634.0,342.5L634.5,343.0L635.0,343.2L635.5,343.5L636.4,344.0L637.0,344.4L637.5,344.7L638.0,345.0L638.7,345.5L639.4,346.0L640.0,346.5L640.5,346.8L641.0,347.2L641.5,347.6L642.0,348.0L642.6,348.5L643.2,349.0L643.8,349.5L644.4,350.0L645.0,350.5L645.5,350.9L646.0,351.3L646.5,351.8L647.0,352.2L647.5,352.6L648.0,353.0L648.5,353.5L649.1,354.0L649.7,354.5L650.3,355.0L650.8,355.5L651.4,356.0L651.9,356.5L652.5,357.0L653.0,357.5L653.5,358.0L654.0,358.5L654.5,359.0L655.0,359.5L655.5,360.0L656.0,360.5L656.5,361.0L657.0,361.5L657.4,362.0L657.9,362.5L658.4,363.0L658.8,363.5L659.3,364.0L659.8,364.5L660.2,365.0L660.7,365.5L661.1,366.0L661.6,366.5L662.1,367.0L662.5,367.5L663.0,368.0L663.5,368.6L664.0,369.1L664.5,369.7L665.0,370.3L665.5,370.8L666.0,371.4L666.5,372.0L666.9,372.5L667.3,373.0L667.8,373.5L668.2,374.0L668.6,374.5L669.0,375.0L669.5,375.6L670.0,376.3L670.5,376.9L671.0,377.5L671.3,378.0L671.7,378.5L672.0,379.0L672.5,379.7L673.0,380.4L673.4,381.0L673.7,381.5L674.0,382.1L674.5,383.0L674.7,383.5L675.0,384.5L674.5,385.4Z" fill="#46ffb0"/><path d="M672.0,382.6L671.0,382.6L670.5,382.5L669.5,382.0L669.0,381.7L668.5,381.4L667.8,381.0L667.1,380.5L666.5,380.1L666.0,379.7L665.5,379.4L665.0,379.0L664.3,378.5L663.7,378.0L663.1,377.5L662.5,377.0L662.0,376.6L661.5,376.2L661.0,375.8L660.5,375.4L660.0,374.9L659.5,374.5L658.9,374.0L658.4,373.5L657.8,373.0L657.2,372.5L656.6,372.0L656.0,371.5L655.5,371.0L655.0,370.6L654.5,370.2L654.0,369.7L653.5,369.3L653.0,368.9L652.5,368.5L652.0,368.0L651.4,367.5L650.9,367.0L650.3,366.5L649.8,366.0L649.2,365.5L648.7,365.0L648.2,364.5L647.7,364.0L647.2,363.5L646.8,363.0L646.3,362.5L645.8,362.0L645.4,361.5L644.9,361.0L644.4,360.5L644.0,360.0L643.5,359.5L642.9,359.0L642.4,358.5L641.8,358.0L641.3,357.5L640.7,357.0L640.1,356.5L639.6,356.0L639.0,355.5L638.5,355.0L638.1,354.5L637.7,354.0L637.3,353.5L636.9,353.0L636.5,352.4L636.0,351.6L635.7,351.0L635.4,350.5L635.0,349.6L634.8,349.0L634.5,348.2L634.3,347.5L634.1,346.5L634.1,345.5L634.5,344.9L635.5,344.9L636.0,345.0L637.0,345.4L637.5,345.7L638.0,346.0L638.9,346.5L639.5,346.9L640.0,347.2L640.5,347.6L641.1,348.0L641.7,348.5L642.4,349.0L643.0,349.5L643.5,349.9L644.0,350.3L644.5,350.7L645.0,351.1L645.5,351.5L646.1,352.0L646.7,352.5L647.3,353.0L647.9,353.5L648.5,354.0L649.0,354.4L649.5,354.9L650.0,355.3L650.5,355.7L651.0,356.2L651.5,356.6L652.0,357.1L652.5,357.5L653.0,358.0L653.5,358.5L654.0,359.0L654.5,359.5L655.0,360.0L655.5,360.5L656.0,361.0L656.5,361.6L657.0,362.1L657.5,362.7L658.0,363.2L658.5,363.8L659.0,364.3L659.5,364.9L660.0,365.5L660.5,366.0L660.9,366.5L661.4,367.0L661.8,367.5L662.2,368.0L662.7,368.5L663.1,369.0L663.6,369.5L664.0,370.0L664.5,370.6L665.0,371.2L665.5,371.8L666.0,372.4L666.5,373.0L666.9,373.5L667.3,374.0L667.7,374.5L668.1,375.0L668.5,375.5L669.0,376.2L669.5,376.9L670.0,377.5L670.3,378.0L670.6,378.5L671.0,379.1L671.5,380.0L671.7,380.5L672.0,381.1L672.2,382.0L672.0,382.6Z" fill="#5fff96"/><path d="M665.5,376.5L664.5,376.1L664.0,375.9L663.3,375.5L662.5,375.0L662.0,374.6L661.5,374.3L661.0,374.0L660.4,373.5L659.7,373.0L659.0,372.5L658.5,372.2L658.0,371.8L657.5,371.5L656.8,371.0L656.1,370.5L655.5,370.1L655.0,369.7L654.5,369.4L654.0,369.0L653.3,368.5L652.7,368.0L652.1,367.5L651.5,367.0L651.0,366.6L650.5,366.2L650.0,365.7L649.5,365.3L649.0,364.8L648.5,364.3L648.0,363.8L647.5,363.3L647.0,362.8L646.5,362.2L646.0,361.7L645.5,361.1L645.0,360.6L644.5,360.0L644.0,359.5L643.5,359.0L643.0,358.6L642.5,358.1L642.0,357.7L641.5,357.3L641.0,356.9L640.5,356.5L640.0,356.0L639.4,355.5L638.9,355.0L638.4,354.5L638.0,354.0L637.5,353.4L637.0,352.6L636.6,352.0L636.3,351.5L636.0,350.8L635.7,350.0L635.5,349.1L635.4,348.5L635.5,347.9L636.0,347.2L637.0,347.0L638.0,347.3L638.6,347.5L639.5,348.0L640.0,348.3L640.5,348.6L641.1,349.0L641.8,349.5L642.5,350.0L643.0,350.4L643.5,350.8L644.0,351.2L644.5,351.6L645.0,352.0L645.6,352.5L646.2,353.0L646.9,353.5L647.5,353.9L648.0,354.3L648.5,354.7L649.0,355.1L649.5,355.5L650.1,356.0L650.7,356.5L651.3,357.0L651.9,357.5L652.4,358.0L653.0,358.5L653.5,359.0L654.0,359.5L654.4,360.0L654.9,360.5L655.4,361.0L655.8,361.5L656.2,362.0L656.7,362.5L657.1,363.0L657.5,363.5L658.0,364.1L658.5,364.8L659.0,365.4L659.4,366.0L659.8,366.5L660.1,367.0L660.5,367.5L661.0,368.2L661.5,368.9L662.0,369.5L662.3,370.0L662.7,370.5L663.1,371.0L663.5,371.6L664.0,372.3L664.5,373.0L664.8,373.5L665.1,374.0L665.5,374.7L665.8,375.5L665.5,376.5Z" fill="#76ff80"/><path d="M656.5,368.3L655.5,368.4L654.5,368.2L654.0,368.0L653.1,367.5L652.5,367.1L652.0,366.8L651.5,366.4L651.0,366.0L650.4,365.5L649.8,365.0L649.3,364.5L648.7,364.0L648.2,363.5L647.7,363.0L647.3,362.5L646.8,362.0L646.4,361.5L646.0,361.0L645.5,360.5L645.0,359.9L644.5,359.3L644.0,358.8L643.5,358.4L643.0,358.0L642.4,357.5L641.8,357.0L641.1,356.5L640.5,356.0L640.0,355.6L639.5,355.2L639.0,354.7L638.5,354.1L638.0,353.5L637.6,353.0L637.3,352.5L637.0,351.9L636.6,351.0L636.5,350.5L636.4,349.5L636.6,349.0L637.5,348.6L638.5,348.7L639.2,349.0L640.0,349.4L640.5,349.7L641.0,350.0L641.6,350.5L642.2,351.0L642.8,351.5L643.4,352.0L644.0,352.5L644.5,353.0L645.0,353.4L645.5,353.7L646.0,354.0L646.8,354.5L647.5,354.9L648.0,355.2L648.5,355.5L649.2,356.0L649.9,356.5L650.5,357.0L651.0,357.4L651.5,357.8L652.0,358.3L652.5,358.7L653.0,359.2L653.5,359.7L654.0,360.3L654.5,360.8L655.0,361.4L655.5,362.0L655.8,362.5L656.2,363.0L656.5,363.5L657.0,364.4L657.2,365.0L657.5,366.0L657.5,366.5L657.5,367.0L657.0,367.9L656.5,368.3Z" fill="#90ff66"/><path d="M654.5,366.6L653.5,366.6L653.0,366.4L652.1,366.0L651.5,365.7L651.0,365.3L650.5,364.9L650.0,364.5L649.4,364.0L648.9,363.5L648.4,363.0L647.9,362.5L647.4,362.0L647.0,361.5L646.5,360.8L646.0,360.2L645.5,359.5L645.1,359.0L644.7,358.5L644.2,358.0L643.5,357.5L643.0,357.1L642.5,356.8L641.9,356.5L641.2,356.0L640.5,355.5L640.0,355.1L639.5,354.7L639.0,354.1L638.5,353.6L638.1,353.0L637.8,352.5L637.5,351.9L637.3,351.0L637.5,350.2L638.0,349.9L638.9,350.0L639.5,350.2L640.0,350.5L640.8,351.0L641.4,351.5L642.0,352.0L642.5,352.5L642.9,353.0L643.4,353.5L643.9,354.0L644.4,354.5L645.0,355.0L645.5,355.3L646.0,355.5L647.0,355.9L647.5,356.1L648.4,356.5L649.0,356.8L649.5,357.1L650.1,357.5L650.8,358.0L651.4,358.5L652.0,359.0L652.5,359.5L653.0,360.0L653.4,360.5L653.8,361.0L654.2,361.5L654.5,362.0L655.0,362.8L655.3,363.5L655.5,364.0L655.7,365.0L655.5,365.8L655.0,366.4L654.5,366.6Z" fill="#a6ff4f"/><path d="M642.0,355.5L641.5,355.3L640.8,355.0L640.1,354.5L639.5,354.0L639.1,353.5L638.8,353.0L638.5,352.5L638.4,351.5L639.0,351.2L639.8,351.5L640.5,351.9L641.0,352.4L641.5,352.9L642.0,353.5L642.3,354.0L642.5,354.5L642.5,355.4L642.0,355.5ZM653.5,365.2L652.5,365.2L652.0,365.0L651.0,364.5L650.5,364.2L650.0,363.8L649.5,363.4L649.0,362.9L648.5,362.4L648.0,361.8L647.5,361.1L647.1,360.5L646.8,360.0L646.5,359.5L646.1,358.5L646.4,357.5L647.0,357.3L648.0,357.4L648.5,357.6L649.4,358.0L650.0,358.3L650.5,358.7L651.0,359.1L651.5,359.5L652.0,360.0L652.5,360.5L653.0,361.1L653.5,361.9L653.9,362.5L654.1,363.0L654.2,364.0L654.0,364.8L653.5,365.2Z" fill="#c0ff36"/><path d="M652.5,363.7L651.5,363.7L651.0,363.5L650.2,363.0L649.6,362.5L649.1,362.0L648.7,361.5L648.4,361.0L648.0,360.2L647.9,359.5L648.2,359.0L649.0,359.0L649.5,359.1L650.2,359.5L650.9,360.0L651.4,360.5L651.9,361.0L652.2,361.5L652.5,362.0L652.8,363.0L652.5,363.7Z" fill="#daff1c"/><ellipse cx="702.2" cy="294.6" rx="5.0" ry="4.8" transform="rotate(0 702.2 294.6)" fill="#22c8e8"/><ellipse cx="702.2" cy="294.6" rx="3.36" ry="3.20" transform="rotate(0 702.2 294.6)" fill="#18c020"/><ellipse cx="702.2" cy="294.6" rx="1.68" ry="1.60" transform="rotate(0 702.2 294.6)" fill="#604010"/><ellipse cx="692.2" cy="305.8" rx="4.8" ry="4.6" transform="rotate(0 692.2 305.8)" fill="#22c8e8"/><ellipse cx="692.2" cy="305.8" rx="3.20" ry="3.04" transform="rotate(0 692.2 305.8)" fill="#18c020"/><ellipse cx="692.2" cy="305.8" rx="1.60" ry="1.52" transform="rotate(0 692.2 305.8)" fill="#b0e020"/><ellipse cx="724" cy="290.6" rx="4.3" ry="5.8" transform="rotate(0 724 290.6)" fill="#22c8e8"/><ellipse cx="724" cy="290.6" rx="2.80" ry="4.00" transform="rotate(0 724 290.6)" fill="#18c020"/><ellipse cx="724" cy="290.6" rx="1.40" ry="2.00" transform="rotate(0 724 290.6)" fill="#604010"/><ellipse cx="671" cy="304" rx="8.8" ry="3.8" transform="rotate(32 671 304)" fill="#22c8e8"/><ellipse cx="671" cy="304" rx="6.40" ry="2.40" transform="rotate(32 671 304)" fill="#18c020"/><ellipse cx="656" cy="314.5" rx="6.3" ry="3.5999999999999996" transform="rotate(-25 656 314.5)" fill="#22c8e8"/><ellipse cx="656" cy="314.5" rx="4.40" ry="2.24" transform="rotate(-25 656 314.5)" fill="#18c020"/><ellipse cx="670.5" cy="320" rx="4" ry="1.5" transform="rotate(40 670.5 320)" fill="#22c8f0"/><ellipse cx="670.5" cy="320" rx="2.20" ry="0.83" transform="rotate(40 670.5 320)" fill="#30e8e0"/><ellipse cx="715" cy="314" rx="2.6" ry="2.4" transform="rotate(0 715 314)" fill="#22c8f0"/><ellipse cx="715" cy="314" rx="1.43" ry="1.32" transform="rotate(0 715 314)" fill="#30e8e0"/><ellipse cx="715" cy="301.7" rx="1.6" ry="1.6" transform="rotate(0 715 301.7)" fill="#22c8f0"/><ellipse cx="715" cy="301.7" rx="0.88" ry="0.88" transform="rotate(0 715 301.7)" fill="#30e8e0"/><ellipse cx="656" cy="294.5" rx="3.2" ry="2.0" transform="rotate(35 656 294.5)" fill="#22c8f0"/><ellipse cx="656" cy="294.5" rx="1.76" ry="1.10" transform="rotate(35 656 294.5)" fill="#30e8e0"/><ellipse cx="629" cy="318" rx="3.8" ry="3.3" transform="rotate(0 629 318)" fill="#22c8e8"/><ellipse cx="629" cy="318" rx="2.40" ry="2.00" transform="rotate(0 629 318)" fill="#18c020"/><ellipse cx="697.3" cy="251" rx="3.2" ry="2.6" transform="rotate(30 697.3 251)" fill="#22c8f0"/><ellipse cx="697.3" cy="251" rx="1.76" ry="1.43" transform="rotate(30 697.3 251)" fill="#30e8e0"/><ellipse cx="706.5" cy="240.4" rx="3.0" ry="3.2" transform="rotate(0 706.5 240.4)" fill="#22c8e8"/><ellipse cx="706.5" cy="240.4" rx="1.76" ry="1.92" transform="rotate(0 706.5 240.4)" fill="#18c020"/><ellipse cx="721.6" cy="243.4" rx="2.2" ry="3" transform="rotate(0 721.6 243.4)" fill="#22c8f0"/><ellipse cx="721.6" cy="243.4" rx="1.21" ry="1.65" transform="rotate(0 721.6 243.4)" fill="#30e8e0"/><ellipse cx="722.5" cy="269.7" rx="1.5" ry="1.8" transform="rotate(0 722.5 269.7)" fill="#22c8f0"/><ellipse cx="722.5" cy="269.7" rx="0.83" ry="0.99" transform="rotate(0 722.5 269.7)" fill="#30e8e0"/><ellipse cx="686" cy="260.4" rx="2" ry="1.6" transform="rotate(0 686 260.4)" fill="#22c8f0"/><ellipse cx="686" cy="260.4" rx="1.10" ry="0.88" transform="rotate(0 686 260.4)" fill="#30e8e0"/><ellipse cx="645" cy="320" rx="1.8" ry="1.5" transform="rotate(0 645 320)" fill="#22c8f0"/><ellipse cx="645" cy="320" rx="0.99" ry="0.83" transform="rotate(0 645 320)" fill="#30e8e0"/><ellipse cx="681.7" cy="342.2" rx="4.5" ry="1.8" transform="rotate(20 681.7 342.2)" fill="#22c8f0"/><ellipse cx="681.7" cy="342.2" rx="2.48" ry="0.99" transform="rotate(20 681.7 342.2)" fill="#30e8e0"/><ellipse cx="678.6" cy="362.4" rx="3.2" ry="2" transform="rotate(-20 678.6 362.4)" fill="#22c8f0"/><ellipse cx="678.6" cy="362.4" rx="1.76" ry="1.10" transform="rotate(-20 678.6 362.4)" fill="#30e8e0"/><ellipse cx="701.5" cy="373.3" rx="3.6" ry="1.8" transform="rotate(80 701.5 373.3)" fill="#22c8f0"/><ellipse cx="701.5" cy="373.3" rx="1.98" ry="0.99" transform="rotate(80 701.5 373.3)" fill="#30e8e0"/><ellipse cx="698.5" cy="388.5" rx="1.8" ry="1.8" transform="rotate(0 698.5 388.5)" fill="#22c8f0"/><ellipse cx="698.5" cy="388.5" rx="0.99" ry="0.99" transform="rotate(0 698.5 388.5)" fill="#30e8e0"/><ellipse cx="708.6" cy="388.5" rx="2.6" ry="3.0999999999999996" transform="rotate(0 708.6 388.5)" fill="#22c8e8"/><ellipse cx="708.6" cy="388.5" rx="1.44" ry="1.84" transform="rotate(0 708.6 388.5)" fill="#18c020"/><ellipse cx="724" cy="387.4" rx="3" ry="4" transform="rotate(0 724 387.4)" fill="#20a030"/><ellipse cx="724" cy="387.4" rx="1.95" ry="2.60" transform="rotate(0 724 387.4)" fill="#a02010"/><ellipse cx="724" cy="387.4" rx="1.05" ry="1.40" transform="rotate(0 724 387.4)" fill="#200800"/><ellipse cx="666" cy="398.6" rx="3.2" ry="2.3" transform="rotate(0 666 398.6)" fill="#22c8f0"/><ellipse cx="666" cy="398.6" rx="1.76" ry="1.26" transform="rotate(0 666 398.6)" fill="#30e8e0"/><ellipse cx="676.2" cy="404.7" rx="1.8" ry="1.6" transform="rotate(0 676.2 404.7)" fill="#22c8f0"/><ellipse cx="676.2" cy="404.7" rx="0.99" ry="0.88" transform="rotate(0 676.2 404.7)" fill="#30e8e0"/><ellipse cx="720.7" cy="398.6" rx="1.8" ry="1.8" transform="rotate(0 720.7 398.6)" fill="#22c8f0"/><ellipse cx="720.7" cy="398.6" rx="0.99" ry="0.99" transform="rotate(0 720.7 398.6)" fill="#30e8e0"/><ellipse cx="722" cy="410" rx="4.0" ry="5.3" transform="rotate(80 722 410)" fill="#22c8e8"/><ellipse cx="722" cy="410" rx="2.56" ry="3.60" transform="rotate(80 722 410)" fill="#18c020"/><ellipse cx="708.6" cy="419.8" rx="2.8" ry="2.3" transform="rotate(0 708.6 419.8)" fill="#22c8f0"/><ellipse cx="708.6" cy="419.8" rx="1.54" ry="1.26" transform="rotate(0 708.6 419.8)" fill="#30e8e0"/><ellipse cx="678.2" cy="438" rx="5.3" ry="3.5999999999999996" transform="rotate(0 678.2 438)" fill="#22c8e8"/><ellipse cx="678.2" cy="438" rx="3.60" ry="2.24" transform="rotate(0 678.2 438)" fill="#18c020"/><ellipse cx="696.4" cy="354" rx="1.8" ry="1.4" transform="rotate(0 696.4 354)" fill="#22c8f0"/><ellipse cx="696.4" cy="354" rx="0.99" ry="0.77" transform="rotate(0 696.4 354)" fill="#30e8e0"/><ellipse cx="619" cy="401.8" rx="1.8" ry="1.8" transform="rotate(0 619 401.8)" fill="#22c8f0"/><ellipse cx="619" cy="401.8" rx="0.99" ry="0.99" transform="rotate(0 619 401.8)" fill="#30e8e0"/><ellipse cx="569.8" cy="380" rx="4.0" ry="3.8" transform="rotate(0 569.8 380)" fill="#22c8e8"/><ellipse cx="569.8" cy="380" rx="2.56" ry="2.40" transform="rotate(0 569.8 380)" fill="#18c020"/><ellipse cx="548.6" cy="398.8" rx="4.0" ry="3.8" transform="rotate(0 548.6 398.8)" fill="#22c8e8"/><ellipse cx="548.6" cy="398.8" rx="2.56" ry="2.40" transform="rotate(0 548.6 398.8)" fill="#18c020"/><ellipse cx="536.2" cy="410" rx="2.3" ry="1.8" transform="rotate(0 536.2 410)" fill="#22c8f0"/><ellipse cx="536.2" cy="410" rx="1.26" ry="0.99" transform="rotate(0 536.2 410)" fill="#30e8e0"/><ellipse cx="596" cy="397.6" rx="3.6" ry="1.8" transform="rotate(-15 596 397.6)" fill="#22c8f0"/><ellipse cx="596" cy="397.6" rx="1.98" ry="0.99" transform="rotate(-15 596 397.6)" fill="#30e8e0"/><ellipse cx="596" cy="381.4" rx="2" ry="1.8" transform="rotate(0 596 381.4)" fill="#22c8f0"/><ellipse cx="596" cy="381.4" rx="1.10" ry="0.99" transform="rotate(0 596 381.4)" fill="#30e8e0"/><ellipse cx="607" cy="389" rx="1.8" ry="1.5" transform="rotate(0 607 389)" fill="#22c8f0"/><ellipse cx="607" cy="389" rx="0.99" ry="0.83" transform="rotate(0 607 389)" fill="#30e8e0"/><ellipse cx="580" cy="392.6" rx="1.8" ry="1.6" transform="rotate(0 580 392.6)" fill="#22c8f0"/><ellipse cx="580" cy="392.6" rx="0.99" ry="0.88" transform="rotate(0 580 392.6)" fill="#30e8e0"/><ellipse cx="520" cy="426" rx="2.3" ry="1.8" transform="rotate(0 520 426)" fill="#22c8f0"/><ellipse cx="520" cy="426" rx="1.26" ry="0.99" transform="rotate(0 520 426)" fill="#30e8e0"/><ellipse cx="612" cy="337.7" rx="2.8" ry="2.4" transform="rotate(0 612 337.7)" fill="#22c8f0"/><ellipse cx="612" cy="337.7" rx="1.54" ry="1.32" transform="rotate(0 612 337.7)" fill="#30e8e0"/><ellipse cx="510" cy="437.5" rx="4" ry="4" transform="rotate(0 510 437.5)" fill="#20a030"/><ellipse cx="510" cy="437.5" rx="2.60" ry="2.60" transform="rotate(0 510 437.5)" fill="#a02010"/><ellipse cx="510" cy="437.5" rx="1.40" ry="1.40" transform="rotate(0 510 437.5)" fill="#200800"/><ellipse cx="577" cy="437" rx="4.4" ry="3.0999999999999996" transform="rotate(0 577 437)" fill="#22c8e8"/><ellipse cx="577" cy="437" rx="2.88" ry="1.84" transform="rotate(0 577 437)" fill="#18c020"/><line x1="505" y1="328.9" x2="726" y2="328.9" stroke="#d8ecff" stroke-width="1.8"/><line x1="615.7" y1="218" x2="615.7" y2="439" stroke="#d8ecff" stroke-width="1.8"/><line x1="505" y1="439" x2="726" y2="218" stroke="#d8ecff" stroke-width="1.8"/><line x1="615.5" y1="328.5" x2="726" y2="439" stroke="#d8ecff" stroke-width="1.8"/><line x1="615.5" y1="439.0" x2="621.0" y2="439.0" stroke="#d8ecff" stroke-width="1.2"/><line x1="505.0" y1="328.5" x2="505.0" y2="331.7" stroke="#d8ecff" stroke-width="1.2"/><line x1="615.5" y1="416.9" x2="621.0" y2="416.9" stroke="#d8ecff" stroke-width="1.2"/><line x1="527.1" y1="328.5" x2="527.1" y2="331.7" stroke="#d8ecff" stroke-width="1.2"/><line x1="615.5" y1="394.8" x2="621.0" y2="394.8" stroke="#d8ecff" stroke-width="1.2"/><line x1="549.2" y1="328.5" x2="549.2" y2="331.7" stroke="#d8ecff" stroke-width="1.2"/><line x1="615.5" y1="372.7" x2="621.0" y2="372.7" stroke="#d8ecff" stroke-width="1.2"/><line x1="571.3" y1="328.5" x2="571.3" y2="331.7" stroke="#d8ecff" stroke-width="1.2"/><line x1="615.5" y1="350.6" x2="621.0" y2="350.6" stroke="#d8ecff" stroke-width="1.2"/><line x1="593.4" y1="328.5" x2="593.4" y2="331.7" stroke="#d8ecff" stroke-width="1.2"/><line x1="615.5" y1="306.4" x2="621.0" y2="306.4" stroke="#d8ecff" stroke-width="1.2"/><line x1="637.6" y1="328.5" x2="637.6" y2="331.7" stroke="#d8ecff" stroke-width="1.2"/><line x1="615.5" y1="284.3" x2="621.0" y2="284.3" stroke="#d8ecff" stroke-width="1.2"/><line x1="659.7" y1="328.5" x2="659.7" y2="331.7" stroke="#d8ecff" stroke-width="1.2"/><line x1="615.5" y1="262.2" x2="621.0" y2="262.2" stroke="#d8ecff" stroke-width="1.2"/><line x1="681.8" y1="328.5" x2="681.8" y2="331.7" stroke="#d8ecff" stroke-width="1.2"/><line x1="615.5" y1="240.1" x2="621.0" y2="240.1" stroke="#d8ecff" stroke-width="1.2"/><line x1="703.9" y1="328.5" x2="703.9" y2="331.7" stroke="#d8ecff" stroke-width="1.2"/><line x1="615.5" y1="218.0" x2="621.0" y2="218.0" stroke="#d8ecff" stroke-width="1.2"/><line x1="726.0" y1="328.5" x2="726.0" y2="331.7" stroke="#d8ecff" stroke-width="1.2"/><text x="618.5" y="229.5" font-size="12" fill="#d8ecff" letter-spacing="0.8">H<tspan font-size="7" dy="4.5">r</tspan><tspan dy="-4.5"> (Oe)</tspan></text><text x="625.0" y="244.4" font-size="12" fill="#d8ecff">2000</text><text x="625.0" y="288.6" font-size="12" fill="#d8ecff">1000</text><text x="625.0" y="377.0" font-size="12" fill="#d8ecff">-1000</text><text x="625.0" y="421.2" font-size="12" fill="#d8ecff">-2000</text><text x="527.1" y="344.0" font-size="12" fill="#d8ecff" text-anchor="middle">-2000</text><text x="571.3" y="344.0" font-size="12" fill="#d8ecff" text-anchor="middle">-1000</text><text x="659.7" y="344.0" font-size="12" fill="#d8ecff" text-anchor="middle">1000</text><text x="703.9" y="344.0" font-size="12" fill="#d8ecff" text-anchor="middle">2000</text><text x="725" y="325.5" font-size="12" fill="#d8ecff" text-anchor="end" letter-spacing="0.9">H (Oe)</text><text x="526.5" y="432.5" font-size="14" font-weight="bold" fill="#fff">H<tspan font-size="8" dy="6">u</tspan></text><text x="693.5" y="432.5" font-size="14" font-weight="bold" fill="#fff">H<tspan font-size="8" dy="6">c</tspan></text></g><rect x="504.7" y="218" width="41" height="33.7" fill="#000"/><text x="525.2" y="242.5" font-size="20" font-weight="bold" fill="#fff" text-anchor="middle">(f)</text></svg>
</body></html>
